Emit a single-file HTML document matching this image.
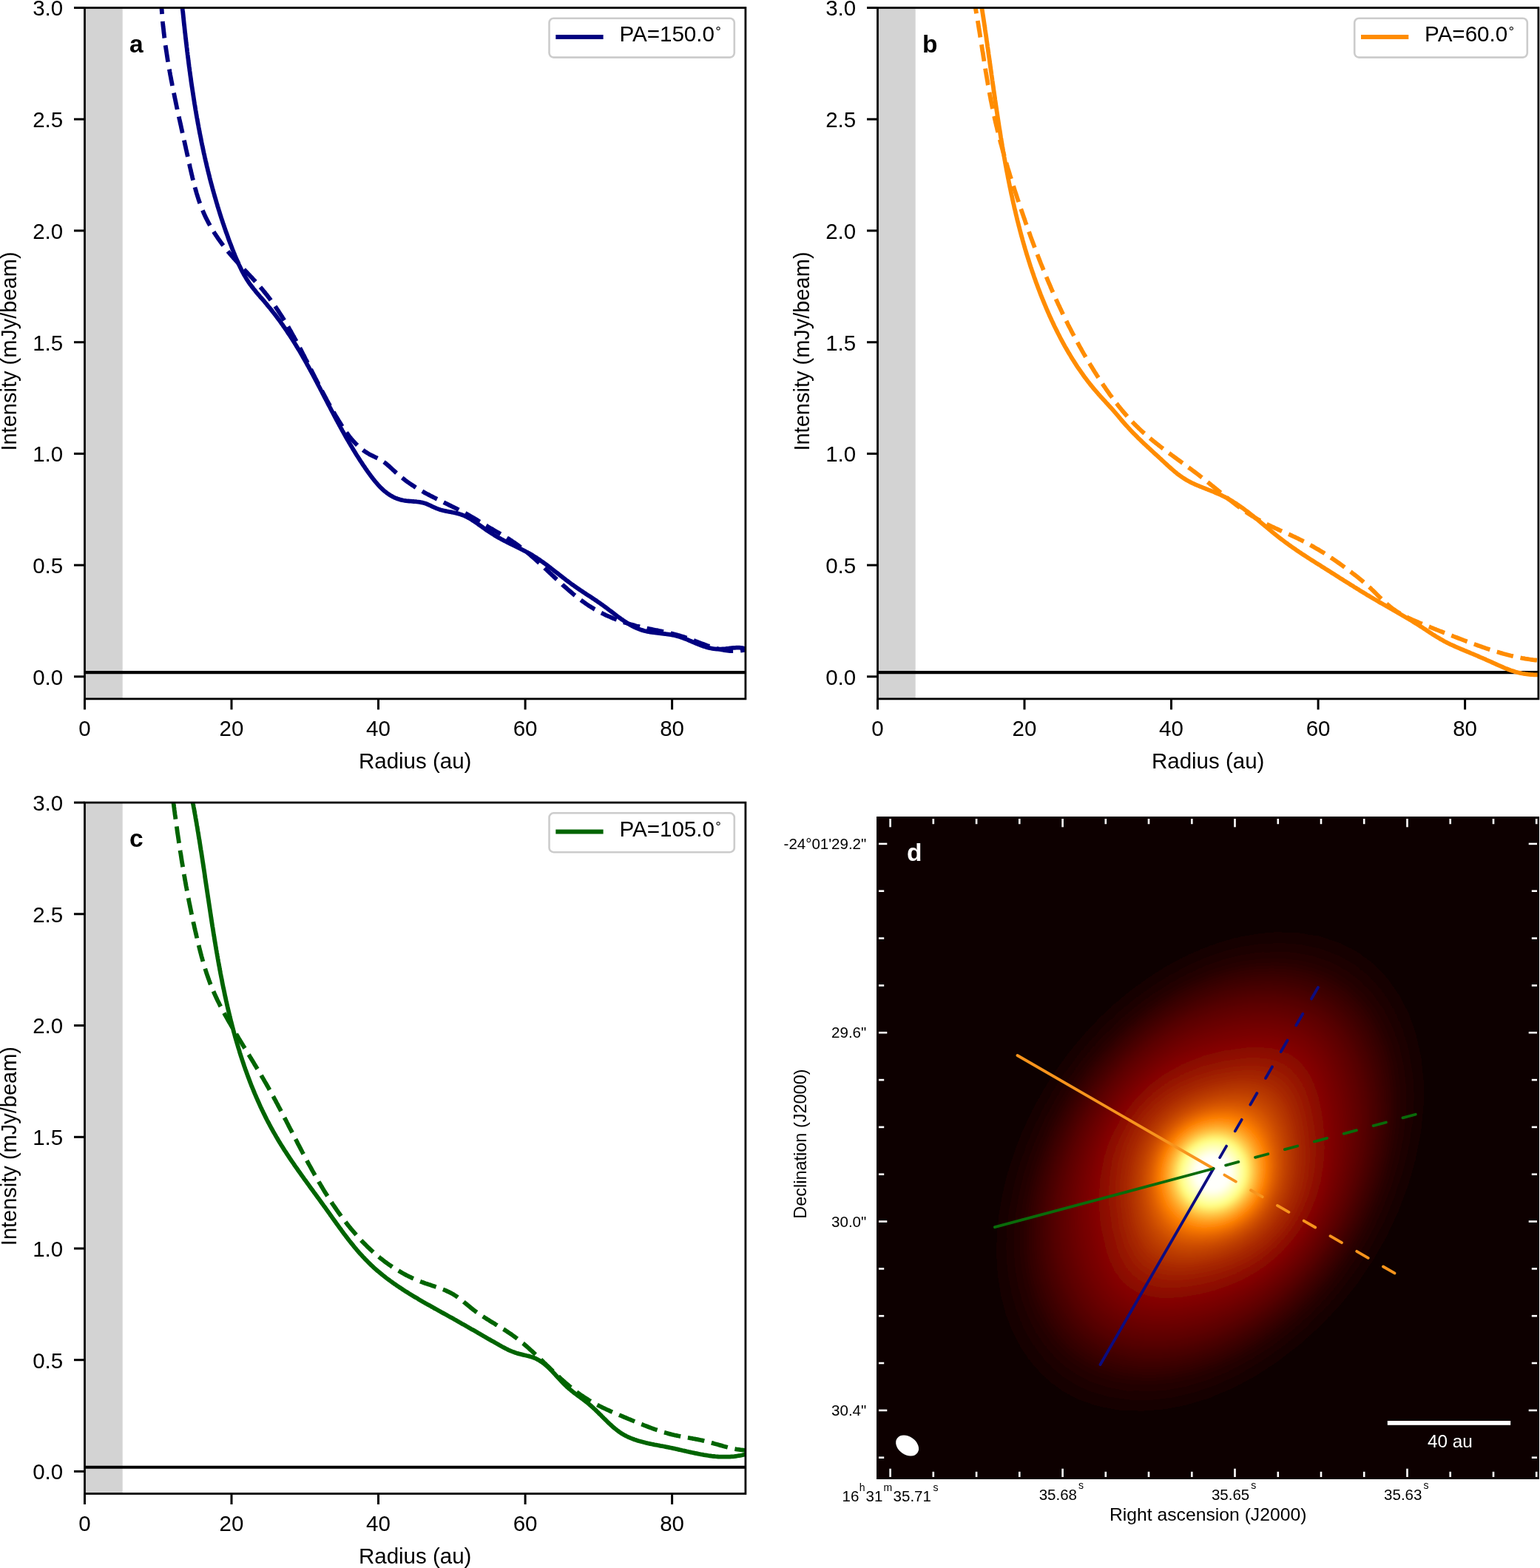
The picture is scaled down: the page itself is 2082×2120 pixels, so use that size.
<!DOCTYPE html>
<html><head><meta charset="utf-8"><title>Figure</title>
<style>html,body{margin:0;padding:0;background:#fff;}svg{display:block;}</style>
</head><body>
<svg xmlns="http://www.w3.org/2000/svg" width="2082" height="2120" viewBox="0 0 2082 2120" font-family="'Liberation Sans', Arial, Helvetica, sans-serif">
<rect width="2082" height="2120" fill="#fff"/>
<defs><clipPath id="ca"><rect x="114.5" y="10.5" width="893.4" height="934.4"/></clipPath></defs>
<rect x="114.5" y="10.5" width="51.2" height="934.4" fill="#d3d3d3"/>
<line x1="114.5" y1="909.1" x2="1007.9" y2="909.1" stroke="#000" stroke-width="4.1"/>
<g clip-path="url(#ca)" fill="none" stroke="#000080" stroke-width="5.8" stroke-linejoin="round">
<path d="M217.9,-0.2 L218.0,1.9 L218.1,3.9 L218.2,6.0 L218.3,8.0 L218.4,10.0 L218.6,12.1 L218.7,14.1 L218.9,16.1 L219.0,18.1 L219.2,20.2 L219.3,22.2 L219.5,24.2 L219.7,26.2 L219.9,28.2 L220.0,30.2 L220.2,32.2 L220.4,34.2 L220.6,36.2 L220.9,38.2 L221.1,40.2 L221.3,42.2 L221.5,44.2 L221.8,46.2 L222.0,48.2 L222.2,50.2 L222.5,52.2 L222.8,54.1 L223.0,56.1 L223.3,58.1 L223.5,60.1 L223.8,62.1 L224.1,64.0 L224.4,66.0 L224.7,68.0 L225.0,69.9 L225.3,71.9 L225.6,73.9 L225.9,75.8 L226.2,77.8 L226.5,79.7 L226.8,81.7 L227.2,83.7 L227.5,85.6 L227.8,87.6 L228.2,89.5 L228.5,91.5 L228.8,93.4 L229.2,95.4 L229.5,97.3 L229.9,99.3 L230.2,101.2 L230.6,103.2 L231.0,105.1 L231.3,107.1 L231.7,109.0 L232.1,111.0 L232.5,112.9 L232.8,114.8 L233.2,116.8 L233.6,118.7 L234.0,120.7 L234.4,122.6 L234.8,124.6 L235.2,126.5 L235.6,128.4 L236.0,130.4 L236.4,132.3 L236.8,134.3 L237.2,136.2 L237.6,138.1 L238.0,140.1 L238.4,142.0 L238.8,144.0 L239.2,145.9 L239.7,147.8 L240.1,149.8 L240.5,151.7 L240.9,153.7 L241.4,155.6 L241.8,157.5 L242.2,159.5 L242.6,161.4 L243.1,163.4 L243.5,165.3 L243.9,167.3 L244.4,169.2 L244.8,171.1 L245.2,173.1 L245.6,175.0 L246.1,177.0 L246.5,178.9 L247.0,180.9 L247.4,182.8 L247.8,184.8 L248.3,186.7 L248.7,188.7 L249.1,190.7 L249.6,192.6 L250.0,194.6 L250.4,196.5 L250.9,198.5 L251.3,200.5 L251.7,202.4 L252.2,204.4 L252.6,206.3 L253.0,208.3 L253.5,210.3 L253.9,212.3 L254.3,214.2 L254.8,216.2 L255.2,218.2 L255.6,220.2 L256.1,222.1 L256.5,224.1 L256.9,226.1 L257.4,228.1 L257.8,230.0 L258.3,232.0 L258.7,234.0 L259.2,235.9 L259.7,237.9 L260.1,239.9 L260.6,241.8 L261.1,243.8 L261.6,245.8 L262.1,247.7 L262.6,249.7 L263.1,251.6 L263.6,253.6 L264.2,255.5 L264.7,257.4 L265.3,259.4 L265.8,261.3 L266.4,263.2 L267.0,265.1 L267.6,267.0 L268.2,268.9 L268.8,270.8 L269.5,272.7 L270.1,274.6 L270.8,276.4 L271.5,278.3 L272.2,280.2 L272.9,282.0 L273.7,283.8 L274.5,285.7 L275.2,287.5 L276.0,289.3 L276.8,291.1 L277.7,292.9 L278.5,294.7 L279.4,296.4 L280.3,298.2 L281.2,299.9 L282.1,301.7 L283.1,303.4 L284.0,305.1 L285.0,306.8 L286.0,308.6 L287.0,310.2 L288.0,311.9 L289.1,313.6 L290.1,315.3 L291.2,316.9 L292.3,318.6 L293.4,320.2 L294.5,321.9 L295.6,323.5 L296.8,325.1 L297.9,326.7 L299.1,328.3 L300.3,329.9 L301.5,331.5 L302.7,333.0 L303.9,334.6 L305.1,336.2 L306.3,337.7 L307.6,339.2 L308.9,340.8 L310.1,342.3 L311.4,343.8 L312.7,345.3 L314.0,346.8 L315.3,348.3 L316.6,349.8 L318.0,351.3 L319.3,352.8 L320.6,354.2 L322.0,355.7 L323.3,357.2 L324.7,358.6 L326.1,360.1 L327.4,361.6 L328.8,363.0 L330.2,364.5 L331.5,365.9 L332.9,367.4 L334.3,368.8 L335.6,370.3 L337.0,371.7 L338.3,373.2 L339.7,374.6 L341.1,376.1 L342.4,377.6 L343.8,379.0 L345.1,380.5 L346.4,382.0 L347.8,383.4 L349.1,384.9 L350.4,386.4 L351.7,387.9 L353.0,389.4 L354.3,390.9 L355.6,392.5 L356.8,394.0 L358.1,395.5 L359.3,397.1 L360.6,398.6 L361.8,400.2 L363.0,401.8 L364.2,403.3 L365.4,404.9 L366.5,406.5 L367.7,408.1 L368.9,409.7 L370.0,411.3 L371.2,413.0 L372.3,414.6 L373.4,416.2 L374.5,417.9 L375.7,419.5 L376.7,421.2 L377.8,422.8 L378.9,424.5 L380.0,426.2 L381.1,427.8 L382.1,429.5 L383.2,431.2 L384.2,432.9 L385.3,434.6 L386.3,436.3 L387.3,438.0 L388.3,439.7 L389.4,441.4 L390.4,443.1 L391.4,444.9 L392.4,446.6 L393.4,448.3 L394.3,450.1 L395.3,451.8 L396.3,453.6 L397.3,455.3 L398.2,457.1 L399.2,458.8 L400.2,460.6 L401.1,462.3 L402.1,464.1 L403.0,465.9 L403.9,467.6 L404.9,469.4 L405.8,471.2 L406.8,473.0 L407.7,474.7 L408.6,476.5 L409.5,478.3 L410.5,480.1 L411.4,481.9 L412.3,483.7 L413.2,485.5 L414.1,487.2 L415.1,489.0 L416.0,490.8 L416.9,492.6 L417.8,494.4 L418.7,496.2 L419.6,498.0 L420.5,499.8 L421.4,501.6 L422.3,503.4 L423.3,505.2 L424.2,507.0 L425.1,508.8 L426.0,510.6 L426.9,512.3 L427.8,514.1 L428.7,515.9 L429.7,517.7 L430.6,519.5 L431.5,521.3 L432.4,523.1 L433.3,524.9 L434.3,526.6 L435.2,528.4 L436.1,530.2 L437.1,532.0 L438.0,533.7 L439.0,535.5 L439.9,537.3 L440.9,539.0 L441.8,540.8 L442.8,542.6 L443.7,544.3 L444.7,546.1 L445.7,547.8 L446.6,549.6 L447.6,551.3 L448.6,553.0 L449.6,554.8 L450.6,556.5 L451.6,558.2 L452.6,560.0 L453.6,561.7 L454.6,563.4 L455.7,565.1 L456.7,566.8 L457.7,568.5 L458.8,570.2 L459.8,571.9 L460.9,573.6 L461.9,575.2 L463.0,576.9 L464.1,578.5 L465.2,580.2 L466.3,581.8 L467.5,583.4 L468.6,585.0 L469.8,586.6 L471.0,588.2 L472.1,589.8 L473.4,591.3 L474.6,592.8 L475.9,594.3 L477.1,595.8 L478.5,597.2 L479.8,598.6 L481.1,600.0 L482.5,601.4 L483.9,602.8 L485.4,604.1 L486.8,605.3 L488.3,606.6 L489.9,607.8 L491.4,609.0 L493.0,610.1 L494.7,611.3 L496.3,612.3 L498.1,613.4 L499.8,614.4 L501.6,615.3 L503.4,616.2 L505.3,617.1 L507.1,618.0 L509.0,618.9 L510.8,619.8 L512.6,620.7 L514.4,621.7 L516.2,622.7 L517.8,623.8 L519.5,625.0 L521.0,626.1 L522.6,627.4 L524.1,628.7 L525.6,630.0 L527.1,631.3 L528.5,632.6 L530.0,634.0 L531.4,635.3 L532.9,636.7 L534.3,638.0 L535.8,639.4 L537.3,640.7 L538.8,642.0 L540.4,643.3 L541.9,644.5 L543.4,645.8 L545.0,647.0 L546.6,648.3 L548.1,649.5 L549.7,650.7 L551.3,651.8 L553.0,653.0 L554.6,654.1 L556.2,655.2 L557.9,656.3 L559.6,657.4 L561.2,658.5 L562.9,659.6 L564.6,660.6 L566.3,661.6 L568.0,662.6 L569.8,663.6 L571.5,664.6 L573.2,665.6 L575.0,666.6 L576.7,667.5 L578.5,668.4 L580.3,669.4 L582.0,670.3 L583.8,671.2 L585.6,672.1 L587.4,673.0 L589.2,673.9 L591.0,674.8 L592.8,675.7 L594.6,676.6 L596.4,677.5 L598.2,678.4 L600.0,679.3 L601.8,680.2 L603.6,681.0 L605.4,681.9 L607.2,682.8 L609.0,683.7 L610.8,684.6 L612.6,685.5 L614.4,686.3 L616.1,687.2 L617.9,688.1 L619.7,689.0 L621.5,690.0 L623.3,690.9 L625.0,691.8 L626.8,692.7 L628.6,693.7 L630.3,694.6 L632.1,695.6 L633.8,696.6 L635.5,697.6 L637.2,698.6 L639.0,699.6 L640.7,700.6 L642.4,701.6 L644.1,702.6 L645.8,703.6 L647.5,704.7 L649.2,705.7 L650.9,706.7 L652.6,707.7 L654.3,708.8 L656.0,709.8 L657.7,710.8 L659.4,711.9 L661.1,712.9 L662.8,713.9 L664.5,714.9 L666.3,715.9 L668.0,716.9 L669.7,717.9 L671.4,718.9 L673.1,719.9 L674.9,720.9 L676.6,721.9 L678.3,722.9 L680.0,723.9 L681.7,725.0 L683.4,726.0 L685.1,727.0 L686.8,728.1 L688.5,729.1 L690.1,730.2 L691.8,731.3 L693.4,732.4 L695.1,733.5 L696.7,734.6 L698.3,735.7 L699.9,736.9 L701.5,738.1 L703.1,739.3 L704.7,740.4 L706.2,741.7 L707.8,742.9 L709.3,744.1 L710.9,745.4 L712.4,746.6 L713.9,747.9 L715.4,749.1 L716.9,750.4 L718.4,751.7 L719.9,753.0 L721.4,754.3 L722.9,755.6 L724.4,757.0 L725.9,758.3 L727.3,759.6 L728.8,761.0 L730.3,762.3 L731.7,763.7 L733.2,765.0 L734.6,766.4 L736.1,767.7 L737.5,769.1 L739.0,770.5 L740.4,771.8 L741.9,773.2 L743.3,774.6 L744.8,775.9 L746.2,777.3 L747.7,778.7 L749.1,780.0 L750.6,781.4 L752.0,782.8 L753.5,784.1 L755.0,785.5 L756.4,786.8 L757.9,788.2 L759.4,789.5 L760.8,790.9 L762.3,792.2 L763.8,793.5 L765.3,794.8 L766.8,796.1 L768.3,797.5 L769.8,798.7 L771.3,800.0 L772.8,801.3 L774.3,802.6 L775.8,803.9 L777.4,805.1 L778.9,806.3 L780.5,807.6 L782.0,808.8 L783.6,810.0 L785.2,811.2 L786.8,812.4 L788.4,813.5 L790.0,814.7 L791.6,815.8 L793.3,817.0 L794.9,818.1 L796.6,819.2 L798.3,820.2 L799.9,821.3 L801.6,822.3 L803.3,823.4 L805.1,824.4 L806.8,825.3 L808.6,826.3 L810.3,827.3 L812.1,828.2 L813.9,829.1 L815.7,830.0 L817.5,830.9 L819.3,831.8 L821.1,832.6 L823.0,833.4 L824.8,834.2 L826.7,835.0 L828.5,835.8 L830.4,836.6 L832.3,837.3 L834.2,838.0 L836.1,838.7 L838.0,839.4 L839.9,840.1 L841.8,840.8 L843.7,841.4 L845.6,842.0 L847.5,842.6 L849.4,843.2 L851.4,843.8 L853.3,844.4 L855.2,844.9 L857.1,845.4 L859.1,846.0 L861.0,846.5 L862.9,846.9 L864.9,847.4 L866.8,847.9 L868.7,848.3 L870.7,848.7 L872.6,849.1 L874.5,849.5 L876.4,849.9 L878.4,850.3 L880.3,850.7 L882.2,851.1 L884.1,851.5 L886.1,851.9 L888.0,852.2 L889.9,852.6 L891.8,853.0 L893.7,853.4 L895.7,853.8 L897.6,854.2 L899.5,854.6 L901.4,855.0 L903.3,855.4 L905.2,855.8 L907.1,856.3 L909.0,856.7 L910.9,857.2 L912.8,857.7 L914.8,858.2 L916.6,858.8 L918.5,859.3 L920.4,859.9 L922.3,860.5 L924.2,861.1 L926.1,861.7 L928.0,862.4 L929.9,863.0 L931.8,863.7 L933.7,864.4 L935.5,865.1 L937.4,865.8 L939.3,866.5 L941.2,867.3 L943.1,868.0 L945.0,868.7 L946.9,869.4 L948.7,870.1 L950.6,870.8 L952.5,871.5 L954.4,872.2 L956.3,872.9 L958.2,873.5 L960.1,874.1 L962.0,874.8 L963.9,875.4 L965.8,875.9 L967.7,876.5 L969.6,877.0 L971.6,877.5 L973.5,877.9 L975.4,878.3 L977.3,878.7 L979.3,879.1 L981.2,879.4 L983.2,879.6 L985.1,879.8 L987.1,880.0 L989.0,880.1 L991.0,880.2 L993.0,880.2 L994.9,880.2 L996.9,880.1 L998.9,879.9 L1000.9,879.7 L1002.9,879.4 L1005.0,879.1 L1007.0,878.7 L1009.0,878.2 L1011.1,877.6 L1013.1,877.0 L1015.2,876.3" stroke-dasharray="22.8 9.9" stroke-dashoffset="3.6"/>
<path d="M245.5,-0.1 L245.7,1.9 L245.9,3.9 L246.1,5.9 L246.3,7.9 L246.5,9.9 L246.7,11.9 L246.9,13.9 L247.2,15.9 L247.4,17.9 L247.6,19.9 L247.8,21.9 L248.0,23.8 L248.2,25.8 L248.4,27.8 L248.6,29.8 L248.8,31.8 L249.0,33.8 L249.3,35.8 L249.5,37.8 L249.7,39.8 L249.9,41.8 L250.1,43.8 L250.4,45.7 L250.6,47.7 L250.8,49.7 L251.0,51.7 L251.3,53.7 L251.5,55.7 L251.7,57.7 L252.0,59.7 L252.2,61.7 L252.4,63.6 L252.7,65.6 L252.9,67.6 L253.1,69.6 L253.4,71.6 L253.6,73.6 L253.9,75.6 L254.1,77.5 L254.4,79.5 L254.6,81.5 L254.9,83.5 L255.1,85.5 L255.4,87.5 L255.6,89.4 L255.9,91.4 L256.2,93.4 L256.4,95.4 L256.7,97.4 L257.0,99.4 L257.2,101.3 L257.5,103.3 L257.8,105.3 L258.1,107.3 L258.3,109.2 L258.6,111.2 L258.9,113.2 L259.2,115.2 L259.5,117.2 L259.8,119.1 L260.1,121.1 L260.4,123.1 L260.7,125.1 L261.0,127.0 L261.3,129.0 L261.6,131.0 L261.9,132.9 L262.2,134.9 L262.5,136.9 L262.8,138.9 L263.1,140.8 L263.5,142.8 L263.8,144.8 L264.1,146.7 L264.4,148.7 L264.8,150.7 L265.1,152.6 L265.4,154.6 L265.8,156.6 L266.1,158.5 L266.5,160.5 L266.8,162.4 L267.2,164.4 L267.5,166.4 L267.9,168.3 L268.3,170.3 L268.6,172.3 L269.0,174.2 L269.4,176.2 L269.7,178.1 L270.1,180.1 L270.5,182.0 L270.9,184.0 L271.3,185.9 L271.7,187.9 L272.0,189.9 L272.4,191.8 L272.8,193.8 L273.2,195.7 L273.7,197.7 L274.1,199.6 L274.5,201.6 L274.9,203.5 L275.3,205.5 L275.7,207.4 L276.2,209.3 L276.6,211.3 L277.0,213.2 L277.5,215.2 L277.9,217.1 L278.4,219.1 L278.8,221.0 L279.3,222.9 L279.7,224.9 L280.2,226.8 L280.7,228.8 L281.1,230.7 L281.6,232.6 L282.1,234.6 L282.6,236.5 L283.1,238.4 L283.5,240.4 L284.0,242.3 L284.5,244.2 L285.0,246.1 L285.5,248.1 L286.1,250.0 L286.6,251.9 L287.1,253.9 L287.6,255.8 L288.1,257.7 L288.7,259.6 L289.2,261.5 L289.8,263.5 L290.3,265.4 L290.9,267.3 L291.4,269.2 L292.0,271.1 L292.5,273.1 L293.1,275.0 L293.7,276.9 L294.2,278.8 L294.8,280.7 L295.4,282.6 L296.0,284.5 L296.6,286.4 L297.2,288.3 L297.8,290.3 L298.4,292.2 L299.0,294.1 L299.6,296.0 L300.3,297.9 L300.9,299.8 L301.5,301.7 L302.2,303.6 L302.8,305.5 L303.5,307.4 L304.1,309.3 L304.8,311.2 L305.4,313.1 L306.1,314.9 L306.8,316.8 L307.5,318.7 L308.1,320.6 L308.8,322.5 L309.5,324.4 L310.2,326.3 L310.9,328.2 L311.6,330.0 L312.4,331.9 L313.1,333.8 L313.8,335.7 L314.5,337.6 L315.3,339.4 L316.0,341.3 L316.8,343.2 L317.5,345.1 L318.3,346.9 L319.1,348.8 L319.9,350.6 L320.7,352.5 L321.5,354.3 L322.3,356.2 L323.1,358.0 L324.0,359.8 L324.9,361.6 L325.7,363.4 L326.6,365.2 L327.5,367.0 L328.5,368.7 L329.4,370.5 L330.4,372.2 L331.4,373.9 L332.4,375.6 L333.4,377.3 L334.5,379.0 L335.6,380.6 L336.7,382.3 L337.8,383.9 L339.0,385.5 L340.2,387.1 L341.4,388.6 L342.6,390.2 L343.8,391.7 L345.1,393.2 L346.3,394.8 L347.6,396.3 L348.9,397.8 L350.2,399.3 L351.4,400.8 L352.7,402.3 L354.0,403.7 L355.3,405.2 L356.6,406.7 L357.9,408.2 L359.1,409.7 L360.4,411.2 L361.7,412.8 L362.9,414.3 L364.2,415.8 L365.4,417.3 L366.7,418.9 L367.9,420.4 L369.1,422.0 L370.3,423.5 L371.6,425.1 L372.8,426.7 L374.0,428.3 L375.2,429.9 L376.4,431.5 L377.6,433.1 L378.8,434.7 L379.9,436.3 L381.1,438.0 L382.3,439.6 L383.4,441.3 L384.6,442.9 L385.7,444.6 L386.9,446.2 L388.0,447.9 L389.1,449.6 L390.2,451.3 L391.4,452.9 L392.5,454.6 L393.6,456.3 L394.6,458.0 L395.7,459.7 L396.8,461.4 L397.9,463.1 L398.9,464.8 L400.0,466.5 L401.0,468.3 L402.1,470.0 L403.1,471.7 L404.2,473.4 L405.2,475.1 L406.2,476.8 L407.2,478.6 L408.2,480.3 L409.2,482.0 L410.2,483.8 L411.2,485.5 L412.2,487.2 L413.2,489.0 L414.2,490.7 L415.1,492.5 L416.1,494.2 L417.1,495.9 L418.0,497.7 L419.0,499.4 L419.9,501.2 L420.9,502.9 L421.8,504.7 L422.8,506.4 L423.7,508.2 L424.7,510.0 L425.6,511.7 L426.5,513.5 L427.5,515.2 L428.4,517.0 L429.3,518.8 L430.2,520.5 L431.2,522.3 L432.1,524.0 L433.0,525.8 L433.9,527.6 L434.9,529.3 L435.8,531.1 L436.7,532.9 L437.6,534.6 L438.5,536.4 L439.4,538.1 L440.4,539.9 L441.3,541.7 L442.2,543.4 L443.1,545.2 L444.0,547.0 L445.0,548.7 L445.9,550.5 L446.8,552.2 L447.7,554.0 L448.6,555.8 L449.6,557.5 L450.5,559.3 L451.4,561.0 L452.3,562.8 L453.3,564.6 L454.2,566.3 L455.1,568.1 L456.1,569.8 L457.0,571.6 L458.0,573.3 L458.9,575.1 L459.9,576.8 L460.8,578.6 L461.8,580.3 L462.7,582.1 L463.7,583.8 L464.7,585.5 L465.7,587.3 L466.6,589.0 L467.6,590.8 L468.6,592.5 L469.6,594.2 L470.6,595.9 L471.6,597.7 L472.6,599.4 L473.6,601.1 L474.6,602.8 L475.7,604.6 L476.7,606.3 L477.7,608.0 L478.8,609.7 L479.8,611.4 L480.9,613.1 L481.9,614.8 L483.0,616.5 L484.1,618.2 L485.2,619.9 L486.3,621.6 L487.4,623.3 L488.5,624.9 L489.6,626.6 L490.7,628.3 L491.8,630.0 L493.0,631.6 L494.1,633.3 L495.3,635.0 L496.4,636.6 L497.6,638.3 L498.8,639.9 L500.0,641.6 L501.2,643.2 L502.4,644.8 L503.6,646.4 L504.9,648.0 L506.1,649.6 L507.4,651.2 L508.7,652.7 L510.0,654.2 L511.3,655.7 L512.7,657.1 L514.0,658.6 L515.4,659.9 L516.8,661.3 L518.3,662.6 L519.7,663.9 L521.2,665.1 L522.7,666.3 L524.3,667.4 L525.8,668.5 L527.4,669.5 L529.1,670.5 L530.7,671.4 L532.4,672.3 L534.1,673.1 L535.9,673.8 L537.7,674.5 L539.5,675.1 L541.4,675.7 L543.3,676.1 L545.3,676.5 L547.2,676.8 L549.2,677.1 L551.3,677.3 L553.3,677.5 L555.4,677.6 L557.5,677.8 L559.6,678.0 L561.6,678.1 L563.7,678.4 L565.7,678.6 L567.7,678.9 L569.7,679.3 L571.7,679.7 L573.6,680.2 L575.4,680.8 L577.3,681.5 L579.1,682.3 L580.9,683.1 L582.6,683.9 L584.4,684.8 L586.2,685.6 L587.9,686.4 L589.7,687.2 L591.6,687.9 L593.4,688.6 L595.3,689.2 L597.2,689.7 L599.2,690.2 L601.2,690.7 L603.1,691.1 L605.1,691.5 L607.1,691.9 L609.1,692.2 L611.1,692.6 L613.1,693.0 L615.1,693.5 L617.1,693.9 L619.1,694.4 L621.0,694.9 L622.9,695.5 L624.8,696.2 L626.6,696.9 L628.4,697.7 L630.2,698.5 L631.9,699.4 L633.7,700.3 L635.4,701.3 L637.1,702.3 L638.7,703.4 L640.4,704.4 L642.0,705.5 L643.7,706.7 L645.3,707.8 L646.9,709.0 L648.5,710.1 L650.1,711.3 L651.8,712.4 L653.4,713.6 L655.0,714.7 L656.6,715.9 L658.2,717.0 L659.9,718.1 L661.5,719.2 L663.2,720.2 L664.8,721.3 L666.5,722.4 L668.1,723.4 L669.8,724.4 L671.5,725.4 L673.2,726.4 L674.9,727.4 L676.6,728.3 L678.3,729.3 L680.1,730.2 L681.8,731.1 L683.6,732.0 L685.3,732.9 L687.1,733.8 L688.8,734.7 L690.6,735.6 L692.4,736.4 L694.2,737.3 L695.9,738.2 L697.7,739.0 L699.5,739.9 L701.3,740.8 L703.0,741.7 L704.8,742.6 L706.6,743.5 L708.3,744.4 L710.1,745.3 L711.8,746.2 L713.6,747.2 L715.3,748.1 L717.0,749.1 L718.7,750.1 L720.4,751.1 L722.1,752.2 L723.8,753.2 L725.5,754.3 L727.1,755.4 L728.8,756.5 L730.4,757.6 L732.1,758.8 L733.7,759.9 L735.3,761.1 L736.9,762.2 L738.5,763.4 L740.1,764.6 L741.7,765.8 L743.3,767.0 L744.9,768.3 L746.5,769.5 L748.1,770.7 L749.6,771.9 L751.2,773.2 L752.8,774.4 L754.4,775.6 L756.0,776.9 L757.5,778.1 L759.1,779.3 L760.7,780.6 L762.3,781.8 L763.9,783.0 L765.4,784.2 L767.0,785.4 L768.6,786.6 L770.2,787.8 L771.8,789.0 L773.4,790.2 L775.1,791.3 L776.7,792.5 L778.3,793.6 L779.9,794.8 L781.6,795.9 L783.2,797.0 L784.9,798.1 L786.5,799.2 L788.2,800.3 L789.8,801.4 L791.5,802.5 L793.1,803.6 L794.8,804.7 L796.5,805.7 L798.1,806.8 L799.8,807.9 L801.4,809.0 L803.1,810.1 L804.7,811.2 L806.4,812.3 L808.0,813.5 L809.7,814.6 L811.3,815.7 L812.9,816.9 L814.6,818.0 L816.2,819.2 L817.8,820.4 L819.4,821.5 L821.0,822.7 L822.6,824.0 L824.2,825.2 L825.8,826.4 L827.4,827.6 L829.0,828.8 L830.6,830.1 L832.2,831.3 L833.8,832.5 L835.4,833.7 L837.0,834.9 L838.6,836.0 L840.2,837.2 L841.9,838.3 L843.5,839.5 L845.1,840.6 L846.8,841.6 L848.4,842.7 L850.1,843.7 L851.8,844.7 L853.5,845.7 L855.2,846.6 L856.9,847.5 L858.7,848.3 L860.4,849.1 L862.2,849.9 L864.0,850.6 L865.9,851.3 L867.7,851.9 L869.6,852.4 L871.4,853.0 L873.4,853.4 L875.3,853.8 L877.2,854.2 L879.2,854.6 L881.2,854.9 L883.2,855.2 L885.2,855.4 L887.2,855.7 L889.2,855.9 L891.2,856.1 L893.2,856.3 L895.2,856.6 L897.2,856.8 L899.3,857.0 L901.3,857.3 L903.3,857.6 L905.3,857.9 L907.3,858.2 L909.2,858.6 L911.2,859.0 L913.2,859.4 L915.1,859.9 L917.0,860.5 L918.9,861.1 L920.8,861.7 L922.7,862.3 L924.5,863.0 L926.4,863.7 L928.2,864.4 L930.0,865.2 L931.9,866.0 L933.7,866.7 L935.5,867.5 L937.3,868.3 L939.1,869.0 L940.9,869.8 L942.7,870.6 L944.5,871.3 L946.4,872.0 L948.2,872.7 L950.0,873.4 L951.8,874.0 L953.7,874.6 L955.5,875.2 L957.4,875.7 L959.3,876.1 L961.2,876.5 L963.1,876.9 L965.0,877.2 L966.9,877.4 L968.9,877.6 L970.9,877.6 L972.9,877.7 L974.9,877.6 L976.9,877.4 L979.0,877.3 L981.0,877.1 L983.1,876.8 L985.2,876.6 L987.3,876.3 L989.3,876.1 L991.4,875.9 L993.5,875.8 L995.5,875.7 L997.6,875.7 L999.6,875.7 L1001.6,875.9 L1003.6,876.2 L1005.5,876.6 L1007.5,877.1 L1009.4,877.8 L1011.2,878.6 L1013.0,879.7 L1014.8,880.9"/>
</g>
<rect x="114.5" y="10.5" width="893.4" height="934.4" fill="none" stroke="#000" stroke-width="2.8"/>
<line x1="100.0" y1="914.8" x2="114.5" y2="914.8" stroke="#000" stroke-width="3"/>
<text x="85.2" y="925.7" font-size="29.5" text-anchor="end">0.0</text>
<line x1="100.0" y1="764.1" x2="114.5" y2="764.1" stroke="#000" stroke-width="3"/>
<text x="85.2" y="775.0" font-size="29.5" text-anchor="end">0.5</text>
<line x1="100.0" y1="613.4" x2="114.5" y2="613.4" stroke="#000" stroke-width="3"/>
<text x="85.2" y="624.3" font-size="29.5" text-anchor="end">1.0</text>
<line x1="100.0" y1="462.7" x2="114.5" y2="462.7" stroke="#000" stroke-width="3"/>
<text x="85.2" y="473.6" font-size="29.5" text-anchor="end">1.5</text>
<line x1="100.0" y1="311.9" x2="114.5" y2="311.9" stroke="#000" stroke-width="3"/>
<text x="85.2" y="322.8" font-size="29.5" text-anchor="end">2.0</text>
<line x1="100.0" y1="161.2" x2="114.5" y2="161.2" stroke="#000" stroke-width="3"/>
<text x="85.2" y="172.1" font-size="29.5" text-anchor="end">2.5</text>
<line x1="100.0" y1="10.5" x2="114.5" y2="10.5" stroke="#000" stroke-width="3"/>
<text x="85.2" y="21.4" font-size="29.5" text-anchor="end">3.0</text>
<line x1="114.5" y1="944.9" x2="114.5" y2="959.4" stroke="#000" stroke-width="3"/>
<text x="114.5" y="995.2" font-size="29.5" text-anchor="middle">0</text>
<line x1="313.0" y1="944.9" x2="313.0" y2="959.4" stroke="#000" stroke-width="3"/>
<text x="313.0" y="995.2" font-size="29.5" text-anchor="middle">20</text>
<line x1="511.5" y1="944.9" x2="511.5" y2="959.4" stroke="#000" stroke-width="3"/>
<text x="511.5" y="995.2" font-size="29.5" text-anchor="middle">40</text>
<line x1="710.1" y1="944.9" x2="710.1" y2="959.4" stroke="#000" stroke-width="3"/>
<text x="710.1" y="995.2" font-size="29.5" text-anchor="middle">60</text>
<line x1="908.6" y1="944.9" x2="908.6" y2="959.4" stroke="#000" stroke-width="3"/>
<text x="908.6" y="995.2" font-size="29.5" text-anchor="middle">80</text>
<text x="561.2" y="1039.1" font-size="29.5" text-anchor="middle">Radius (au)</text>
<text transform="translate(22.4,475.0) rotate(-90)" x="0" y="0" font-size="29" text-anchor="middle">Intensity (mJy/beam)</text>
<rect x="742.5" y="24.7" width="250.3" height="52.9" rx="6" ry="6" fill="#fff" fill-opacity="0.8" stroke="#cccccc" stroke-width="2.6"/>
<line x1="751.3" y1="50.0" x2="815.6" y2="50.0" stroke="#000080" stroke-width="6"/>
<text x="837.4" y="55.9" font-size="29.6">PA=150.0<tspan font-size="19" dx="1.2" dy="-6.8">°</tspan></text>
<text x="175.0" y="70.5" font-size="33.5" font-weight="bold">a</text>
<defs><clipPath id="cb"><rect x="1186.5" y="10.5" width="893.4000000000001" height="934.4"/></clipPath></defs>
<rect x="1186.5" y="10.5" width="51.2" height="934.4" fill="#d3d3d3"/>
<line x1="1186.5" y1="909.1" x2="2079.9" y2="909.1" stroke="#000" stroke-width="4.1"/>
<g clip-path="url(#cb)" fill="none" stroke="#ff8c00" stroke-width="5.8" stroke-linejoin="round">
<path d="M1316.8,0.2 L1317.2,2.1 L1317.5,4.1 L1317.9,6.0 L1318.2,8.0 L1318.6,9.9 L1319.0,11.9 L1319.3,13.9 L1319.7,15.8 L1320.0,17.8 L1320.3,19.7 L1320.7,21.7 L1321.0,23.7 L1321.4,25.6 L1321.7,27.6 L1322.0,29.6 L1322.4,31.5 L1322.7,33.5 L1323.0,35.5 L1323.3,37.4 L1323.6,39.4 L1324.0,41.4 L1324.3,43.4 L1324.6,45.3 L1324.9,47.3 L1325.2,49.3 L1325.5,51.2 L1325.9,53.2 L1326.2,55.2 L1326.5,57.2 L1326.8,59.2 L1327.1,61.1 L1327.4,63.1 L1327.7,65.1 L1328.0,67.1 L1328.3,69.0 L1328.7,71.0 L1329.0,73.0 L1329.3,75.0 L1329.6,77.0 L1329.9,78.9 L1330.2,80.9 L1330.5,82.9 L1330.8,84.9 L1331.1,86.8 L1331.5,88.8 L1331.8,90.8 L1332.1,92.8 L1332.4,94.8 L1332.7,96.7 L1333.1,98.7 L1333.4,100.7 L1333.7,102.7 L1334.1,104.6 L1334.4,106.6 L1334.7,108.6 L1335.1,110.5 L1335.4,112.5 L1335.7,114.5 L1336.1,116.5 L1336.4,118.4 L1336.8,120.4 L1337.1,122.4 L1337.5,124.3 L1337.9,126.3 L1338.2,128.2 L1338.6,130.2 L1339.0,132.2 L1339.3,134.1 L1339.7,136.1 L1340.1,138.0 L1340.5,140.0 L1340.9,142.0 L1341.3,143.9 L1341.7,145.9 L1342.1,147.8 L1342.5,149.8 L1342.9,151.7 L1343.3,153.7 L1343.7,155.6 L1344.2,157.5 L1344.6,159.5 L1345.0,161.4 L1345.5,163.4 L1345.9,165.3 L1346.4,167.2 L1346.8,169.2 L1347.3,171.1 L1347.8,173.0 L1348.2,175.0 L1348.7,176.9 L1349.2,178.8 L1349.7,180.7 L1350.2,182.7 L1350.6,184.6 L1351.1,186.5 L1351.6,188.4 L1352.1,190.3 L1352.6,192.3 L1353.1,194.2 L1353.7,196.1 L1354.2,198.0 L1354.7,199.9 L1355.2,201.8 L1355.7,203.8 L1356.3,205.7 L1356.8,207.6 L1357.4,209.5 L1357.9,211.4 L1358.4,213.3 L1359.0,215.2 L1359.5,217.1 L1360.1,219.0 L1360.7,220.9 L1361.2,222.8 L1361.8,224.7 L1362.3,226.6 L1362.9,228.5 L1363.5,230.4 L1364.1,232.3 L1364.6,234.2 L1365.2,236.1 L1365.8,238.0 L1366.4,239.9 L1367.0,241.8 L1367.6,243.7 L1368.2,245.6 L1368.8,247.5 L1369.4,249.4 L1370.0,251.3 L1370.6,253.2 L1371.2,255.1 L1371.8,257.0 L1372.4,258.9 L1373.0,260.7 L1373.6,262.6 L1374.3,264.5 L1374.9,266.4 L1375.5,268.3 L1376.1,270.2 L1376.8,272.1 L1377.4,274.0 L1378.0,275.9 L1378.7,277.8 L1379.3,279.6 L1379.9,281.5 L1380.6,283.4 L1381.2,285.3 L1381.9,287.2 L1382.5,289.1 L1383.2,291.0 L1383.8,292.9 L1384.5,294.7 L1385.1,296.6 L1385.8,298.5 L1386.4,300.4 L1387.1,302.3 L1387.8,304.2 L1388.4,306.0 L1389.1,307.9 L1389.8,309.8 L1390.4,311.7 L1391.1,313.6 L1391.8,315.4 L1392.5,317.3 L1393.1,319.2 L1393.8,321.1 L1394.5,323.0 L1395.2,324.8 L1395.9,326.7 L1396.6,328.6 L1397.3,330.5 L1398.0,332.3 L1398.7,334.2 L1399.4,336.1 L1400.1,337.9 L1400.8,339.8 L1401.5,341.7 L1402.3,343.5 L1403.0,345.4 L1403.7,347.3 L1404.4,349.1 L1405.1,351.0 L1405.9,352.9 L1406.6,354.7 L1407.3,356.6 L1408.1,358.4 L1408.8,360.3 L1409.6,362.1 L1410.3,364.0 L1411.1,365.9 L1411.8,367.7 L1412.6,369.6 L1413.4,371.4 L1414.1,373.3 L1414.9,375.1 L1415.7,376.9 L1416.4,378.8 L1417.2,380.6 L1418.0,382.5 L1418.8,384.3 L1419.6,386.1 L1420.3,388.0 L1421.1,389.8 L1421.9,391.7 L1422.7,393.5 L1423.5,395.3 L1424.4,397.1 L1425.2,399.0 L1426.0,400.8 L1426.8,402.6 L1427.6,404.4 L1428.4,406.3 L1429.3,408.1 L1430.1,409.9 L1430.9,411.7 L1431.8,413.5 L1432.6,415.3 L1433.5,417.1 L1434.3,418.9 L1435.2,420.7 L1436.0,422.6 L1436.9,424.4 L1437.8,426.2 L1438.6,427.9 L1439.5,429.7 L1440.4,431.5 L1441.3,433.3 L1442.2,435.1 L1443.1,436.9 L1443.9,438.7 L1444.8,440.5 L1445.8,442.3 L1446.7,444.0 L1447.6,445.8 L1448.5,447.6 L1449.4,449.3 L1450.3,451.1 L1451.3,452.9 L1452.2,454.6 L1453.1,456.4 L1454.1,458.2 L1455.0,459.9 L1456.0,461.7 L1456.9,463.4 L1457.9,465.2 L1458.8,466.9 L1459.8,468.7 L1460.8,470.4 L1461.8,472.2 L1462.7,473.9 L1463.7,475.6 L1464.7,477.4 L1465.7,479.1 L1466.7,480.8 L1467.7,482.5 L1468.7,484.3 L1469.7,486.0 L1470.7,487.7 L1471.8,489.4 L1472.8,491.1 L1473.8,492.8 L1474.9,494.5 L1475.9,496.2 L1477.0,497.9 L1478.0,499.6 L1479.1,501.3 L1480.1,503.0 L1481.2,504.7 L1482.3,506.4 L1483.3,508.1 L1484.4,509.7 L1485.5,511.4 L1486.6,513.1 L1487.7,514.8 L1488.8,516.4 L1489.9,518.1 L1491.0,519.7 L1492.1,521.4 L1493.3,523.0 L1494.4,524.7 L1495.5,526.3 L1496.7,528.0 L1497.8,529.6 L1499.0,531.2 L1500.1,532.9 L1501.3,534.5 L1502.5,536.1 L1503.7,537.7 L1504.8,539.3 L1506.0,540.9 L1507.2,542.5 L1508.4,544.1 L1509.7,545.7 L1510.9,547.2 L1512.1,548.8 L1513.4,550.3 L1514.6,551.9 L1515.9,553.4 L1517.1,555.0 L1518.4,556.5 L1519.7,558.0 L1521.0,559.5 L1522.3,561.0 L1523.6,562.5 L1524.9,564.0 L1526.3,565.5 L1527.6,566.9 L1529.0,568.4 L1530.3,569.8 L1531.7,571.2 L1533.1,572.7 L1534.5,574.1 L1535.9,575.5 L1537.3,576.9 L1538.7,578.2 L1540.1,579.6 L1541.6,581.0 L1543.0,582.3 L1544.5,583.7 L1546.0,585.0 L1547.5,586.3 L1548.9,587.6 L1550.4,588.9 L1552.0,590.2 L1553.5,591.5 L1555.0,592.8 L1556.5,594.0 L1558.1,595.3 L1559.6,596.6 L1561.2,597.8 L1562.7,599.1 L1564.3,600.3 L1565.9,601.5 L1567.4,602.8 L1569.0,604.0 L1570.6,605.2 L1572.2,606.4 L1573.8,607.6 L1575.4,608.8 L1577.0,610.0 L1578.6,611.2 L1580.2,612.4 L1581.8,613.6 L1583.4,614.8 L1585.0,616.0 L1586.7,617.2 L1588.3,618.4 L1589.9,619.5 L1591.5,620.7 L1593.1,621.9 L1594.8,623.1 L1596.4,624.3 L1598.0,625.5 L1599.6,626.6 L1601.3,627.8 L1602.9,629.0 L1604.5,630.2 L1606.1,631.4 L1607.7,632.6 L1609.4,633.8 L1611.0,635.0 L1612.6,636.2 L1614.2,637.4 L1615.8,638.6 L1617.4,639.8 L1619.0,641.0 L1620.6,642.2 L1622.2,643.5 L1623.8,644.7 L1625.4,645.9 L1627.0,647.2 L1628.5,648.4 L1630.1,649.7 L1631.7,650.9 L1633.2,652.2 L1634.8,653.4 L1636.4,654.7 L1637.9,656.0 L1639.5,657.2 L1641.0,658.5 L1642.6,659.8 L1644.1,661.0 L1645.7,662.3 L1647.2,663.6 L1648.8,664.8 L1650.3,666.1 L1651.9,667.4 L1653.4,668.6 L1655.0,669.9 L1656.5,671.1 L1658.1,672.4 L1659.6,673.6 L1661.2,674.9 L1662.7,676.1 L1664.3,677.3 L1665.9,678.6 L1667.4,679.8 L1669.0,681.0 L1670.6,682.2 L1672.2,683.4 L1673.7,684.6 L1675.3,685.7 L1676.9,686.9 L1678.5,688.1 L1680.1,689.2 L1681.8,690.3 L1683.4,691.5 L1685.0,692.6 L1686.6,693.7 L1688.3,694.7 L1689.9,695.8 L1691.6,696.9 L1693.3,697.9 L1694.9,698.9 L1696.6,700.0 L1698.3,701.0 L1700.0,701.9 L1701.7,702.9 L1703.5,703.9 L1705.2,704.8 L1706.9,705.7 L1708.7,706.6 L1710.4,707.5 L1712.2,708.4 L1713.9,709.3 L1715.7,710.2 L1717.5,711.0 L1719.2,711.9 L1721.0,712.7 L1722.8,713.5 L1724.6,714.4 L1726.4,715.2 L1728.2,716.0 L1730.0,716.8 L1731.7,717.6 L1733.5,718.4 L1735.3,719.2 L1737.1,720.0 L1738.9,720.8 L1740.7,721.6 L1742.5,722.4 L1744.3,723.2 L1746.1,724.0 L1747.8,724.9 L1749.6,725.7 L1751.4,726.5 L1753.2,727.4 L1755.0,728.2 L1756.7,729.1 L1758.5,730.0 L1760.3,730.9 L1762.0,731.8 L1763.8,732.7 L1765.5,733.6 L1767.3,734.5 L1769.0,735.5 L1770.8,736.4 L1772.5,737.4 L1774.2,738.4 L1776.0,739.4 L1777.7,740.4 L1779.4,741.4 L1781.1,742.4 L1782.9,743.4 L1784.6,744.5 L1786.3,745.5 L1788.0,746.6 L1789.7,747.6 L1791.3,748.7 L1793.0,749.8 L1794.7,750.9 L1796.4,752.0 L1798.1,753.1 L1799.7,754.2 L1801.4,755.3 L1803.0,756.4 L1804.7,757.6 L1806.3,758.7 L1808.0,759.9 L1809.6,761.0 L1811.3,762.2 L1812.9,763.3 L1814.5,764.5 L1816.1,765.7 L1817.7,766.8 L1819.3,768.0 L1820.9,769.2 L1822.5,770.4 L1824.1,771.6 L1825.7,772.8 L1827.3,774.0 L1828.8,775.2 L1830.4,776.4 L1832.0,777.6 L1833.5,778.8 L1835.1,780.1 L1836.6,781.3 L1838.1,782.5 L1839.7,783.8 L1841.2,785.0 L1842.7,786.3 L1844.2,787.6 L1845.7,788.8 L1847.2,790.1 L1848.6,791.4 L1850.1,792.8 L1851.6,794.1 L1853.0,795.4 L1854.4,796.8 L1855.9,798.2 L1857.3,799.5 L1858.7,800.9 L1860.1,802.3 L1861.5,803.7 L1862.9,805.1 L1864.3,806.5 L1865.7,807.9 L1867.1,809.2 L1868.6,810.6 L1870.0,812.0 L1871.4,813.3 L1872.9,814.7 L1874.3,816.0 L1875.8,817.3 L1877.3,818.5 L1878.8,819.8 L1880.4,821.0 L1881.9,822.2 L1883.5,823.4 L1885.1,824.5 L1886.7,825.6 L1888.3,826.7 L1890.0,827.7 L1891.7,828.7 L1893.4,829.7 L1895.1,830.7 L1896.8,831.7 L1898.5,832.6 L1900.3,833.5 L1902.0,834.4 L1903.8,835.3 L1905.6,836.1 L1907.4,837.0 L1909.2,837.8 L1911.1,838.6 L1912.9,839.4 L1914.7,840.2 L1916.6,841.0 L1918.4,841.8 L1920.3,842.6 L1922.1,843.3 L1924.0,844.1 L1925.8,844.8 L1927.7,845.6 L1929.6,846.3 L1931.4,847.1 L1933.3,847.8 L1935.2,848.6 L1937.0,849.3 L1938.9,850.1 L1940.8,850.8 L1942.6,851.6 L1944.5,852.3 L1946.4,853.1 L1948.2,853.8 L1950.1,854.5 L1952.0,855.3 L1953.9,856.0 L1955.7,856.7 L1957.6,857.5 L1959.5,858.2 L1961.3,858.9 L1963.2,859.6 L1965.1,860.4 L1967.0,861.1 L1968.8,861.8 L1970.7,862.5 L1972.6,863.2 L1974.4,863.9 L1976.3,864.6 L1978.2,865.4 L1980.1,866.1 L1981.9,866.8 L1983.8,867.5 L1985.7,868.2 L1987.6,868.9 L1989.4,869.6 L1991.3,870.2 L1993.2,870.9 L1995.1,871.6 L1996.9,872.3 L1998.8,873.0 L2000.7,873.6 L2002.6,874.3 L2004.5,875.0 L2006.3,875.6 L2008.2,876.3 L2010.1,876.9 L2012.0,877.5 L2013.9,878.2 L2015.8,878.8 L2017.7,879.4 L2019.6,880.0 L2021.5,880.6 L2023.4,881.2 L2025.3,881.7 L2027.2,882.3 L2029.1,882.9 L2031.0,883.4 L2032.9,884.0 L2034.8,884.5 L2036.7,885.0 L2038.7,885.5 L2040.6,886.0 L2042.5,886.5 L2044.4,886.9 L2046.4,887.4 L2048.3,887.8 L2050.3,888.3 L2052.2,888.7 L2054.2,889.1 L2056.1,889.5 L2058.1,889.9 L2060.1,890.2 L2062.0,890.6 L2064.0,890.9 L2066.0,891.2 L2068.0,891.5 L2070.0,891.8 L2071.9,892.0 L2073.9,892.3 L2076.0,892.5 L2078.0,892.7 L2080.0,892.9 L2082.0,893.1 L2084.0,893.3 L2086.1,893.4 L2088.1,893.5 L2090.1,893.6" stroke-dasharray="22.8 9.9" stroke-dashoffset="4.4"/>
<path d="M1325.8,0.4 L1326.1,2.3 L1326.4,4.2 L1326.7,6.2 L1327.0,8.1 L1327.3,10.1 L1327.6,12.0 L1327.9,14.0 L1328.2,15.9 L1328.5,17.9 L1328.8,19.9 L1329.1,21.8 L1329.4,23.8 L1329.7,25.7 L1330.0,27.7 L1330.3,29.6 L1330.6,31.6 L1330.9,33.6 L1331.2,35.5 L1331.5,37.5 L1331.7,39.4 L1332.0,41.4 L1332.3,43.4 L1332.6,45.3 L1332.9,47.3 L1333.2,49.3 L1333.5,51.2 L1333.7,53.2 L1334.0,55.2 L1334.3,57.1 L1334.6,59.1 L1334.9,61.1 L1335.1,63.1 L1335.4,65.0 L1335.7,67.0 L1336.0,69.0 L1336.3,71.0 L1336.5,72.9 L1336.8,74.9 L1337.1,76.9 L1337.4,78.9 L1337.7,80.8 L1337.9,82.8 L1338.2,84.8 L1338.5,86.8 L1338.8,88.8 L1339.0,90.7 L1339.3,92.7 L1339.6,94.7 L1339.9,96.7 L1340.2,98.7 L1340.4,100.6 L1340.7,102.6 L1341.0,104.6 L1341.3,106.6 L1341.5,108.6 L1341.8,110.5 L1342.1,112.5 L1342.4,114.5 L1342.7,116.5 L1343.0,118.5 L1343.2,120.5 L1343.5,122.5 L1343.8,124.4 L1344.1,126.4 L1344.4,128.4 L1344.7,130.4 L1345.0,132.4 L1345.2,134.4 L1345.5,136.3 L1345.8,138.3 L1346.1,140.3 L1346.4,142.3 L1346.7,144.3 L1347.0,146.3 L1347.3,148.3 L1347.6,150.2 L1347.9,152.2 L1348.2,154.2 L1348.5,156.2 L1348.8,158.2 L1349.1,160.2 L1349.4,162.2 L1349.7,164.1 L1350.0,166.1 L1350.3,168.1 L1350.6,170.1 L1350.9,172.1 L1351.2,174.1 L1351.6,176.0 L1351.9,178.0 L1352.2,180.0 L1352.5,182.0 L1352.8,184.0 L1353.1,186.0 L1353.5,187.9 L1353.8,189.9 L1354.1,191.9 L1354.5,193.9 L1354.8,195.9 L1355.1,197.8 L1355.5,199.8 L1355.8,201.8 L1356.1,203.8 L1356.5,205.8 L1356.8,207.7 L1357.2,209.7 L1357.5,211.7 L1357.9,213.7 L1358.2,215.6 L1358.6,217.6 L1358.9,219.6 L1359.3,221.6 L1359.6,223.5 L1360.0,225.5 L1360.4,227.5 L1360.7,229.5 L1361.1,231.4 L1361.5,233.4 L1361.9,235.4 L1362.3,237.3 L1362.6,239.3 L1363.0,241.3 L1363.4,243.2 L1363.8,245.2 L1364.2,247.2 L1364.6,249.1 L1365.0,251.1 L1365.4,253.1 L1365.8,255.0 L1366.2,257.0 L1366.6,259.0 L1367.0,260.9 L1367.4,262.9 L1367.9,264.8 L1368.3,266.8 L1368.7,268.7 L1369.1,270.7 L1369.6,272.6 L1370.0,274.6 L1370.5,276.6 L1370.9,278.5 L1371.3,280.5 L1371.8,282.4 L1372.3,284.3 L1372.7,286.3 L1373.2,288.2 L1373.6,290.2 L1374.1,292.1 L1374.6,294.1 L1375.0,296.0 L1375.5,297.9 L1376.0,299.9 L1376.5,301.8 L1377.0,303.8 L1377.5,305.7 L1378.0,307.6 L1378.5,309.6 L1379.0,311.5 L1379.5,313.4 L1380.0,315.3 L1380.5,317.3 L1381.0,319.2 L1381.6,321.1 L1382.1,323.0 L1382.6,325.0 L1383.2,326.9 L1383.7,328.8 L1384.3,330.7 L1384.8,332.6 L1385.4,334.6 L1385.9,336.5 L1386.5,338.4 L1387.1,340.3 L1387.6,342.2 L1388.2,344.1 L1388.8,346.0 L1389.4,347.9 L1390.0,349.8 L1390.6,351.7 L1391.2,353.6 L1391.8,355.5 L1392.4,357.4 L1393.0,359.3 L1393.6,361.2 L1394.3,363.1 L1394.9,365.0 L1395.5,366.9 L1396.2,368.7 L1396.8,370.6 L1397.5,372.5 L1398.1,374.4 L1398.8,376.3 L1399.5,378.1 L1400.1,380.0 L1400.8,381.9 L1401.5,383.8 L1402.2,385.6 L1402.9,387.5 L1403.6,389.4 L1404.3,391.2 L1405.0,393.1 L1405.7,394.9 L1406.4,396.8 L1407.1,398.6 L1407.9,400.5 L1408.6,402.4 L1409.4,404.2 L1410.1,406.0 L1410.9,407.9 L1411.6,409.7 L1412.4,411.6 L1413.2,413.4 L1413.9,415.2 L1414.7,417.1 L1415.5,418.9 L1416.3,420.7 L1417.1,422.6 L1417.9,424.4 L1418.7,426.2 L1419.5,428.0 L1420.4,429.9 L1421.2,431.7 L1422.0,433.5 L1422.9,435.3 L1423.7,437.1 L1424.6,438.9 L1425.4,440.7 L1426.3,442.5 L1427.2,444.3 L1428.1,446.1 L1429.0,447.9 L1429.9,449.7 L1430.8,451.5 L1431.7,453.2 L1432.6,455.0 L1433.5,456.8 L1434.5,458.6 L1435.4,460.3 L1436.4,462.1 L1437.3,463.8 L1438.3,465.6 L1439.2,467.3 L1440.2,469.1 L1441.2,470.8 L1442.2,472.5 L1443.2,474.3 L1444.2,476.0 L1445.2,477.7 L1446.3,479.4 L1447.3,481.1 L1448.3,482.9 L1449.4,484.6 L1450.4,486.2 L1451.5,487.9 L1452.6,489.6 L1453.7,491.3 L1454.7,493.0 L1455.8,494.6 L1456.9,496.3 L1458.1,498.0 L1459.2,499.6 L1460.3,501.2 L1461.5,502.9 L1462.6,504.5 L1463.8,506.1 L1464.9,507.8 L1466.1,509.4 L1467.3,511.0 L1468.5,512.6 L1469.7,514.2 L1470.9,515.8 L1472.2,517.3 L1473.4,518.9 L1474.6,520.5 L1475.9,522.0 L1477.2,523.6 L1478.4,525.1 L1479.7,526.7 L1481.0,528.2 L1482.3,529.7 L1483.6,531.2 L1484.9,532.7 L1486.3,534.2 L1487.6,535.7 L1489.0,537.2 L1490.3,538.7 L1491.7,540.1 L1493.0,541.6 L1494.4,543.1 L1495.7,544.6 L1497.1,546.0 L1498.4,547.5 L1499.8,549.0 L1501.1,550.5 L1502.5,551.9 L1503.8,553.4 L1505.1,554.9 L1506.4,556.4 L1507.7,557.9 L1509.0,559.4 L1510.3,560.9 L1511.6,562.4 L1512.9,564.0 L1514.2,565.5 L1515.4,567.0 L1516.7,568.5 L1518.0,570.0 L1519.3,571.5 L1520.6,573.0 L1521.9,574.5 L1523.3,576.0 L1524.6,577.4 L1525.9,578.9 L1527.3,580.3 L1528.6,581.8 L1530.0,583.2 L1531.4,584.7 L1532.8,586.1 L1534.2,587.5 L1535.6,588.9 L1537.0,590.3 L1538.4,591.8 L1539.8,593.1 L1541.3,594.5 L1542.7,595.9 L1544.1,597.3 L1545.6,598.7 L1547.0,600.1 L1548.5,601.4 L1550.0,602.8 L1551.4,604.2 L1552.9,605.5 L1554.4,606.9 L1555.8,608.3 L1557.3,609.6 L1558.8,611.0 L1560.2,612.3 L1561.7,613.7 L1563.2,615.0 L1564.7,616.4 L1566.1,617.7 L1567.6,619.1 L1569.1,620.4 L1570.5,621.8 L1572.0,623.1 L1573.5,624.5 L1574.9,625.8 L1576.4,627.2 L1577.8,628.5 L1579.3,629.9 L1580.8,631.2 L1582.3,632.5 L1583.7,633.8 L1585.2,635.1 L1586.7,636.4 L1588.2,637.7 L1589.8,638.9 L1591.3,640.2 L1592.8,641.4 L1594.4,642.5 L1596.0,643.7 L1597.6,644.8 L1599.2,645.9 L1600.9,647.0 L1602.5,648.0 L1604.2,649.1 L1605.9,650.0 L1607.7,651.0 L1609.4,651.9 L1611.2,652.8 L1613.0,653.6 L1614.8,654.5 L1616.7,655.3 L1618.5,656.1 L1620.4,656.9 L1622.2,657.7 L1624.1,658.4 L1626.0,659.2 L1627.9,659.9 L1629.8,660.7 L1631.6,661.4 L1633.5,662.2 L1635.4,662.9 L1637.3,663.7 L1639.2,664.4 L1641.1,665.2 L1643.0,666.0 L1644.8,666.8 L1646.7,667.6 L1648.5,668.4 L1650.4,669.2 L1652.2,670.1 L1654.0,671.0 L1655.8,671.9 L1657.5,672.8 L1659.3,673.8 L1661.0,674.8 L1662.8,675.8 L1664.5,676.8 L1666.2,677.8 L1667.9,678.9 L1669.6,679.9 L1671.3,681.0 L1672.9,682.1 L1674.6,683.2 L1676.2,684.4 L1677.8,685.5 L1679.5,686.6 L1681.1,687.8 L1682.7,689.0 L1684.3,690.2 L1685.9,691.4 L1687.5,692.6 L1689.0,693.8 L1690.6,695.1 L1692.2,696.3 L1693.8,697.5 L1695.3,698.8 L1696.9,700.0 L1698.4,701.3 L1700.0,702.6 L1701.5,703.8 L1703.0,705.1 L1704.6,706.4 L1706.1,707.7 L1707.7,709.0 L1709.2,710.2 L1710.7,711.5 L1712.3,712.8 L1713.8,714.1 L1715.3,715.4 L1716.9,716.6 L1718.4,717.9 L1720.0,719.2 L1721.5,720.4 L1723.1,721.7 L1724.6,723.0 L1726.2,724.2 L1727.7,725.4 L1729.3,726.7 L1730.8,727.9 L1732.4,729.1 L1734.0,730.3 L1735.6,731.5 L1737.2,732.7 L1738.8,733.9 L1740.4,735.0 L1742.0,736.2 L1743.6,737.4 L1745.2,738.5 L1746.8,739.7 L1748.4,740.8 L1750.1,741.9 L1751.7,743.0 L1753.3,744.2 L1755.0,745.3 L1756.6,746.4 L1758.3,747.5 L1759.9,748.6 L1761.6,749.7 L1763.2,750.7 L1764.9,751.8 L1766.5,752.9 L1768.2,754.0 L1769.9,755.1 L1771.5,756.1 L1773.2,757.2 L1774.9,758.3 L1776.6,759.3 L1778.2,760.4 L1779.9,761.5 L1781.6,762.5 L1783.3,763.6 L1785.0,764.6 L1786.6,765.7 L1788.3,766.8 L1790.0,767.8 L1791.7,768.9 L1793.4,769.9 L1795.1,771.0 L1796.7,772.1 L1798.4,773.1 L1800.1,774.2 L1801.8,775.3 L1803.5,776.3 L1805.2,777.4 L1806.9,778.5 L1808.6,779.5 L1810.2,780.6 L1811.9,781.7 L1813.6,782.7 L1815.3,783.8 L1817.0,784.9 L1818.7,785.9 L1820.4,787.0 L1822.1,788.1 L1823.8,789.1 L1825.5,790.2 L1827.2,791.3 L1828.9,792.3 L1830.6,793.4 L1832.3,794.4 L1834.0,795.5 L1835.7,796.6 L1837.4,797.6 L1839.1,798.7 L1840.8,799.7 L1842.5,800.7 L1844.2,801.8 L1845.9,802.8 L1847.6,803.9 L1849.3,804.9 L1851.1,805.9 L1852.8,807.0 L1854.5,808.0 L1856.2,809.0 L1857.9,810.0 L1859.7,811.0 L1861.4,812.0 L1863.1,813.0 L1864.8,814.1 L1866.6,815.1 L1868.3,816.0 L1870.0,817.0 L1871.8,818.0 L1873.5,819.0 L1875.2,820.0 L1877.0,821.0 L1878.7,822.0 L1880.4,823.0 L1882.2,824.0 L1883.9,825.0 L1885.6,826.0 L1887.4,827.0 L1889.1,828.0 L1890.8,829.0 L1892.5,830.0 L1894.3,831.0 L1896.0,832.0 L1897.7,833.0 L1899.4,834.0 L1901.1,835.0 L1902.8,836.0 L1904.6,837.0 L1906.3,838.1 L1908.0,839.1 L1909.7,840.1 L1911.4,841.2 L1913.1,842.2 L1914.8,843.3 L1916.5,844.3 L1918.1,845.4 L1919.8,846.5 L1921.5,847.6 L1923.2,848.6 L1924.8,849.7 L1926.5,850.8 L1928.2,851.9 L1929.8,853.0 L1931.5,854.1 L1933.2,855.2 L1934.8,856.3 L1936.5,857.4 L1938.2,858.4 L1939.9,859.5 L1941.6,860.6 L1943.2,861.6 L1944.9,862.6 L1946.6,863.6 L1948.4,864.6 L1950.1,865.6 L1951.8,866.6 L1953.5,867.5 L1955.3,868.4 L1957.1,869.3 L1958.8,870.2 L1960.6,871.1 L1962.4,871.9 L1964.2,872.7 L1966.0,873.5 L1967.8,874.3 L1969.6,875.1 L1971.4,875.9 L1973.2,876.7 L1975.1,877.5 L1976.9,878.2 L1978.7,879.0 L1980.6,879.8 L1982.4,880.5 L1984.2,881.3 L1986.1,882.0 L1987.9,882.8 L1989.7,883.6 L1991.6,884.3 L1993.4,885.1 L1995.2,885.9 L1997.1,886.7 L1998.9,887.5 L2000.7,888.3 L2002.6,889.1 L2004.4,889.8 L2006.2,890.6 L2008.0,891.4 L2009.9,892.3 L2011.7,893.1 L2013.5,893.9 L2015.3,894.7 L2017.1,895.5 L2018.9,896.3 L2020.8,897.2 L2022.6,898.0 L2024.4,898.8 L2026.2,899.6 L2028.0,900.4 L2029.8,901.2 L2031.6,902.0 L2033.5,902.8 L2035.3,903.6 L2037.1,904.3 L2039.0,905.0 L2040.8,905.7 L2042.7,906.4 L2044.6,907.0 L2046.4,907.6 L2048.3,908.2 L2050.2,908.7 L2052.1,909.2 L2054.0,909.7 L2056.0,910.1 L2057.9,910.5 L2059.9,910.8 L2061.8,911.2 L2063.8,911.4 L2065.8,911.7 L2067.7,911.9 L2069.7,912.1 L2071.7,912.2 L2073.8,912.3 L2075.8,912.3 L2077.8,912.4 L2079.8,912.3 L2081.9,912.3 L2083.9,912.2 L2086.0,912.0 L2088.1,911.8 L2090.1,911.6"/>
</g>
<rect x="1186.5" y="10.5" width="893.4" height="934.4" fill="none" stroke="#000" stroke-width="2.8"/>
<line x1="1172.0" y1="914.8" x2="1186.5" y2="914.8" stroke="#000" stroke-width="3"/>
<text x="1157.2" y="925.7" font-size="29.5" text-anchor="end">0.0</text>
<line x1="1172.0" y1="764.1" x2="1186.5" y2="764.1" stroke="#000" stroke-width="3"/>
<text x="1157.2" y="775.0" font-size="29.5" text-anchor="end">0.5</text>
<line x1="1172.0" y1="613.4" x2="1186.5" y2="613.4" stroke="#000" stroke-width="3"/>
<text x="1157.2" y="624.3" font-size="29.5" text-anchor="end">1.0</text>
<line x1="1172.0" y1="462.7" x2="1186.5" y2="462.7" stroke="#000" stroke-width="3"/>
<text x="1157.2" y="473.6" font-size="29.5" text-anchor="end">1.5</text>
<line x1="1172.0" y1="311.9" x2="1186.5" y2="311.9" stroke="#000" stroke-width="3"/>
<text x="1157.2" y="322.8" font-size="29.5" text-anchor="end">2.0</text>
<line x1="1172.0" y1="161.2" x2="1186.5" y2="161.2" stroke="#000" stroke-width="3"/>
<text x="1157.2" y="172.1" font-size="29.5" text-anchor="end">2.5</text>
<line x1="1172.0" y1="10.5" x2="1186.5" y2="10.5" stroke="#000" stroke-width="3"/>
<text x="1157.2" y="21.4" font-size="29.5" text-anchor="end">3.0</text>
<line x1="1186.5" y1="944.9" x2="1186.5" y2="959.4" stroke="#000" stroke-width="3"/>
<text x="1186.5" y="995.2" font-size="29.5" text-anchor="middle">0</text>
<line x1="1385.0" y1="944.9" x2="1385.0" y2="959.4" stroke="#000" stroke-width="3"/>
<text x="1385.0" y="995.2" font-size="29.5" text-anchor="middle">20</text>
<line x1="1583.5" y1="944.9" x2="1583.5" y2="959.4" stroke="#000" stroke-width="3"/>
<text x="1583.5" y="995.2" font-size="29.5" text-anchor="middle">40</text>
<line x1="1782.1" y1="944.9" x2="1782.1" y2="959.4" stroke="#000" stroke-width="3"/>
<text x="1782.1" y="995.2" font-size="29.5" text-anchor="middle">60</text>
<line x1="1980.6" y1="944.9" x2="1980.6" y2="959.4" stroke="#000" stroke-width="3"/>
<text x="1980.6" y="995.2" font-size="29.5" text-anchor="middle">80</text>
<text x="1633.2" y="1039.1" font-size="29.5" text-anchor="middle">Radius (au)</text>
<text transform="translate(1094.4,475.0) rotate(-90)" x="0" y="0" font-size="29" text-anchor="middle">Intensity (mJy/beam)</text>
<rect x="1831.2" y="24.7" width="233.6" height="52.9" rx="6" ry="6" fill="#fff" fill-opacity="0.8" stroke="#cccccc" stroke-width="2.6"/>
<line x1="1840.0" y1="50.0" x2="1904.3" y2="50.0" stroke="#ff8c00" stroke-width="6"/>
<text x="1926.1" y="55.9" font-size="29.6">PA=60.0<tspan font-size="19" dx="1.2" dy="-6.8">°</tspan></text>
<text x="1247.0" y="70.5" font-size="33.5" font-weight="bold">b</text>
<defs><clipPath id="cc"><rect x="114.5" y="1085.1" width="893.4" height="934.4000000000001"/></clipPath></defs>
<rect x="114.5" y="1085.1" width="51.2" height="934.4000000000001" fill="#d3d3d3"/>
<line x1="114.5" y1="1983.7" x2="1007.9" y2="1983.7" stroke="#000" stroke-width="4.1"/>
<g clip-path="url(#cc)" fill="none" stroke="#006400" stroke-width="5.8" stroke-linejoin="round">
<path d="M233.2,1074.9 L233.4,1076.9 L233.7,1078.9 L233.9,1080.9 L234.2,1082.9 L234.5,1084.9 L234.7,1086.9 L235.0,1088.9 L235.2,1090.9 L235.5,1092.9 L235.7,1094.9 L236.0,1096.9 L236.3,1098.9 L236.5,1100.9 L236.8,1102.9 L237.1,1104.8 L237.3,1106.8 L237.6,1108.8 L237.9,1110.8 L238.2,1112.8 L238.4,1114.8 L238.7,1116.8 L239.0,1118.7 L239.3,1120.7 L239.5,1122.7 L239.8,1124.7 L240.1,1126.7 L240.4,1128.6 L240.7,1130.6 L241.0,1132.6 L241.3,1134.6 L241.6,1136.5 L241.8,1138.5 L242.1,1140.5 L242.4,1142.5 L242.7,1144.4 L243.0,1146.4 L243.3,1148.4 L243.6,1150.3 L243.9,1152.3 L244.3,1154.3 L244.6,1156.3 L244.9,1158.2 L245.2,1160.2 L245.5,1162.2 L245.8,1164.1 L246.1,1166.1 L246.5,1168.1 L246.8,1170.0 L247.1,1172.0 L247.4,1174.0 L247.8,1175.9 L248.1,1177.9 L248.4,1179.8 L248.8,1181.8 L249.1,1183.8 L249.5,1185.7 L249.8,1187.7 L250.1,1189.7 L250.5,1191.6 L250.8,1193.6 L251.2,1195.5 L251.5,1197.5 L251.9,1199.5 L252.3,1201.4 L252.6,1203.4 L253.0,1205.3 L253.4,1207.3 L253.7,1209.2 L254.1,1211.2 L254.5,1213.2 L254.9,1215.1 L255.2,1217.1 L255.6,1219.0 L256.0,1221.0 L256.4,1222.9 L256.8,1224.9 L257.2,1226.8 L257.6,1228.8 L258.0,1230.8 L258.4,1232.7 L258.8,1234.7 L259.2,1236.6 L259.6,1238.6 L260.0,1240.5 L260.5,1242.5 L260.9,1244.4 L261.3,1246.4 L261.7,1248.4 L262.2,1250.3 L262.6,1252.3 L263.0,1254.2 L263.5,1256.2 L263.9,1258.1 L264.4,1260.1 L264.8,1262.0 L265.3,1264.0 L265.7,1265.9 L266.2,1267.9 L266.6,1269.9 L267.1,1271.8 L267.6,1273.8 L268.1,1275.7 L268.5,1277.7 L269.0,1279.6 L269.5,1281.6 L270.0,1283.5 L270.5,1285.5 L271.0,1287.4 L271.5,1289.4 L272.0,1291.3 L272.5,1293.3 L273.1,1295.2 L273.6,1297.1 L274.2,1299.1 L274.7,1301.0 L275.3,1302.9 L275.8,1304.9 L276.4,1306.8 L277.0,1308.7 L277.6,1310.6 L278.2,1312.5 L278.8,1314.4 L279.4,1316.3 L280.1,1318.2 L280.7,1320.1 L281.4,1322.0 L282.1,1323.9 L282.7,1325.7 L283.4,1327.6 L284.1,1329.5 L284.8,1331.3 L285.6,1333.2 L286.3,1335.0 L287.1,1336.8 L287.8,1338.7 L288.6,1340.5 L289.4,1342.3 L290.2,1344.1 L291.0,1345.9 L291.9,1347.7 L292.7,1349.5 L293.5,1351.3 L294.4,1353.1 L295.3,1354.8 L296.2,1356.6 L297.0,1358.4 L297.9,1360.1 L298.8,1361.9 L299.8,1363.6 L300.7,1365.4 L301.6,1367.1 L302.5,1368.9 L303.5,1370.6 L304.4,1372.4 L305.4,1374.1 L306.4,1375.8 L307.3,1377.5 L308.3,1379.3 L309.3,1381.0 L310.3,1382.7 L311.3,1384.4 L312.3,1386.2 L313.3,1387.9 L314.3,1389.6 L315.3,1391.3 L316.3,1393.0 L317.3,1394.7 L318.3,1396.4 L319.3,1398.1 L320.4,1399.8 L321.4,1401.5 L322.4,1403.3 L323.5,1405.0 L324.5,1406.7 L325.5,1408.4 L326.6,1410.1 L327.6,1411.8 L328.6,1413.5 L329.7,1415.2 L330.7,1416.9 L331.8,1418.6 L332.8,1420.3 L333.8,1422.0 L334.9,1423.7 L335.9,1425.4 L337.0,1427.1 L338.0,1428.8 L339.1,1430.5 L340.1,1432.2 L341.1,1433.9 L342.2,1435.6 L343.2,1437.3 L344.2,1439.1 L345.3,1440.8 L346.3,1442.5 L347.3,1444.2 L348.4,1445.9 L349.4,1447.6 L350.4,1449.3 L351.4,1451.0 L352.5,1452.8 L353.5,1454.5 L354.5,1456.2 L355.5,1457.9 L356.5,1459.6 L357.5,1461.4 L358.5,1463.1 L359.5,1464.8 L360.5,1466.5 L361.5,1468.3 L362.5,1470.0 L363.4,1471.7 L364.4,1473.5 L365.4,1475.2 L366.3,1476.9 L367.3,1478.7 L368.3,1480.4 L369.2,1482.2 L370.2,1483.9 L371.1,1485.7 L372.1,1487.4 L373.0,1489.1 L373.9,1490.9 L374.9,1492.6 L375.8,1494.4 L376.7,1496.2 L377.7,1497.9 L378.6,1499.7 L379.5,1501.4 L380.4,1503.2 L381.4,1504.9 L382.3,1506.7 L383.2,1508.5 L384.1,1510.2 L385.0,1512.0 L386.0,1513.7 L386.9,1515.5 L387.8,1517.3 L388.7,1519.0 L389.6,1520.8 L390.5,1522.6 L391.4,1524.3 L392.3,1526.1 L393.3,1527.9 L394.2,1529.6 L395.1,1531.4 L396.0,1533.2 L396.9,1534.9 L397.8,1536.7 L398.7,1538.5 L399.7,1540.3 L400.6,1542.0 L401.5,1543.8 L402.4,1545.6 L403.3,1547.3 L404.3,1549.1 L405.2,1550.9 L406.1,1552.6 L407.0,1554.4 L408.0,1556.2 L408.9,1558.0 L409.8,1559.7 L410.8,1561.5 L411.7,1563.3 L412.7,1565.0 L413.6,1566.8 L414.6,1568.6 L415.5,1570.3 L416.5,1572.1 L417.4,1573.9 L418.4,1575.6 L419.4,1577.4 L420.4,1579.2 L421.3,1580.9 L422.3,1582.7 L423.3,1584.4 L424.3,1586.2 L425.3,1588.0 L426.3,1589.7 L427.3,1591.5 L428.3,1593.2 L429.3,1595.0 L430.3,1596.7 L431.3,1598.5 L432.4,1600.2 L433.4,1601.9 L434.4,1603.7 L435.5,1605.4 L436.5,1607.1 L437.6,1608.9 L438.6,1610.6 L439.7,1612.3 L440.8,1614.0 L441.8,1615.7 L442.9,1617.4 L444.0,1619.1 L445.1,1620.8 L446.2,1622.5 L447.3,1624.2 L448.4,1625.9 L449.5,1627.6 L450.7,1629.3 L451.8,1630.9 L452.9,1632.6 L454.1,1634.2 L455.2,1635.9 L456.4,1637.5 L457.5,1639.2 L458.7,1640.8 L459.9,1642.4 L461.1,1644.1 L462.2,1645.7 L463.4,1647.3 L464.6,1648.9 L465.9,1650.5 L467.1,1652.0 L468.3,1653.6 L469.5,1655.2 L470.8,1656.8 L472.0,1658.3 L473.3,1659.9 L474.5,1661.4 L475.8,1662.9 L477.1,1664.4 L478.4,1665.9 L479.7,1667.4 L481.0,1668.9 L482.3,1670.4 L483.6,1671.9 L484.9,1673.4 L486.3,1674.8 L487.6,1676.2 L489.0,1677.7 L490.3,1679.1 L491.7,1680.5 L493.1,1681.9 L494.5,1683.3 L495.9,1684.7 L497.3,1686.1 L498.7,1687.4 L500.1,1688.8 L501.6,1690.1 L503.0,1691.4 L504.5,1692.7 L505.9,1694.0 L507.4,1695.3 L508.9,1696.6 L510.4,1697.9 L511.9,1699.1 L513.4,1700.4 L514.9,1701.6 L516.5,1702.8 L518.0,1704.0 L519.6,1705.2 L521.1,1706.4 L522.7,1707.5 L524.3,1708.7 L525.9,1709.8 L527.5,1710.9 L529.1,1712.0 L530.7,1713.1 L532.4,1714.2 L534.0,1715.2 L535.7,1716.3 L537.4,1717.3 L539.1,1718.3 L540.8,1719.3 L542.5,1720.3 L544.2,1721.3 L545.9,1722.2 L547.6,1723.1 L549.4,1724.1 L551.2,1725.0 L552.9,1725.9 L554.7,1726.7 L556.5,1727.6 L558.3,1728.4 L560.2,1729.2 L562.0,1730.0 L563.9,1730.8 L565.7,1731.6 L567.6,1732.3 L569.5,1733.1 L571.4,1733.8 L573.3,1734.5 L575.2,1735.2 L577.1,1735.8 L579.1,1736.5 L581.0,1737.1 L583.0,1737.8 L584.9,1738.4 L586.9,1739.1 L588.8,1739.7 L590.8,1740.4 L592.7,1741.1 L594.6,1741.8 L596.5,1742.5 L598.4,1743.2 L600.3,1743.9 L602.2,1744.7 L604.0,1745.5 L605.8,1746.3 L607.6,1747.2 L609.4,1748.1 L611.1,1749.0 L612.9,1750.0 L614.6,1751.1 L616.2,1752.1 L617.9,1753.2 L619.5,1754.4 L621.1,1755.6 L622.6,1756.8 L624.2,1758.0 L625.8,1759.2 L627.3,1760.5 L628.8,1761.7 L630.4,1763.0 L631.9,1764.3 L633.4,1765.5 L635.0,1766.8 L636.5,1768.1 L638.1,1769.3 L639.6,1770.6 L641.2,1771.8 L642.8,1773.0 L644.4,1774.1 L646.1,1775.3 L647.7,1776.4 L649.3,1777.6 L651.0,1778.7 L652.7,1779.8 L654.4,1780.9 L656.0,1781.9 L657.7,1783.0 L659.4,1784.1 L661.1,1785.1 L662.8,1786.2 L664.5,1787.2 L666.2,1788.3 L668.0,1789.3 L669.7,1790.4 L671.4,1791.4 L673.1,1792.5 L674.8,1793.5 L676.5,1794.6 L678.2,1795.6 L679.9,1796.7 L681.6,1797.7 L683.3,1798.8 L685.0,1799.9 L686.6,1801.0 L688.3,1802.1 L689.9,1803.2 L691.6,1804.3 L693.2,1805.5 L694.8,1806.7 L696.4,1807.8 L698.0,1809.0 L699.6,1810.2 L701.2,1811.4 L702.7,1812.7 L704.3,1813.9 L705.8,1815.2 L707.4,1816.4 L708.9,1817.7 L710.4,1819.0 L711.9,1820.3 L713.4,1821.6 L714.9,1822.9 L716.4,1824.3 L717.8,1825.6 L719.3,1826.9 L720.8,1828.3 L722.2,1829.6 L723.7,1831.0 L725.2,1832.3 L726.6,1833.7 L728.0,1835.1 L729.5,1836.5 L730.9,1837.8 L732.4,1839.2 L733.8,1840.6 L735.2,1842.0 L736.7,1843.4 L738.1,1844.8 L739.5,1846.2 L741.0,1847.5 L742.4,1848.9 L743.8,1850.3 L745.2,1851.7 L746.7,1853.1 L748.1,1854.5 L749.6,1855.8 L751.0,1857.2 L752.4,1858.6 L753.9,1859.9 L755.3,1861.3 L756.8,1862.6 L758.3,1864.0 L759.7,1865.3 L761.2,1866.6 L762.7,1867.9 L764.2,1869.3 L765.6,1870.6 L767.1,1871.8 L768.7,1873.1 L770.2,1874.4 L771.7,1875.7 L773.2,1876.9 L774.8,1878.1 L776.3,1879.4 L777.9,1880.6 L779.4,1881.8 L781.0,1883.0 L782.6,1884.1 L784.2,1885.3 L785.8,1886.4 L787.5,1887.5 L789.1,1888.6 L790.8,1889.7 L792.4,1890.8 L794.1,1891.8 L795.8,1892.9 L797.5,1893.9 L799.2,1894.9 L800.9,1895.9 L802.7,1896.8 L804.4,1897.8 L806.2,1898.7 L808.0,1899.7 L809.7,1900.6 L811.5,1901.5 L813.3,1902.4 L815.1,1903.3 L816.9,1904.1 L818.7,1905.0 L820.5,1905.9 L822.4,1906.7 L824.2,1907.5 L826.0,1908.4 L827.9,1909.2 L829.7,1910.0 L831.6,1910.8 L833.4,1911.6 L835.3,1912.4 L837.1,1913.2 L839.0,1913.9 L840.8,1914.7 L842.7,1915.5 L844.6,1916.3 L846.4,1917.0 L848.3,1917.8 L850.1,1918.6 L852.0,1919.3 L853.8,1920.1 L855.7,1920.9 L857.5,1921.6 L859.4,1922.4 L861.2,1923.1 L863.0,1923.9 L864.9,1924.6 L866.7,1925.4 L868.6,1926.1 L870.4,1926.9 L872.2,1927.6 L874.1,1928.3 L875.9,1929.0 L877.8,1929.7 L879.6,1930.4 L881.5,1931.1 L883.3,1931.8 L885.2,1932.4 L887.1,1933.1 L888.9,1933.7 L890.8,1934.4 L892.6,1935.0 L894.5,1935.6 L896.4,1936.2 L898.3,1936.7 L900.2,1937.3 L902.1,1937.8 L904.0,1938.4 L905.9,1938.9 L907.8,1939.4 L909.7,1939.8 L911.6,1940.3 L913.6,1940.7 L915.5,1941.1 L917.4,1941.5 L919.4,1941.9 L921.3,1942.3 L923.3,1942.7 L925.3,1943.0 L927.2,1943.3 L929.2,1943.7 L931.2,1944.0 L933.2,1944.4 L935.1,1944.7 L937.1,1945.1 L939.1,1945.4 L941.0,1945.8 L943.0,1946.2 L945.0,1946.6 L946.9,1947.0 L948.9,1947.4 L950.8,1947.9 L952.7,1948.4 L954.7,1948.8 L956.6,1949.3 L958.5,1949.8 L960.5,1950.4 L962.4,1950.9 L964.3,1951.4 L966.2,1952.0 L968.1,1952.5 L970.1,1953.0 L972.0,1953.6 L973.9,1954.1 L975.8,1954.6 L977.7,1955.2 L979.6,1955.7 L981.6,1956.2 L983.5,1956.7 L985.4,1957.2 L987.3,1957.6 L989.3,1958.1 L991.2,1958.5 L993.1,1958.9 L995.1,1959.3 L997.0,1959.6 L999.0,1959.9 L1001.0,1960.2 L1002.9,1960.4 L1004.9,1960.6 L1006.9,1960.8 L1008.9,1960.9 L1010.9,1961.0 L1013.0,1961.0 L1015.0,1961.0" stroke-dasharray="22.8 9.9" stroke-dashoffset="22.5"/>
<path d="M258.8,1075.5 L259.2,1077.4 L259.5,1079.3 L259.9,1081.2 L260.3,1083.2 L260.7,1085.1 L261.0,1087.0 L261.4,1088.9 L261.7,1090.8 L262.1,1092.8 L262.5,1094.7 L262.8,1096.6 L263.2,1098.6 L263.5,1100.5 L263.9,1102.4 L264.2,1104.4 L264.5,1106.3 L264.9,1108.2 L265.2,1110.2 L265.6,1112.1 L265.9,1114.1 L266.2,1116.0 L266.6,1118.0 L266.9,1119.9 L267.2,1121.9 L267.5,1123.8 L267.9,1125.8 L268.2,1127.7 L268.5,1129.7 L268.8,1131.6 L269.1,1133.6 L269.5,1135.5 L269.8,1137.5 L270.1,1139.5 L270.4,1141.4 L270.7,1143.4 L271.0,1145.4 L271.3,1147.3 L271.6,1149.3 L272.0,1151.3 L272.3,1153.2 L272.6,1155.2 L272.9,1157.2 L273.2,1159.1 L273.5,1161.1 L273.8,1163.1 L274.1,1165.1 L274.4,1167.0 L274.7,1169.0 L275.0,1171.0 L275.3,1173.0 L275.6,1174.9 L275.9,1176.9 L276.2,1178.9 L276.5,1180.9 L276.8,1182.9 L277.0,1184.8 L277.3,1186.8 L277.6,1188.8 L277.9,1190.8 L278.2,1192.8 L278.5,1194.8 L278.8,1196.8 L279.1,1198.7 L279.4,1200.7 L279.7,1202.7 L280.0,1204.7 L280.3,1206.7 L280.6,1208.7 L280.9,1210.7 L281.2,1212.7 L281.5,1214.6 L281.8,1216.6 L282.1,1218.6 L282.4,1220.6 L282.7,1222.6 L283.0,1224.6 L283.3,1226.6 L283.6,1228.6 L283.9,1230.6 L284.2,1232.6 L284.5,1234.6 L284.8,1236.5 L285.1,1238.5 L285.4,1240.5 L285.7,1242.5 L286.0,1244.5 L286.3,1246.5 L286.6,1248.5 L286.9,1250.5 L287.2,1252.5 L287.6,1254.5 L287.9,1256.5 L288.2,1258.5 L288.5,1260.5 L288.8,1262.4 L289.1,1264.4 L289.5,1266.4 L289.8,1268.4 L290.1,1270.4 L290.4,1272.4 L290.8,1274.4 L291.1,1276.4 L291.4,1278.4 L291.8,1280.3 L292.1,1282.3 L292.4,1284.3 L292.8,1286.3 L293.1,1288.3 L293.5,1290.3 L293.8,1292.3 L294.2,1294.3 L294.5,1296.2 L294.9,1298.2 L295.2,1300.2 L295.6,1302.2 L295.9,1304.2 L296.3,1306.1 L296.7,1308.1 L297.0,1310.1 L297.4,1312.1 L297.8,1314.1 L298.1,1316.0 L298.5,1318.0 L298.9,1320.0 L299.3,1322.0 L299.7,1323.9 L300.1,1325.9 L300.4,1327.9 L300.8,1329.8 L301.2,1331.8 L301.6,1333.8 L302.0,1335.8 L302.5,1337.7 L302.9,1339.7 L303.3,1341.6 L303.7,1343.6 L304.1,1345.6 L304.5,1347.5 L305.0,1349.5 L305.4,1351.5 L305.8,1353.4 L306.3,1355.4 L306.7,1357.3 L307.1,1359.3 L307.6,1361.2 L308.0,1363.2 L308.5,1365.1 L309.0,1367.1 L309.4,1369.0 L309.9,1371.0 L310.4,1372.9 L310.8,1374.8 L311.3,1376.8 L311.8,1378.7 L312.3,1380.7 L312.8,1382.6 L313.3,1384.5 L313.8,1386.5 L314.3,1388.4 L314.8,1390.3 L315.3,1392.2 L315.8,1394.2 L316.3,1396.1 L316.9,1398.0 L317.4,1399.9 L317.9,1401.8 L318.5,1403.8 L319.0,1405.7 L319.6,1407.6 L320.1,1409.5 L320.7,1411.4 L321.3,1413.3 L321.8,1415.2 L322.4,1417.1 L323.0,1419.0 L323.6,1420.9 L324.1,1422.8 L324.7,1424.7 L325.3,1426.6 L325.9,1428.5 L326.6,1430.4 L327.2,1432.3 L327.8,1434.1 L328.4,1436.0 L329.1,1437.9 L329.7,1439.8 L330.3,1441.7 L331.0,1443.5 L331.6,1445.4 L332.3,1447.3 L333.0,1449.1 L333.6,1451.0 L334.3,1452.8 L335.0,1454.7 L335.7,1456.6 L336.4,1458.4 L337.1,1460.3 L337.8,1462.1 L338.5,1464.0 L339.2,1465.8 L339.9,1467.6 L340.7,1469.5 L341.4,1471.3 L342.2,1473.1 L342.9,1475.0 L343.7,1476.8 L344.4,1478.6 L345.2,1480.4 L346.0,1482.2 L346.8,1484.1 L347.6,1485.9 L348.4,1487.7 L349.2,1489.5 L350.0,1491.3 L350.8,1493.1 L351.6,1494.9 L352.4,1496.7 L353.3,1498.5 L354.1,1500.3 L355.0,1502.0 L355.8,1503.8 L356.7,1505.6 L357.6,1507.4 L358.5,1509.2 L359.3,1510.9 L360.2,1512.7 L361.1,1514.5 L362.0,1516.2 L363.0,1518.0 L363.9,1519.7 L364.8,1521.5 L365.8,1523.2 L366.7,1525.0 L367.7,1526.7 L368.6,1528.4 L369.6,1530.2 L370.6,1531.9 L371.6,1533.6 L372.6,1535.3 L373.6,1537.1 L374.6,1538.8 L375.6,1540.5 L376.6,1542.2 L377.6,1543.9 L378.7,1545.6 L379.7,1547.3 L380.8,1549.0 L381.9,1550.7 L382.9,1552.4 L384.0,1554.1 L385.1,1555.8 L386.2,1557.4 L387.3,1559.1 L388.4,1560.8 L389.5,1562.5 L390.6,1564.1 L391.7,1565.8 L392.8,1567.5 L393.9,1569.1 L395.1,1570.8 L396.2,1572.4 L397.4,1574.1 L398.5,1575.8 L399.6,1577.4 L400.8,1579.1 L402.0,1580.7 L403.1,1582.4 L404.3,1584.0 L405.5,1585.7 L406.6,1587.3 L407.8,1588.9 L409.0,1590.6 L410.1,1592.2 L411.3,1593.9 L412.5,1595.5 L413.7,1597.1 L414.9,1598.8 L416.1,1600.4 L417.3,1602.1 L418.4,1603.7 L419.6,1605.3 L420.8,1607.0 L422.0,1608.6 L423.2,1610.2 L424.4,1611.9 L425.6,1613.5 L426.8,1615.1 L428.0,1616.8 L429.2,1618.4 L430.4,1620.0 L431.6,1621.7 L432.8,1623.3 L434.0,1625.0 L435.1,1626.6 L436.3,1628.2 L437.5,1629.9 L438.7,1631.5 L439.9,1633.1 L441.1,1634.8 L442.2,1636.4 L443.4,1638.1 L444.6,1639.7 L445.8,1641.4 L446.9,1643.0 L448.1,1644.6 L449.3,1646.3 L450.4,1647.9 L451.6,1649.6 L452.8,1651.2 L454.0,1652.8 L455.1,1654.5 L456.3,1656.1 L457.5,1657.7 L458.7,1659.4 L459.9,1661.0 L461.1,1662.6 L462.2,1664.2 L463.4,1665.8 L464.6,1667.4 L465.8,1669.0 L467.0,1670.6 L468.2,1672.2 L469.5,1673.8 L470.7,1675.4 L471.9,1677.0 L473.1,1678.5 L474.4,1680.1 L475.6,1681.6 L476.9,1683.2 L478.1,1684.7 L479.4,1686.3 L480.7,1687.8 L481.9,1689.3 L483.2,1690.8 L484.5,1692.3 L485.8,1693.8 L487.1,1695.3 L488.5,1696.7 L489.8,1698.2 L491.1,1699.6 L492.5,1701.1 L493.8,1702.5 L495.2,1703.9 L496.6,1705.3 L498.0,1706.7 L499.4,1708.1 L500.8,1709.5 L502.2,1710.8 L503.7,1712.2 L505.1,1713.5 L506.6,1714.9 L508.1,1716.2 L509.5,1717.5 L511.0,1718.8 L512.6,1720.0 L514.1,1721.3 L515.6,1722.5 L517.1,1723.8 L518.7,1725.0 L520.3,1726.3 L521.8,1727.5 L523.4,1728.7 L525.0,1729.9 L526.6,1731.0 L528.2,1732.2 L529.8,1733.4 L531.4,1734.5 L533.0,1735.7 L534.7,1736.8 L536.3,1738.0 L538.0,1739.1 L539.6,1740.2 L541.3,1741.3 L543.0,1742.4 L544.6,1743.5 L546.3,1744.6 L548.0,1745.7 L549.7,1746.7 L551.4,1747.8 L553.1,1748.9 L554.8,1749.9 L556.5,1751.0 L558.2,1752.0 L559.9,1753.1 L561.7,1754.1 L563.4,1755.1 L565.1,1756.1 L566.8,1757.2 L568.6,1758.2 L570.3,1759.2 L572.0,1760.2 L573.8,1761.2 L575.5,1762.2 L577.3,1763.2 L579.0,1764.2 L580.8,1765.1 L582.5,1766.1 L584.3,1767.1 L586.0,1768.1 L587.8,1769.1 L589.5,1770.0 L591.3,1771.0 L593.0,1772.0 L594.8,1773.0 L596.5,1773.9 L598.2,1774.9 L600.0,1775.9 L601.7,1776.8 L603.5,1777.8 L605.2,1778.8 L606.9,1779.7 L608.7,1780.7 L610.4,1781.6 L612.1,1782.6 L613.8,1783.6 L615.6,1784.5 L617.3,1785.5 L619.0,1786.5 L620.7,1787.5 L622.4,1788.4 L624.1,1789.4 L625.8,1790.4 L627.5,1791.3 L629.2,1792.3 L630.9,1793.3 L632.6,1794.2 L634.3,1795.2 L636.0,1796.2 L637.7,1797.2 L639.4,1798.1 L641.1,1799.1 L642.8,1800.1 L644.5,1801.1 L646.2,1802.1 L647.9,1803.0 L649.6,1804.0 L651.3,1805.0 L653.0,1806.0 L654.7,1807.0 L656.4,1807.9 L658.1,1808.9 L659.8,1809.9 L661.5,1810.9 L663.3,1811.9 L665.0,1812.9 L666.7,1813.8 L668.4,1814.8 L670.1,1815.8 L671.9,1816.8 L673.6,1817.8 L675.3,1818.8 L677.1,1819.8 L678.8,1820.7 L680.6,1821.7 L682.4,1822.6 L684.1,1823.5 L685.9,1824.4 L687.7,1825.3 L689.5,1826.1 L691.4,1826.9 L693.2,1827.6 L695.1,1828.3 L696.9,1829.0 L698.8,1829.6 L700.7,1830.1 L702.7,1830.7 L704.6,1831.1 L706.5,1831.6 L708.5,1832.1 L710.4,1832.5 L712.3,1833.0 L714.2,1833.4 L716.1,1833.9 L718.0,1834.5 L719.8,1835.1 L721.6,1835.7 L723.4,1836.4 L725.1,1837.2 L726.8,1838.1 L728.5,1839.0 L730.1,1840.0 L731.7,1841.1 L733.3,1842.2 L734.9,1843.3 L736.4,1844.5 L737.9,1845.8 L739.4,1847.1 L740.8,1848.4 L742.3,1849.8 L743.7,1851.2 L745.1,1852.6 L746.5,1854.1 L747.9,1855.6 L749.3,1857.0 L750.7,1858.5 L752.0,1860.1 L753.4,1861.6 L754.8,1863.1 L756.2,1864.6 L757.6,1866.1 L759.0,1867.6 L760.4,1869.0 L761.8,1870.5 L763.2,1871.9 L764.7,1873.3 L766.1,1874.7 L767.6,1876.0 L769.1,1877.4 L770.6,1878.6 L772.1,1879.9 L773.7,1881.1 L775.2,1882.4 L776.8,1883.6 L778.4,1884.8 L779.9,1885.9 L781.5,1887.1 L783.1,1888.3 L784.7,1889.4 L786.3,1890.6 L787.9,1891.8 L789.4,1893.0 L791.0,1894.2 L792.6,1895.4 L794.1,1896.6 L795.7,1897.9 L797.2,1899.2 L798.7,1900.5 L800.2,1901.8 L801.7,1903.2 L803.2,1904.6 L804.7,1905.9 L806.2,1907.4 L807.6,1908.8 L809.1,1910.2 L810.5,1911.7 L812.0,1913.1 L813.4,1914.6 L814.9,1916.0 L816.3,1917.5 L817.8,1918.9 L819.2,1920.3 L820.7,1921.8 L822.1,1923.2 L823.6,1924.6 L825.1,1926.0 L826.6,1927.3 L828.1,1928.7 L829.6,1930.0 L831.1,1931.3 L832.7,1932.5 L834.2,1933.7 L835.8,1934.9 L837.4,1936.1 L839.0,1937.2 L840.6,1938.2 L842.3,1939.2 L844.0,1940.2 L845.7,1941.1 L847.4,1942.0 L849.1,1942.8 L850.9,1943.6 L852.7,1944.4 L854.5,1945.1 L856.3,1945.8 L858.1,1946.5 L860.0,1947.1 L861.8,1947.7 L863.7,1948.3 L865.6,1948.8 L867.5,1949.3 L869.4,1949.8 L871.3,1950.3 L873.3,1950.8 L875.2,1951.2 L877.1,1951.7 L879.1,1952.1 L881.1,1952.5 L883.0,1952.9 L885.0,1953.3 L887.0,1953.6 L889.0,1954.0 L890.9,1954.4 L892.9,1954.8 L894.9,1955.1 L896.9,1955.5 L898.9,1955.9 L900.8,1956.3 L902.8,1956.7 L904.8,1957.1 L906.8,1957.5 L908.7,1957.9 L910.7,1958.3 L912.7,1958.7 L914.6,1959.2 L916.6,1959.6 L918.5,1960.1 L920.5,1960.5 L922.4,1961.0 L924.4,1961.4 L926.3,1961.8 L928.3,1962.3 L930.2,1962.7 L932.2,1963.2 L934.1,1963.6 L936.0,1964.0 L938.0,1964.4 L939.9,1964.8 L941.9,1965.2 L943.8,1965.6 L945.7,1966.0 L947.7,1966.4 L949.6,1966.7 L951.6,1967.1 L953.5,1967.4 L955.4,1967.7 L957.4,1968.0 L959.3,1968.3 L961.3,1968.5 L963.2,1968.8 L965.2,1969.0 L967.1,1969.2 L969.1,1969.3 L971.1,1969.5 L973.0,1969.6 L975.0,1969.7 L977.0,1969.7 L978.9,1969.7 L980.9,1969.7 L982.9,1969.7 L984.9,1969.6 L986.9,1969.6 L988.8,1969.4 L990.8,1969.3 L992.8,1969.1 L994.8,1968.8 L996.9,1968.5 L998.9,1968.2 L1000.9,1967.9 L1002.9,1967.5 L1005.0,1967.0 L1007.0,1966.6 L1009.0,1966.0 L1011.1,1965.5 L1013.1,1964.9 L1015.2,1964.2"/>
</g>
<rect x="114.5" y="1085.1" width="893.4" height="934.4" fill="none" stroke="#000" stroke-width="2.8"/>
<line x1="100.0" y1="1989.4" x2="114.5" y2="1989.4" stroke="#000" stroke-width="3"/>
<text x="85.2" y="2000.3" font-size="29.5" text-anchor="end">0.0</text>
<line x1="100.0" y1="1838.7" x2="114.5" y2="1838.7" stroke="#000" stroke-width="3"/>
<text x="85.2" y="1849.6" font-size="29.5" text-anchor="end">0.5</text>
<line x1="100.0" y1="1688.0" x2="114.5" y2="1688.0" stroke="#000" stroke-width="3"/>
<text x="85.2" y="1698.9" font-size="29.5" text-anchor="end">1.0</text>
<line x1="100.0" y1="1537.3" x2="114.5" y2="1537.3" stroke="#000" stroke-width="3"/>
<text x="85.2" y="1548.2" font-size="29.5" text-anchor="end">1.5</text>
<line x1="100.0" y1="1386.5" x2="114.5" y2="1386.5" stroke="#000" stroke-width="3"/>
<text x="85.2" y="1397.4" font-size="29.5" text-anchor="end">2.0</text>
<line x1="100.0" y1="1235.8" x2="114.5" y2="1235.8" stroke="#000" stroke-width="3"/>
<text x="85.2" y="1246.7" font-size="29.5" text-anchor="end">2.5</text>
<line x1="100.0" y1="1085.1" x2="114.5" y2="1085.1" stroke="#000" stroke-width="3"/>
<text x="85.2" y="1096.0" font-size="29.5" text-anchor="end">3.0</text>
<line x1="114.5" y1="2019.5" x2="114.5" y2="2034.0" stroke="#000" stroke-width="3"/>
<text x="114.5" y="2069.8" font-size="29.5" text-anchor="middle">0</text>
<line x1="313.0" y1="2019.5" x2="313.0" y2="2034.0" stroke="#000" stroke-width="3"/>
<text x="313.0" y="2069.8" font-size="29.5" text-anchor="middle">20</text>
<line x1="511.5" y1="2019.5" x2="511.5" y2="2034.0" stroke="#000" stroke-width="3"/>
<text x="511.5" y="2069.8" font-size="29.5" text-anchor="middle">40</text>
<line x1="710.1" y1="2019.5" x2="710.1" y2="2034.0" stroke="#000" stroke-width="3"/>
<text x="710.1" y="2069.8" font-size="29.5" text-anchor="middle">60</text>
<line x1="908.6" y1="2019.5" x2="908.6" y2="2034.0" stroke="#000" stroke-width="3"/>
<text x="908.6" y="2069.8" font-size="29.5" text-anchor="middle">80</text>
<text x="561.2" y="2113.7" font-size="29.5" text-anchor="middle">Radius (au)</text>
<text transform="translate(22.4,1549.6) rotate(-90)" x="0" y="0" font-size="29" text-anchor="middle">Intensity (mJy/beam)</text>
<rect x="742.5" y="1099.3" width="250.3" height="52.9" rx="6" ry="6" fill="#fff" fill-opacity="0.8" stroke="#cccccc" stroke-width="2.6"/>
<line x1="751.3" y1="1124.6" x2="815.6" y2="1124.6" stroke="#006400" stroke-width="6"/>
<text x="837.4" y="1130.5" font-size="29.6">PA=105.0<tspan font-size="19" dx="1.2" dy="-6.8">°</tspan></text>
<text x="175.0" y="1145.1" font-size="33.5" font-weight="bold">c</text>
<defs>
<clipPath id="cd"><rect x="1185" y="1104" width="896" height="896"/></clipPath>
<radialGradient id="gcore" cx="0.5" cy="0.5" r="0.5"><stop offset="0.000" stop-color="#ffffff" stop-opacity="1.00"/><stop offset="0.025" stop-color="#ffffff" stop-opacity="1.00"/><stop offset="0.050" stop-color="#ffffff" stop-opacity="1.00"/><stop offset="0.075" stop-color="#fffff7" stop-opacity="1.00"/><stop offset="0.100" stop-color="#ffffec" stop-opacity="1.00"/><stop offset="0.125" stop-color="#ffffde" stop-opacity="1.00"/><stop offset="0.150" stop-color="#ffffce" stop-opacity="1.00"/><stop offset="0.175" stop-color="#ffffbc" stop-opacity="1.00"/><stop offset="0.200" stop-color="#ffffa9" stop-opacity="1.00"/><stop offset="0.225" stop-color="#ffff95" stop-opacity="1.00"/><stop offset="0.250" stop-color="#ffff80" stop-opacity="1.00"/><stop offset="0.275" stop-color="#ffec6c" stop-opacity="1.00"/><stop offset="0.300" stop-color="#ffd858" stop-opacity="1.00"/><stop offset="0.325" stop-color="#ffc545" stop-opacity="1.00"/><stop offset="0.350" stop-color="#ffb333" stop-opacity="1.00"/><stop offset="0.375" stop-color="#ffa223" stop-opacity="1.00"/><stop offset="0.400" stop-color="#ff9313" stop-opacity="1.00"/><stop offset="0.425" stop-color="#ff8505" stop-opacity="1.00"/><stop offset="0.450" stop-color="#f77800" stop-opacity="1.00"/><stop offset="0.475" stop-color="#ec6c00" stop-opacity="1.00"/><stop offset="0.500" stop-color="#e16200" stop-opacity="1.00"/><stop offset="0.525" stop-color="#d85900" stop-opacity="1.00"/><stop offset="0.550" stop-color="#d05100" stop-opacity="1.00"/><stop offset="0.575" stop-color="#c94a00" stop-opacity="1.00"/><stop offset="0.600" stop-color="#c34300" stop-opacity="1.00"/><stop offset="0.625" stop-color="#bd3e00" stop-opacity="1.00"/><stop offset="0.650" stop-color="#b83900" stop-opacity="1.00"/><stop offset="0.675" stop-color="#b43400" stop-opacity="1.00"/><stop offset="0.700" stop-color="#af3000" stop-opacity="1.00"/><stop offset="0.725" stop-color="#ac2c00" stop-opacity="0.98"/><stop offset="0.750" stop-color="#a82900" stop-opacity="0.89"/><stop offset="0.775" stop-color="#a52600" stop-opacity="0.80"/><stop offset="0.800" stop-color="#a22300" stop-opacity="0.71"/><stop offset="0.825" stop-color="#9f2000" stop-opacity="0.63"/><stop offset="0.850" stop-color="#9d1d00" stop-opacity="0.54"/><stop offset="0.875" stop-color="#9a1b00" stop-opacity="0.45"/><stop offset="0.900" stop-color="#981900" stop-opacity="0.36"/><stop offset="0.925" stop-color="#961600" stop-opacity="0.27"/><stop offset="0.950" stop-color="#941400" stop-opacity="0.18"/><stop offset="0.975" stop-color="#921300" stop-opacity="0.09"/><stop offset="1.000" stop-color="#901100" stop-opacity="0.00"/></radialGradient>
<radialGradient id="genv" cx="0.5" cy="0.5" r="0.5"><stop offset="0.000" stop-color="#7d0000" stop-opacity="1.00"/><stop offset="0.303" stop-color="#7b0000" stop-opacity="1.00"/><stop offset="0.485" stop-color="#780000" stop-opacity="1.00"/><stop offset="0.545" stop-color="#690000" stop-opacity="1.00"/><stop offset="0.606" stop-color="#5c0000" stop-opacity="1.00"/><stop offset="0.667" stop-color="#4e0000" stop-opacity="1.00"/><stop offset="0.727" stop-color="#380000" stop-opacity="1.00"/><stop offset="0.788" stop-color="#240000" stop-opacity="0.78"/><stop offset="0.848" stop-color="#170000" stop-opacity="0.56"/><stop offset="0.909" stop-color="#0e0000" stop-opacity="0.33"/><stop offset="1.000" stop-color="#0a0000" stop-opacity="0.00"/></radialGradient>
<radialGradient id="ghaze" cx="0.5" cy="0.5" r="0.5"><stop offset="0.000" stop-color="#240000" stop-opacity="1.00"/><stop offset="0.450" stop-color="#1f0000" stop-opacity="1.00"/><stop offset="0.700" stop-color="#170000" stop-opacity="1.00"/><stop offset="0.850" stop-color="#0f0000" stop-opacity="1.00"/><stop offset="1.000" stop-color="#090000" stop-opacity="0.00"/></radialGradient>
</defs>
<filter id="hb" x="1150" y="1070" width="966" height="966" filterUnits="userSpaceOnUse"><feGaussianBlur stdDeviation="3"/></filter>
<g clip-path="url(#cd)">
<g filter="url(#hb)">
<rect x="1155" y="1074" width="956" height="956" fill="#0a0000"/>
<path fill="#0d0000" d="M1714.8,1234.0 1747.0,1232.8 1779.0,1235.7 1795.0,1238.9 1811.0,1243.3 1839.0,1254.8 1863.0,1269.5 1875.0,1279.0 1885.0,1288.5 1895.4,1300.0 1904.6,1312.0 1920.3,1338.0 1927.8,1354.0 1933.9,1370.0 1942.4,1400.0 1948.0,1436.0 1949.5,1472.0 1947.6,1506.0 1941.6,1546.0 1931.9,1586.0 1917.7,1628.0 1902.2,1664.0 1882.2,1702.0 1861.9,1734.0 1836.4,1768.0 1809.8,1798.0 1779.0,1827.6 1745.0,1855.2 1713.0,1877.2 1679.0,1896.5 1643.0,1912.8 1611.0,1923.6 1577.0,1931.4 1543.0,1935.1 1511.0,1934.6 1479.0,1929.7 1451.0,1921.3 1429.0,1911.2 1411.0,1899.9 1393.0,1885.1 1376.9,1868.0 1362.3,1848.0 1349.8,1826.0 1340.3,1804.0 1332.1,1778.0 1326.3,1750.0 1323.4,1724.0 1322.6,1696.0 1324.1,1666.0 1328.0,1636.0 1334.0,1606.0 1342.2,1576.0 1354.0,1542.0 1367.6,1510.0 1381.7,1482.0 1397.9,1454.0 1413.8,1430.0 1433.3,1404.0 1455.6,1378.0 1479.0,1354.0 1503.0,1332.3 1527.0,1313.1 1553.0,1294.9 1579.0,1279.1 1607.0,1264.7 1635.0,1252.9 1659.0,1245.0 1685.0,1238.5 1714.8,1234.0Z"/>
<path fill="#0f0000" d="M1727.5,1244.0 1759.0,1244.8 1789.0,1249.5 1817.0,1258.2 1843.0,1271.0 1865.0,1286.6 1885.0,1306.4 1902.3,1330.0 1916.3,1356.0 1927.5,1386.0 1934.7,1416.0 1938.9,1450.0 1939.3,1486.0 1935.9,1524.0 1928.8,1562.0 1918.2,1600.0 1904.2,1638.0 1887.5,1674.0 1868.4,1708.0 1845.5,1742.0 1821.6,1772.0 1795.0,1800.5 1767.0,1826.3 1735.0,1851.5 1703.0,1872.6 1669.0,1890.9 1637.0,1904.6 1605.0,1914.8 1573.0,1921.3 1541.0,1924.2 1509.0,1923.0 1479.0,1917.6 1453.0,1909.1 1433.0,1899.4 1413.0,1886.1 1397.0,1872.0 1381.1,1854.0 1367.4,1834.0 1355.9,1812.0 1346.5,1788.0 1339.8,1764.0 1335.1,1738.0 1332.7,1710.0 1332.8,1682.0 1335.2,1652.0 1340.0,1622.0 1346.4,1594.0 1356.1,1562.0 1367.5,1532.0 1380.1,1504.0 1396.0,1474.0 1412.0,1448.0 1430.3,1422.0 1449.5,1398.0 1471.2,1374.0 1495.0,1350.9 1519.0,1330.5 1545.0,1311.1 1569.0,1295.6 1595.0,1281.1 1621.0,1269.0 1647.0,1259.2 1675.0,1251.3 1701.0,1246.4 1727.5,1244.0Z"/>
<path fill="#110000" d="M1708.6,1254.0 1741.0,1252.7 1771.0,1255.4 1801.0,1262.5 1827.0,1273.0 1849.0,1286.3 1869.9,1304.0 1888.5,1326.0 1903.3,1350.0 1915.6,1378.0 1924.5,1408.0 1930.1,1442.0 1931.8,1476.0 1929.8,1512.0 1924.0,1550.0 1914.7,1588.0 1902.5,1624.0 1886.1,1662.0 1868.0,1696.0 1847.5,1728.0 1824.9,1758.0 1799.0,1787.1 1771.0,1814.0 1741.0,1838.5 1709.0,1860.5 1677.0,1878.7 1645.0,1893.2 1613.0,1904.2 1581.0,1911.6 1549.0,1915.2 1519.0,1914.8 1489.0,1910.5 1461.0,1902.2 1441.0,1893.0 1423.0,1881.6 1406.5,1868.0 1391.0,1851.4 1377.0,1832.0 1365.9,1812.0 1356.5,1790.0 1349.1,1766.0 1344.1,1742.0 1341.1,1716.0 1340.3,1688.0 1341.9,1660.0 1345.6,1632.0 1351.7,1602.0 1359.5,1574.0 1369.2,1546.0 1380.0,1520.0 1393.6,1492.0 1408.4,1466.0 1425.3,1440.0 1443.2,1416.0 1463.5,1392.0 1485.0,1369.6 1507.0,1349.3 1531.0,1329.9 1555.0,1312.9 1581.0,1297.0 1607.0,1283.5 1633.0,1272.5 1659.0,1263.8 1685.0,1257.5 1708.6,1254.0Z"/>
<path fill="#130000" d="M1726.2,1260.0 1755.0,1261.0 1783.0,1265.6 1811.0,1274.6 1835.0,1286.8 1857.0,1303.0 1875.4,1322.0 1892.2,1346.0 1904.5,1370.0 1914.5,1398.0 1921.6,1430.0 1924.9,1462.0 1924.7,1496.0 1921.3,1530.0 1913.9,1568.0 1904.1,1602.0 1889.8,1640.0 1873.7,1674.0 1856.5,1704.0 1836.3,1734.0 1812.4,1764.0 1787.0,1791.1 1759.0,1816.6 1727.0,1841.3 1697.0,1860.7 1667.0,1876.7 1633.0,1890.9 1601.0,1900.5 1573.0,1905.8 1543.0,1908.1 1513.0,1906.7 1485.0,1901.6 1459.0,1892.7 1439.0,1882.4 1421.0,1869.8 1405.0,1855.1 1390.6,1838.0 1377.7,1818.0 1367.7,1798.0 1359.4,1776.0 1352.6,1750.0 1348.6,1724.0 1346.9,1698.0 1347.5,1670.0 1350.0,1644.0 1354.3,1618.0 1362.1,1586.0 1371.7,1556.0 1381.9,1530.0 1395.9,1500.0 1410.2,1474.0 1428.1,1446.0 1444.1,1424.0 1464.0,1400.0 1484.7,1378.0 1507.0,1357.0 1529.0,1338.8 1553.0,1321.4 1579.0,1305.1 1605.0,1291.4 1629.0,1280.9 1653.0,1272.5 1679.0,1265.7 1703.0,1261.7 1726.2,1260.0Z"/>
<path fill="#150000" d="M1713.5,1266.0 1743.0,1265.6 1771.0,1268.9 1799.0,1276.4 1823.0,1286.9 1845.0,1301.0 1863.9,1318.0 1881.6,1340.0 1895.5,1364.0 1906.3,1390.0 1914.5,1420.0 1919.2,1452.0 1920.3,1486.0 1917.9,1520.0 1912.0,1556.0 1902.1,1594.0 1890.0,1628.0 1875.9,1660.0 1857.5,1694.0 1838.1,1724.0 1815.2,1754.0 1789.9,1782.0 1763.0,1807.5 1733.0,1831.6 1705.0,1850.6 1673.0,1868.6 1641.0,1882.8 1611.0,1892.7 1581.0,1899.4 1551.0,1902.5 1521.0,1901.9 1493.0,1897.6 1467.0,1889.6 1449.0,1881.2 1431.0,1869.9 1414.4,1856.0 1399.6,1840.0 1386.7,1822.0 1375.7,1802.0 1366.5,1780.0 1359.8,1758.0 1354.7,1732.0 1352.2,1708.0 1351.7,1682.0 1353.5,1654.0 1357.4,1626.0 1363.5,1598.0 1371.5,1570.0 1381.6,1542.0 1393.8,1514.0 1406.0,1490.0 1420.1,1466.0 1437.5,1440.0 1456.0,1416.0 1475.2,1394.0 1497.0,1372.0 1519.0,1352.5 1541.0,1335.2 1567.0,1317.6 1593.0,1302.6 1617.0,1291.0 1643.0,1280.9 1667.0,1273.7 1691.0,1268.7 1713.5,1266.0Z"/>
<path fill="#170000" d="M1699.5,1272.0 1729.0,1270.0 1759.0,1272.0 1787.0,1277.8 1813.0,1287.6 1835.0,1300.1 1855.0,1316.3 1872.5,1336.0 1888.0,1360.0 1899.9,1386.0 1908.5,1414.0 1914.2,1446.0 1916.2,1478.0 1914.7,1512.0 1910.0,1546.0 1901.7,1582.0 1889.9,1618.0 1875.7,1652.0 1860.3,1682.0 1840.7,1714.0 1818.7,1744.0 1794.5,1772.0 1767.0,1799.0 1739.0,1822.4 1709.0,1843.5 1679.0,1861.0 1649.0,1875.2 1617.0,1886.6 1587.0,1893.8 1557.0,1897.6 1527.0,1897.6 1499.0,1893.8 1473.0,1886.4 1455.0,1878.6 1437.0,1867.8 1421.0,1855.2 1406.2,1840.0 1394.0,1824.0 1382.1,1804.0 1372.3,1782.0 1365.1,1760.0 1359.8,1736.0 1356.9,1712.0 1355.9,1688.0 1356.9,1662.0 1360.1,1634.0 1365.5,1606.0 1372.4,1580.0 1381.7,1552.0 1392.3,1526.0 1405.8,1498.0 1419.4,1474.0 1434.8,1450.0 1452.5,1426.0 1470.9,1404.0 1491.0,1382.8 1511.0,1364.1 1535.0,1344.4 1557.0,1328.6 1581.0,1313.7 1605.0,1301.0 1627.0,1291.3 1651.0,1282.7 1675.0,1276.3 1699.5,1272.0Z"/>
<path fill="#1a0000" d="M1701.5,1276.0 1731.0,1274.4 1759.0,1276.5 1787.0,1282.7 1811.0,1291.9 1833.0,1304.5 1853.0,1321.0 1869.7,1340.0 1885.0,1364.0 1896.7,1390.0 1905.6,1420.0 1910.6,1450.0 1912.3,1482.0 1910.6,1516.0 1905.6,1550.0 1897.5,1584.0 1885.6,1620.0 1872.0,1652.0 1854.3,1686.0 1835.4,1716.0 1814.5,1744.0 1791.0,1771.0 1765.0,1796.4 1737.0,1819.6 1707.0,1840.6 1675.0,1859.0 1645.0,1872.7 1615.0,1883.0 1585.0,1890.0 1555.0,1893.4 1527.0,1893.1 1499.0,1889.1 1473.0,1881.4 1455.0,1873.2 1437.0,1862.0 1421.0,1848.7 1407.3,1834.0 1395.0,1817.1 1384.1,1798.0 1375.5,1778.0 1368.5,1756.0 1363.4,1732.0 1360.6,1708.0 1359.8,1684.0 1361.0,1658.0 1364.1,1632.0 1369.6,1604.0 1376.6,1578.0 1386.1,1550.0 1397.8,1522.0 1409.6,1498.0 1423.2,1474.0 1438.8,1450.0 1455.1,1428.0 1473.5,1406.0 1493.0,1385.5 1515.0,1365.1 1537.0,1347.2 1559.0,1331.5 1583.0,1316.7 1607.0,1304.2 1631.0,1293.8 1655.0,1285.6 1679.0,1279.6 1701.5,1276.0Z"/>
<path fill="#1c0000" d="M1702.1,1280.0 1731.0,1278.6 1759.0,1280.9 1787.0,1287.3 1811.0,1296.9 1833.0,1310.1 1851.7,1326.0 1868.6,1346.0 1882.2,1368.0 1893.7,1394.0 1901.9,1422.0 1906.9,1452.0 1908.6,1484.0 1906.8,1518.0 1902.1,1550.0 1894.0,1584.0 1882.2,1620.0 1868.6,1652.0 1851.9,1684.0 1833.1,1714.0 1812.2,1742.0 1789.0,1768.6 1763.0,1793.9 1735.0,1817.1 1707.0,1836.6 1679.0,1853.0 1649.0,1867.1 1617.0,1878.5 1587.0,1885.6 1557.0,1889.1 1529.0,1889.0 1501.0,1885.1 1475.0,1877.4 1457.0,1869.2 1441.0,1859.3 1425.0,1846.3 1411.0,1831.4 1398.2,1814.0 1388.0,1796.0 1379.2,1776.0 1372.2,1754.0 1367.4,1732.0 1364.4,1708.0 1363.5,1684.0 1364.6,1658.0 1368.0,1630.0 1373.6,1602.0 1380.0,1578.0 1389.6,1550.0 1399.4,1526.0 1412.1,1500.0 1425.6,1476.0 1442.6,1450.0 1459.0,1428.0 1477.7,1406.0 1497.0,1386.0 1517.0,1367.6 1541.0,1348.3 1563.0,1332.9 1585.0,1319.6 1609.0,1307.2 1633.0,1297.0 1657.0,1289.0 1681.0,1283.2 1702.1,1280.0Z"/>
<path fill="#1e0000" d="M1699.7,1284.0 1729.0,1282.4 1757.0,1284.6 1783.0,1290.4 1807.0,1299.6 1828.4,1312.0 1847.0,1327.3 1863.5,1346.0 1877.7,1368.0 1889.6,1394.0 1898.1,1422.0 1903.3,1452.0 1905.1,1482.0 1903.9,1514.0 1899.2,1548.0 1891.4,1582.0 1879.7,1618.0 1866.3,1650.0 1849.7,1682.0 1832.3,1710.0 1810.1,1740.0 1787.0,1766.4 1761.0,1791.7 1735.0,1813.2 1707.0,1832.9 1679.0,1849.3 1649.0,1863.5 1619.0,1874.3 1589.0,1881.6 1559.0,1885.3 1531.0,1885.2 1503.0,1881.4 1479.0,1874.5 1461.0,1866.5 1445.0,1856.9 1429.0,1844.2 1415.0,1829.7 1401.8,1812.0 1391.4,1794.0 1382.6,1774.0 1375.5,1752.0 1370.4,1728.0 1367.8,1706.0 1366.9,1682.0 1368.1,1656.0 1371.3,1630.0 1376.3,1604.0 1383.9,1576.0 1392.0,1552.0 1401.8,1528.0 1414.3,1502.0 1427.8,1478.0 1443.3,1454.0 1459.6,1432.0 1478.1,1410.0 1497.0,1390.2 1517.0,1371.6 1537.0,1355.2 1559.0,1339.3 1583.0,1324.4 1607.0,1311.8 1631.0,1301.4 1655.0,1293.2 1679.0,1287.3 1699.7,1284.0Z"/>
<path fill="#200000" d="M1721.9,1286.0 1749.0,1287.3 1775.0,1292.1 1799.0,1300.2 1821.0,1311.7 1839.9,1326.0 1857.1,1344.0 1871.1,1364.0 1883.3,1388.0 1892.4,1414.0 1898.6,1442.0 1901.7,1472.0 1901.5,1504.0 1898.2,1536.0 1891.6,1570.0 1881.7,1604.0 1869.5,1636.0 1854.3,1668.0 1838.2,1696.0 1817.6,1726.0 1796.5,1752.0 1773.0,1776.8 1747.0,1800.1 1719.0,1821.4 1691.0,1839.3 1661.0,1854.9 1633.0,1866.3 1605.0,1874.8 1577.0,1880.1 1549.0,1882.1 1523.0,1880.9 1497.0,1876.1 1473.0,1868.0 1455.0,1858.8 1439.0,1847.7 1424.0,1834.0 1411.0,1818.6 1400.0,1802.0 1389.8,1782.0 1381.5,1760.0 1375.7,1738.0 1371.9,1714.0 1370.2,1690.0 1370.5,1666.0 1372.8,1640.0 1377.5,1612.0 1383.9,1586.0 1392.1,1560.0 1402.2,1534.0 1414.3,1508.0 1427.4,1484.0 1442.5,1460.0 1458.3,1438.0 1476.3,1416.0 1495.0,1396.0 1515.0,1377.0 1537.0,1358.7 1559.0,1342.8 1581.0,1328.9 1603.0,1317.0 1629.0,1305.5 1653.0,1297.1 1677.0,1291.0 1699.0,1287.5 1721.9,1286.0Z"/>
<path fill="#220000" d="M1706.6,1290.0 1735.0,1289.5 1761.0,1292.5 1787.0,1299.4 1809.0,1308.9 1829.0,1321.7 1847.1,1338.0 1863.0,1357.8 1875.9,1380.0 1885.9,1404.0 1893.5,1432.0 1898.0,1462.0 1899.0,1492.0 1897.2,1522.0 1891.9,1556.0 1883.4,1590.0 1871.7,1624.0 1857.6,1656.0 1841.4,1686.0 1821.9,1716.0 1801.8,1742.0 1778.2,1768.0 1753.0,1791.7 1727.0,1812.5 1699.0,1831.4 1671.0,1847.0 1643.0,1859.5 1615.0,1869.0 1585.0,1875.7 1557.0,1878.6 1529.0,1878.1 1503.0,1874.0 1479.0,1866.6 1461.0,1858.1 1445.0,1847.7 1431.0,1835.9 1417.0,1820.6 1405.3,1804.0 1395.3,1786.0 1387.0,1766.0 1380.4,1744.0 1376.0,1722.0 1373.5,1698.0 1373.1,1674.0 1374.5,1650.0 1378.0,1624.0 1383.5,1598.0 1390.2,1574.0 1400.1,1546.0 1410.3,1522.0 1423.4,1496.0 1437.6,1472.0 1452.5,1450.0 1469.4,1428.0 1487.0,1407.9 1506.8,1388.0 1527.0,1370.1 1547.0,1354.5 1569.0,1339.4 1593.0,1325.3 1615.0,1314.5 1639.0,1304.8 1663.0,1297.5 1685.0,1292.7 1706.6,1290.0Z"/>
<path fill="#240000" d="M1697.1,1294.0 1725.0,1292.4 1753.0,1294.5 1777.0,1299.7 1801.0,1308.7 1821.0,1320.1 1840.4,1336.0 1856.2,1354.0 1870.2,1376.0 1881.8,1402.0 1889.6,1428.0 1894.4,1456.0 1896.3,1488.0 1894.7,1520.0 1890.1,1552.0 1882.0,1586.0 1871.4,1618.0 1857.9,1650.0 1842.2,1680.0 1824.6,1708.0 1803.7,1736.0 1781.0,1761.7 1757.0,1785.0 1731.0,1806.4 1703.0,1825.9 1673.0,1843.0 1645.0,1855.8 1617.0,1865.4 1587.0,1872.4 1559.0,1875.4 1533.0,1875.2 1507.0,1871.5 1483.0,1864.5 1465.0,1856.4 1449.0,1846.4 1434.0,1834.0 1421.0,1820.2 1409.2,1804.0 1399.0,1786.0 1390.3,1766.0 1384.1,1746.0 1379.4,1724.0 1376.7,1702.0 1375.8,1678.0 1376.9,1654.0 1379.7,1630.0 1384.7,1604.0 1391.6,1578.0 1400.4,1552.0 1410.2,1528.0 1421.8,1504.0 1435.4,1480.0 1449.7,1458.0 1466.0,1436.0 1482.9,1416.0 1501.0,1396.9 1521.0,1378.4 1543.0,1360.5 1563.0,1346.3 1585.0,1332.7 1607.0,1321.2 1631.0,1310.8 1653.0,1303.2 1675.0,1297.6 1697.1,1294.0Z"/>
<path fill="#260000" d="M1706.8,1296.0 1735.0,1295.8 1761.0,1299.1 1785.0,1305.6 1807.0,1315.4 1827.0,1328.6 1843.7,1344.0 1859.4,1364.0 1871.8,1386.0 1882.1,1412.0 1888.8,1438.0 1892.8,1468.0 1893.5,1498.0 1891.0,1530.0 1885.6,1562.0 1877.1,1594.0 1865.8,1626.0 1852.4,1656.0 1836.1,1686.0 1817.7,1714.0 1797.5,1740.0 1775.0,1764.7 1751.0,1787.2 1725.0,1807.9 1697.0,1826.7 1669.0,1842.2 1641.0,1854.5 1613.0,1863.7 1585.0,1869.8 1557.0,1872.6 1531.0,1872.0 1507.0,1868.3 1483.0,1861.1 1465.0,1852.7 1449.0,1842.4 1435.0,1830.5 1421.7,1816.0 1410.4,1800.0 1400.4,1782.0 1392.1,1762.0 1385.6,1740.0 1381.3,1718.0 1378.9,1694.0 1378.6,1670.0 1380.2,1646.0 1383.9,1620.0 1389.6,1594.0 1396.6,1570.0 1405.9,1544.0 1417.4,1518.0 1429.8,1494.0 1444.3,1470.0 1458.1,1450.0 1473.7,1430.0 1491.4,1410.0 1511.0,1390.5 1531.0,1373.0 1551.0,1357.6 1573.0,1342.8 1595.0,1330.1 1617.0,1319.4 1639.0,1310.6 1663.0,1303.3 1685.0,1298.6 1706.8,1296.0Z"/>
<path fill="#280000" d="M1694.7,1300.0 1723.0,1298.3 1749.0,1300.1 1773.0,1305.0 1797.0,1313.9 1817.0,1325.1 1835.0,1339.6 1851.0,1357.5 1864.4,1378.0 1875.5,1402.0 1884.2,1430.0 1889.1,1458.0 1891.0,1488.0 1889.9,1518.0 1885.5,1550.0 1877.7,1584.0 1867.3,1616.0 1853.9,1648.0 1839.4,1676.0 1822.1,1704.0 1801.3,1732.0 1779.0,1757.5 1755.0,1780.7 1729.0,1802.1 1703.0,1820.2 1675.0,1836.4 1647.0,1849.4 1619.0,1859.3 1591.0,1866.0 1563.0,1869.4 1537.0,1869.5 1511.0,1866.1 1487.0,1859.3 1469.0,1851.3 1453.0,1841.4 1439.0,1830.0 1425.7,1816.0 1414.0,1800.0 1403.7,1782.0 1395.9,1764.0 1389.5,1744.0 1384.7,1722.0 1382.0,1700.0 1381.1,1678.0 1382.0,1654.0 1384.7,1630.0 1389.6,1604.0 1395.9,1580.0 1404.5,1554.0 1414.2,1530.0 1425.8,1506.0 1439.3,1482.0 1453.6,1460.0 1468.4,1440.0 1485.2,1420.0 1503.0,1401.2 1523.0,1382.6 1543.0,1366.3 1565.0,1350.7 1587.0,1337.2 1607.0,1326.7 1629.0,1317.1 1651.0,1309.4 1673.0,1303.7 1694.7,1300.0Z"/>
<path fill="#2a0000" d="M1700.7,1302.0 1727.0,1301.1 1753.0,1303.6 1777.0,1309.3 1801.0,1319.1 1821.0,1331.7 1837.2,1346.0 1852.2,1364.0 1865.4,1386.0 1876.2,1412.0 1883.3,1438.0 1887.5,1466.0 1888.6,1496.0 1886.5,1528.0 1881.7,1558.0 1873.7,1590.0 1862.8,1622.0 1849.7,1652.0 1833.6,1682.0 1815.4,1710.0 1795.4,1736.0 1773.0,1760.7 1749.0,1783.2 1725.0,1802.4 1697.0,1821.4 1669.0,1836.9 1641.0,1849.2 1613.0,1858.4 1585.0,1864.4 1559.0,1867.0 1533.0,1866.4 1509.0,1862.7 1485.0,1855.4 1467.0,1846.8 1453.0,1837.7 1439.0,1825.9 1425.0,1810.4 1413.6,1794.0 1404.0,1776.0 1396.0,1756.0 1390.2,1736.0 1386.1,1714.0 1383.9,1692.0 1383.6,1668.0 1385.3,1644.0 1388.3,1622.0 1393.8,1596.0 1400.6,1572.0 1409.8,1546.0 1420.2,1522.0 1431.4,1500.0 1444.2,1478.0 1459.0,1456.0 1474.3,1436.0 1491.6,1416.0 1509.3,1398.0 1529.0,1380.3 1549.0,1364.5 1569.0,1350.7 1591.0,1337.6 1613.0,1326.5 1635.0,1317.4 1657.0,1310.2 1679.0,1305.1 1700.7,1302.0Z"/>
<path fill="#2c0000" d="M1706.6,1304.0 1733.0,1303.9 1757.0,1307.0 1781.0,1313.5 1803.0,1323.4 1822.0,1336.0 1839.0,1351.9 1853.0,1370.0 1865.4,1392.0 1875.6,1418.0 1882.0,1444.0 1885.6,1472.0 1886.2,1502.0 1883.9,1532.0 1878.3,1564.0 1869.8,1596.0 1858.2,1628.0 1845.5,1656.0 1830.1,1684.0 1811.6,1712.0 1791.1,1738.0 1769.0,1761.9 1745.0,1784.0 1721.0,1802.9 1693.0,1821.4 1665.0,1836.5 1637.0,1848.4 1609.0,1857.1 1583.0,1862.3 1557.0,1864.5 1531.0,1863.6 1507.0,1859.5 1485.0,1852.4 1469.0,1844.7 1453.0,1834.2 1439.0,1822.0 1426.6,1808.0 1415.5,1792.0 1405.9,1774.0 1397.9,1754.0 1392.2,1734.0 1388.2,1712.0 1386.1,1690.0 1385.9,1666.0 1387.6,1642.0 1391.2,1618.0 1396.4,1594.0 1404.0,1568.0 1413.6,1542.0 1424.3,1518.0 1435.8,1496.0 1450.4,1472.0 1464.3,1452.0 1480.1,1432.0 1498.1,1412.0 1516.5,1394.0 1535.0,1378.0 1557.0,1361.3 1579.0,1346.9 1601.0,1334.7 1621.0,1325.3 1643.0,1316.9 1663.0,1311.0 1685.0,1306.4 1706.6,1304.0Z"/>
<path fill="#2e0000" d="M1714.3,1306.0 1741.0,1307.1 1765.0,1311.3 1787.0,1318.6 1807.0,1328.7 1825.0,1341.9 1841.0,1358.2 1855.1,1378.0 1866.4,1400.0 1874.9,1424.0 1880.8,1450.0 1883.8,1478.0 1883.9,1508.0 1881.3,1536.0 1875.4,1568.0 1866.5,1600.0 1854.5,1632.0 1840.4,1662.0 1824.2,1690.0 1806.4,1716.0 1787.0,1740.0 1765.0,1763.3 1741.0,1784.9 1715.0,1804.8 1689.0,1821.5 1663.0,1835.2 1635.0,1846.9 1607.0,1855.3 1581.0,1860.3 1555.0,1862.2 1531.0,1861.1 1507.0,1856.9 1485.0,1849.6 1469.0,1841.7 1453.0,1830.9 1439.0,1818.3 1426.7,1804.0 1416.0,1788.0 1405.9,1768.0 1398.5,1748.0 1393.3,1728.0 1389.7,1706.0 1388.0,1684.0 1388.3,1660.0 1390.4,1636.0 1394.3,1612.0 1400.5,1586.0 1408.0,1562.0 1418.1,1536.0 1428.3,1514.0 1440.2,1492.0 1453.9,1470.0 1469.6,1448.0 1486.0,1428.0 1504.6,1408.0 1523.0,1390.6 1543.0,1374.0 1563.0,1359.5 1583.0,1346.8 1605.0,1334.9 1627.0,1325.1 1649.0,1317.2 1671.0,1311.4 1693.0,1307.6 1714.3,1306.0Z"/>
<path fill="#300000" d="M1691.6,1310.0 1717.0,1308.2 1743.0,1309.7 1769.0,1314.9 1791.0,1323.0 1811.0,1334.3 1828.0,1348.0 1843.0,1364.6 1855.8,1384.0 1867.1,1408.0 1875.3,1434.0 1880.3,1462.0 1882.2,1490.0 1881.1,1520.0 1876.8,1552.0 1870.0,1582.0 1859.8,1614.0 1846.4,1646.0 1831.8,1674.0 1815.6,1700.0 1796.5,1726.0 1775.6,1750.0 1753.0,1772.1 1727.0,1793.8 1701.0,1811.9 1673.0,1828.1 1645.0,1840.9 1617.0,1850.5 1591.0,1856.5 1565.0,1859.6 1539.0,1859.5 1515.0,1856.3 1491.0,1849.3 1475.0,1842.1 1459.0,1832.3 1445.0,1820.7 1433.0,1808.0 1421.3,1792.0 1412.2,1776.0 1404.4,1758.0 1397.9,1738.0 1393.6,1718.0 1390.8,1696.0 1389.9,1674.0 1390.8,1652.0 1393.5,1628.0 1397.9,1604.0 1404.2,1580.0 1412.1,1556.0 1421.8,1532.0 1432.3,1510.0 1444.6,1488.0 1458.7,1466.0 1473.3,1446.0 1490.0,1426.0 1507.0,1408.1 1525.0,1391.2 1545.0,1374.7 1565.0,1360.3 1587.0,1346.7 1607.0,1336.1 1627.0,1327.2 1649.0,1319.4 1671.0,1313.6 1691.6,1310.0Z"/>
<path fill="#320000" d="M1692.9,1312.0 1719.0,1310.5 1745.0,1312.3 1769.0,1317.4 1791.0,1325.7 1811.0,1337.2 1827.0,1350.3 1842.6,1368.0 1855.4,1388.0 1865.5,1410.0 1873.5,1436.0 1878.5,1464.0 1880.2,1492.0 1879.0,1522.0 1874.9,1552.0 1868.1,1582.0 1857.9,1614.0 1846.4,1642.0 1832.2,1670.0 1815.0,1698.0 1795.9,1724.0 1775.0,1748.2 1751.0,1771.7 1727.0,1791.6 1701.0,1809.8 1675.0,1824.9 1647.0,1838.0 1621.0,1847.2 1593.0,1854.0 1567.0,1857.3 1541.0,1857.4 1517.0,1854.3 1493.0,1847.5 1477.0,1840.5 1461.0,1830.7 1447.0,1819.3 1435.0,1806.6 1424.1,1792.0 1413.8,1774.0 1406.0,1756.0 1399.7,1736.0 1395.4,1716.0 1392.7,1694.0 1391.9,1672.0 1392.8,1650.0 1395.7,1626.0 1400.3,1602.0 1406.6,1578.0 1414.7,1554.0 1423.7,1532.0 1434.2,1510.0 1446.5,1488.0 1460.7,1466.0 1475.5,1446.0 1492.3,1426.0 1509.0,1408.4 1527.0,1391.7 1547.0,1375.4 1567.0,1361.2 1587.0,1348.8 1609.0,1337.2 1629.0,1328.5 1651.0,1320.9 1673.0,1315.3 1692.9,1312.0Z"/>
<path fill="#340000" d="M1694.2,1314.0 1721.0,1312.7 1745.0,1314.6 1769.0,1319.8 1791.0,1328.3 1810.8,1340.0 1827.4,1354.0 1842.7,1372.0 1855.0,1392.0 1865.0,1415.0 1872.3,1440.0 1876.9,1468.0 1878.3,1496.0 1876.8,1526.0 1872.4,1556.0 1864.7,1588.0 1854.6,1618.0 1842.7,1646.0 1828.1,1674.0 1811.7,1700.0 1792.3,1726.0 1771.0,1750.0 1749.0,1771.3 1725.0,1791.0 1699.0,1809.0 1671.0,1825.0 1645.0,1836.8 1617.0,1846.3 1591.0,1852.3 1565.0,1855.2 1539.0,1855.0 1515.0,1851.5 1493.0,1845.1 1477.0,1837.8 1461.3,1828.0 1447.0,1816.0 1435.9,1804.0 1425.0,1789.1 1415.4,1772.0 1407.6,1754.0 1401.4,1734.0 1397.2,1714.0 1394.6,1692.0 1393.9,1670.0 1395.1,1646.0 1397.8,1624.0 1402.5,1600.0 1409.0,1576.0 1417.2,1552.0 1426.4,1530.0 1438.2,1506.0 1450.8,1484.0 1464.1,1464.0 1479.1,1444.0 1495.0,1425.4 1513.0,1406.8 1531.0,1390.5 1551.0,1374.5 1571.0,1360.6 1591.0,1348.6 1611.0,1338.4 1633.0,1329.1 1653.0,1322.4 1673.0,1317.4 1694.2,1314.0Z"/>
<path fill="#360000" d="M1695.4,1316.0 1721.0,1314.9 1747.0,1317.1 1769.0,1322.2 1791.0,1330.9 1809.6,1342.0 1827.0,1356.9 1841.3,1374.0 1853.5,1394.0 1863.0,1416.0 1870.6,1442.0 1875.0,1470.0 1876.4,1498.0 1874.7,1528.0 1870.2,1558.0 1862.3,1590.0 1852.1,1620.0 1840.0,1648.0 1825.1,1676.0 1808.4,1702.0 1790.3,1726.0 1769.0,1749.8 1747.0,1770.9 1723.0,1790.4 1697.0,1808.2 1671.0,1822.9 1645.0,1834.7 1617.0,1844.3 1591.0,1850.2 1565.0,1853.1 1539.0,1852.8 1515.0,1849.2 1493.0,1842.6 1477.0,1835.1 1462.6,1826.0 1449.0,1814.7 1437.0,1801.7 1425.8,1786.0 1416.9,1770.0 1409.2,1752.0 1403.0,1731.7 1399.0,1712.0 1396.5,1690.0 1395.8,1668.0 1397.1,1644.0 1400.0,1622.0 1404.8,1598.0 1411.4,1574.0 1419.8,1550.0 1429.1,1528.0 1440.0,1506.0 1452.7,1484.0 1466.0,1464.0 1481.0,1444.2 1497.0,1425.6 1515.0,1407.2 1533.0,1391.0 1553.0,1375.2 1572.1,1362.0 1593.0,1349.6 1613.0,1339.5 1633.0,1331.1 1655.0,1323.9 1675.0,1319.1 1695.4,1316.0Z"/>
<path fill="#380000" d="M1696.8,1318.0 1723.0,1317.1 1747.0,1319.4 1771.0,1325.3 1791.0,1333.5 1809.0,1344.5 1825.0,1358.2 1839.9,1376.0 1852.0,1396.0 1861.4,1418.0 1868.8,1444.0 1873.2,1472.0 1874.4,1500.0 1872.7,1530.0 1868.0,1560.0 1860.6,1590.0 1850.4,1620.0 1838.2,1648.0 1823.3,1676.0 1806.6,1702.0 1788.2,1726.0 1767.0,1749.6 1745.0,1770.5 1721.0,1789.8 1697.0,1806.2 1671.0,1820.9 1645.0,1832.7 1617.7,1842.0 1591.0,1848.1 1565.0,1850.9 1541.0,1850.7 1517.0,1847.3 1495.0,1840.9 1479.0,1833.6 1463.8,1824.0 1451.0,1813.4 1438.6,1800.0 1427.2,1784.0 1418.4,1768.0 1410.9,1750.0 1404.8,1730.0 1400.7,1710.0 1398.3,1688.0 1397.8,1666.0 1399.0,1644.0 1402.2,1620.0 1407.0,1596.4 1413.2,1574.0 1421.5,1550.0 1430.8,1528.0 1441.8,1506.0 1454.6,1484.0 1467.9,1464.0 1483.0,1444.2 1499.0,1425.8 1516.5,1408.0 1534.3,1392.0 1553.0,1377.3 1573.0,1363.5 1593.0,1351.6 1615.0,1340.6 1635.0,1332.4 1655.0,1325.9 1677.0,1320.8 1696.8,1318.0Z"/>
<path fill="#3a0000" d="M1698.9,1320.0 1725.0,1319.5 1748.3,1322.0 1771.0,1327.7 1791.0,1336.1 1809.0,1347.4 1825.4,1362.0 1839.0,1378.7 1851.0,1399.1 1860.5,1422.0 1867.1,1446.0 1871.3,1474.0 1872.4,1502.0 1870.6,1532.0 1865.8,1562.0 1858.2,1592.0 1847.9,1622.0 1835.5,1650.0 1821.5,1676.0 1804.7,1702.0 1786.2,1726.0 1765.0,1749.4 1743.1,1770.0 1719.0,1789.2 1695.0,1805.3 1669.0,1819.8 1643.0,1831.4 1617.0,1840.1 1591.0,1845.9 1565.0,1848.7 1541.0,1848.4 1517.0,1845.0 1495.0,1838.4 1479.0,1830.9 1465.0,1822.0 1451.0,1810.1 1440.0,1798.0 1429.0,1782.5 1420.0,1766.0 1412.5,1748.0 1406.5,1728.0 1402.6,1708.0 1400.3,1686.0 1399.8,1664.0 1401.1,1642.0 1404.4,1618.0 1409.0,1595.7 1415.6,1572.0 1424.1,1548.0 1433.5,1526.0 1444.7,1504.0 1457.0,1483.1 1471.0,1462.4 1485.2,1444.0 1501.0,1425.9 1518.8,1408.0 1537.0,1391.9 1555.0,1377.9 1575.5,1364.0 1596.2,1352.0 1617.0,1341.8 1637.0,1333.8 1659.0,1327.0 1679.0,1322.6 1698.9,1320.0Z"/>
<path fill="#3c0000" d="M1702.1,1322.0 1727.0,1321.9 1751.0,1324.9 1773.0,1330.9 1793.0,1339.9 1811.0,1351.9 1825.9,1366.0 1839.7,1384.0 1850.8,1404.0 1860.1,1428.0 1866.1,1452.0 1869.8,1480.0 1870.3,1508.0 1868.2,1536.0 1863.1,1566.0 1855.2,1596.0 1845.0,1624.8 1832.8,1652.0 1818.5,1678.0 1801.4,1704.0 1783.0,1727.5 1763.0,1749.2 1741.0,1769.7 1717.0,1788.6 1693.0,1804.5 1667.0,1818.7 1641.0,1830.0 1615.0,1838.5 1589.0,1844.1 1563.0,1846.6 1539.0,1846.0 1515.0,1842.1 1495.0,1835.8 1479.0,1828.2 1465.0,1819.0 1452.3,1808.0 1439.9,1794.0 1429.0,1778.0 1420.7,1762.0 1413.5,1744.0 1407.9,1724.0 1404.2,1704.0 1402.1,1682.0 1401.9,1660.0 1403.5,1638.0 1406.9,1614.0 1411.7,1592.0 1418.7,1568.0 1427.0,1545.2 1437.0,1522.5 1448.7,1500.0 1461.0,1479.7 1474.7,1460.0 1489.0,1441.9 1505.0,1424.0 1523.0,1406.3 1541.0,1390.8 1560.7,1376.0 1579.0,1364.0 1599.0,1352.6 1621.0,1342.2 1641.0,1334.5 1661.0,1328.6 1681.0,1324.4 1702.1,1322.0Z"/>
<path fill="#3e0000" d="M1706.2,1324.0 1731.0,1324.5 1755.0,1328.2 1777.0,1335.0 1795.0,1343.8 1812.1,1356.0 1827.0,1370.9 1840.7,1390.0 1851.0,1410.0 1859.6,1434.0 1865.3,1460.0 1868.1,1486.0 1868.1,1514.0 1865.5,1542.0 1859.9,1572.0 1852.2,1600.0 1841.1,1630.0 1829.0,1656.0 1814.3,1682.0 1797.0,1707.4 1779.0,1729.7 1759.0,1751.0 1737.0,1770.9 1713.0,1789.3 1689.0,1804.8 1665.0,1817.6 1639.0,1828.7 1613.0,1836.9 1587.0,1842.2 1563.0,1844.4 1539.0,1843.7 1517.0,1840.2 1495.0,1833.2 1479.0,1825.4 1465.1,1816.0 1453.0,1805.3 1441.4,1792.0 1431.0,1776.7 1422.3,1760.0 1415.3,1742.0 1409.7,1722.0 1406.0,1702.0 1404.1,1680.0 1404.0,1658.0 1405.6,1636.0 1408.8,1614.0 1414.1,1590.0 1421.2,1566.0 1430.1,1542.0 1440.0,1520.0 1451.0,1499.3 1463.0,1479.6 1477.0,1459.6 1492.7,1440.0 1509.0,1422.2 1527.0,1405.0 1545.0,1389.8 1565.0,1375.2 1585.0,1362.5 1605.0,1351.7 1625.0,1342.6 1647.0,1334.7 1667.0,1329.3 1687.0,1325.7 1706.2,1324.0Z"/>
<path fill="#400000" d="M1686.3,1328.0 1711.0,1326.1 1735.0,1327.1 1757.0,1331.0 1779.0,1338.4 1799.0,1349.2 1815.0,1361.8 1829.7,1378.0 1841.6,1396.0 1851.9,1418.0 1859.5,1442.0 1864.4,1468.0 1866.4,1496.0 1865.6,1524.0 1861.8,1554.0 1855.1,1584.0 1845.6,1614.0 1834.0,1642.0 1820.7,1668.0 1804.6,1694.0 1787.0,1717.7 1767.5,1740.0 1747.0,1760.0 1723.0,1779.9 1699.0,1796.6 1673.0,1811.5 1647.0,1823.5 1621.0,1832.6 1595.0,1838.7 1569.0,1841.9 1545.0,1841.9 1523.0,1839.1 1501.0,1833.0 1485.0,1826.0 1471.0,1817.4 1459.0,1807.7 1447.0,1795.2 1435.8,1780.0 1427.0,1764.5 1419.0,1746.0 1413.4,1728.0 1409.1,1708.0 1406.6,1688.0 1405.8,1668.0 1406.6,1646.0 1409.1,1624.0 1413.5,1600.0 1419.2,1578.0 1426.5,1556.0 1435.4,1534.0 1444.9,1514.0 1455.9,1494.0 1468.7,1474.0 1481.8,1456.0 1497.0,1437.6 1513.5,1420.0 1531.0,1403.7 1549.0,1388.9 1569.0,1374.6 1587.0,1363.4 1607.0,1352.8 1627.0,1343.9 1647.0,1336.8 1667.0,1331.5 1686.3,1328.0Z"/>
<path fill="#420000" d="M1687.5,1330.0 1713.0,1328.3 1737.0,1329.7 1761.0,1334.5 1781.0,1341.9 1799.0,1352.0 1815.0,1365.0 1829.0,1380.9 1841.0,1399.7 1851.0,1422.0 1858.2,1446.0 1862.8,1472.0 1864.5,1500.0 1863.4,1528.0 1859.2,1558.0 1852.2,1588.0 1843.1,1616.0 1831.3,1644.0 1817.8,1670.0 1802.7,1694.0 1784.8,1718.0 1765.0,1740.3 1743.0,1761.4 1721.0,1779.3 1697.0,1795.8 1673.0,1809.5 1647.0,1821.4 1621.0,1830.5 1595.0,1836.6 1569.0,1839.7 1545.0,1839.6 1523.0,1836.8 1501.0,1830.5 1485.0,1823.3 1471.0,1814.4 1458.5,1804.0 1447.4,1792.0 1437.3,1778.0 1428.3,1762.0 1420.7,1744.0 1415.1,1726.0 1410.9,1706.0 1408.5,1686.0 1407.8,1666.0 1408.7,1644.0 1411.2,1622.0 1415.8,1598.0 1421.6,1576.0 1429.0,1554.0 1438.1,1532.0 1447.8,1512.0 1459.0,1492.0 1472.0,1472.0 1485.4,1454.0 1500.5,1436.0 1517.0,1418.9 1533.0,1404.1 1551.0,1389.5 1569.0,1376.7 1589.0,1364.4 1609.0,1353.9 1629.0,1345.2 1649.0,1338.3 1669.0,1333.2 1687.5,1330.0Z"/>
<path fill="#440000" d="M1688.7,1332.0 1713.0,1330.5 1737.0,1332.0 1759.0,1336.4 1780.0,1344.0 1799.0,1354.9 1814.7,1368.0 1828.4,1384.0 1839.7,1402.0 1849.4,1424.0 1856.5,1448.0 1861.0,1474.0 1862.6,1502.0 1861.3,1530.0 1857.1,1560.0 1849.9,1590.0 1840.6,1618.0 1829.6,1644.0 1816.0,1670.0 1800.8,1694.0 1782.8,1718.0 1763.1,1740.0 1742.1,1760.0 1719.0,1778.7 1695.0,1795.0 1671.0,1808.5 1645.0,1820.2 1619.0,1829.0 1593.0,1834.8 1569.0,1837.5 1545.0,1837.4 1523.0,1834.4 1501.0,1828.0 1487.0,1821.7 1473.0,1813.0 1459.8,1802.0 1448.8,1790.0 1438.8,1776.0 1429.9,1760.0 1422.3,1742.0 1416.8,1724.0 1412.7,1704.0 1410.4,1684.0 1409.8,1664.0 1410.7,1642.0 1413.4,1620.0 1417.6,1598.0 1424.0,1574.0 1431.6,1552.0 1440.7,1530.0 1450.6,1510.0 1462.1,1490.0 1473.9,1472.0 1487.4,1454.0 1502.7,1436.0 1518.2,1420.0 1535.0,1404.6 1553.0,1390.1 1571.0,1377.5 1591.0,1365.3 1611.0,1355.0 1631.0,1346.5 1651.0,1339.8 1669.0,1335.3 1688.7,1332.0Z"/>
<path fill="#460000" d="M1690.1,1334.0 1715.0,1332.7 1737.0,1334.3 1759.0,1338.8 1779.0,1346.1 1797.0,1356.4 1813.0,1369.6 1827.0,1385.9 1838.2,1404.0 1847.8,1426.0 1854.8,1450.0 1859.1,1476.0 1860.6,1504.0 1859.3,1532.0 1855.3,1560.0 1848.2,1590.0 1838.9,1618.0 1827.8,1644.0 1814.2,1670.0 1799.0,1694.0 1781.0,1717.7 1761.0,1740.0 1741.0,1758.9 1719.0,1776.6 1695.0,1792.9 1671.0,1806.4 1645.0,1818.1 1619.0,1826.9 1595.0,1832.4 1571.0,1835.3 1547.0,1835.3 1525.0,1832.5 1503.0,1826.3 1488.9,1820.0 1475.0,1811.5 1461.1,1800.0 1450.2,1788.0 1440.2,1774.0 1431.4,1758.0 1424.0,1740.0 1418.6,1722.0 1414.5,1702.0 1412.3,1682.0 1411.8,1662.0 1412.8,1640.0 1415.6,1618.0 1419.9,1596.0 1425.8,1574.0 1433.3,1552.0 1442.5,1530.0 1452.4,1510.0 1463.9,1490.0 1475.8,1472.0 1489.4,1454.0 1504.8,1436.0 1520.5,1420.0 1537.0,1405.0 1555.0,1390.7 1573.4,1378.0 1593.0,1366.3 1613.0,1356.2 1632.7,1348.0 1651.0,1341.9 1671.0,1337.0 1690.1,1334.0Z"/>
<path fill="#480000" d="M1691.8,1336.0 1715.0,1334.9 1739.0,1336.9 1761.0,1341.8 1781.0,1349.7 1798.0,1360.0 1813.0,1372.9 1825.6,1388.0 1837.0,1406.7 1846.2,1428.0 1853.0,1452.0 1857.3,1478.0 1858.7,1506.0 1857.2,1534.0 1853.1,1562.0 1845.8,1592.0 1836.4,1620.0 1825.1,1646.0 1811.2,1672.0 1795.7,1696.0 1779.0,1717.7 1759.0,1739.8 1739.0,1758.5 1717.0,1776.0 1693.0,1792.1 1669.0,1805.4 1643.0,1816.8 1617.0,1825.4 1593.0,1830.6 1569.0,1833.2 1545.0,1832.9 1523.0,1829.7 1503.0,1823.8 1489.0,1817.4 1475.0,1808.6 1462.5,1798.0 1451.6,1786.0 1441.7,1772.0 1433.0,1756.0 1425.7,1738.0 1420.3,1720.0 1416.4,1700.0 1414.3,1680.0 1413.7,1660.0 1414.9,1638.0 1417.7,1616.0 1422.2,1594.0 1428.2,1572.0 1435.9,1550.0 1444.3,1530.0 1454.2,1510.0 1465.8,1490.0 1477.7,1472.0 1491.4,1454.0 1507.0,1436.0 1522.8,1420.0 1539.0,1405.5 1557.0,1391.4 1575.0,1379.0 1593.6,1368.0 1613.5,1358.0 1633.0,1350.0 1653.0,1343.5 1673.0,1338.8 1691.8,1336.0Z"/>
<path fill="#4a0000" d="M1693.9,1338.0 1719.0,1337.3 1741.0,1339.5 1761.0,1344.2 1781.0,1352.4 1797.0,1362.2 1812.7,1376.0 1825.6,1392.0 1836.1,1410.0 1845.2,1432.0 1851.7,1456.0 1855.6,1482.0 1856.7,1510.0 1854.9,1538.0 1850.5,1566.0 1843.5,1594.0 1833.9,1622.0 1822.5,1648.0 1809.5,1672.0 1793.9,1696.0 1776.8,1718.0 1757.0,1739.6 1737.0,1758.1 1715.0,1775.4 1691.0,1791.3 1667.0,1804.3 1643.0,1814.8 1617.0,1823.2 1593.0,1828.4 1569.0,1831.0 1545.0,1830.7 1523.0,1827.4 1503.0,1821.3 1489.0,1814.7 1475.0,1805.6 1463.0,1795.2 1451.4,1782.0 1442.0,1768.0 1433.7,1752.0 1427.0,1735.0 1421.6,1716.0 1418.0,1696.0 1416.1,1676.0 1415.8,1656.0 1417.2,1634.0 1420.3,1612.0 1425.0,1590.0 1431.0,1568.8 1438.4,1548.0 1447.0,1528.0 1457.1,1508.0 1468.9,1488.0 1481.1,1470.0 1495.0,1452.1 1509.2,1436.0 1525.1,1420.0 1543.0,1404.3 1561.0,1390.6 1579.0,1378.6 1597.5,1368.0 1617.0,1358.5 1635.0,1351.3 1655.0,1345.0 1675.0,1340.6 1693.9,1338.0Z"/>
<path fill="#4c0000" d="M1696.9,1340.0 1721.0,1339.7 1743.0,1342.2 1764.8,1348.0 1782.8,1356.0 1799.0,1366.7 1813.0,1379.8 1825.5,1396.0 1835.5,1414.0 1844.2,1436.0 1850.3,1460.0 1853.9,1486.0 1854.6,1514.0 1852.6,1542.0 1847.9,1570.0 1840.6,1598.0 1830.6,1626.0 1818.7,1652.0 1805.3,1676.0 1790.6,1698.0 1773.1,1720.0 1754.4,1740.0 1733.0,1759.4 1711.0,1776.2 1689.0,1790.4 1665.0,1803.2 1639.4,1814.0 1615.0,1821.6 1591.0,1826.6 1567.0,1828.9 1543.0,1828.2 1523.0,1825.0 1503.0,1818.7 1489.0,1812.0 1475.0,1802.6 1463.2,1792.0 1452.9,1780.0 1443.0,1765.0 1435.0,1749.2 1428.4,1732.0 1423.0,1712.0 1419.6,1692.0 1418.0,1672.0 1417.9,1652.0 1419.6,1630.0 1422.9,1608.0 1427.3,1588.0 1433.7,1566.0 1441.8,1544.0 1450.7,1524.0 1461.1,1504.0 1473.0,1484.5 1485.0,1467.3 1498.8,1450.0 1513.2,1434.0 1529.7,1418.0 1547.0,1403.3 1565.0,1389.9 1583.0,1378.3 1601.5,1368.0 1621.0,1358.9 1639.2,1352.0 1659.0,1346.2 1679.0,1342.1 1696.9,1340.0Z"/>
<path fill="#4f0000" d="M1701.8,1342.0 1725.0,1342.3 1747.0,1345.5 1767.0,1351.4 1785.0,1360.0 1801.0,1371.5 1813.5,1384.0 1825.3,1400.0 1835.7,1420.0 1843.7,1442.0 1849.2,1466.0 1852.2,1492.0 1852.5,1520.0 1849.9,1548.0 1844.7,1576.0 1836.9,1604.0 1827.2,1630.0 1816.0,1654.0 1802.3,1678.0 1787.0,1700.3 1769.3,1722.0 1751.0,1741.1 1731.0,1758.9 1709.0,1775.5 1686.1,1790.0 1663.0,1802.1 1639.0,1812.0 1613.0,1820.0 1589.0,1824.6 1565.0,1826.6 1543.0,1825.9 1521.0,1822.1 1503.0,1816.2 1489.0,1809.2 1475.6,1800.0 1463.0,1788.3 1453.0,1776.1 1444.0,1762.0 1436.2,1746.0 1429.6,1728.0 1424.9,1710.0 1421.6,1690.0 1420.0,1670.0 1420.0,1650.0 1421.7,1628.0 1425.1,1606.0 1430.2,1584.0 1436.9,1562.0 1445.2,1540.0 1454.4,1520.0 1465.0,1500.4 1476.5,1482.0 1489.0,1464.6 1503.0,1447.5 1517.4,1432.0 1533.0,1417.2 1551.0,1402.3 1569.0,1389.3 1587.0,1378.0 1605.8,1368.0 1625.0,1359.4 1645.0,1352.3 1663.0,1347.4 1683.0,1343.7 1701.8,1342.0Z"/>
<path fill="#510000" d="M1683.3,1346.0 1707.0,1344.2 1731.0,1345.3 1751.0,1348.9 1771.0,1355.7 1787.0,1364.1 1803.0,1376.5 1815.3,1390.0 1827.2,1408.0 1836.5,1428.0 1844.0,1452.0 1848.7,1478.0 1850.6,1504.0 1849.7,1532.0 1846.1,1560.0 1839.9,1588.0 1831.0,1616.0 1820.1,1642.0 1807.7,1666.0 1793.0,1689.3 1777.0,1710.6 1759.0,1730.9 1739.0,1750.0 1717.0,1767.7 1695.0,1782.6 1671.0,1796.1 1647.0,1806.8 1621.0,1815.6 1597.0,1821.1 1573.0,1824.0 1551.0,1824.1 1529.0,1821.4 1509.0,1815.9 1495.0,1809.7 1481.0,1801.0 1469.0,1790.9 1459.1,1780.0 1449.2,1766.0 1441.5,1752.0 1434.8,1736.0 1429.2,1718.0 1425.3,1700.0 1422.8,1680.0 1421.9,1660.0 1422.8,1638.0 1425.0,1618.0 1429.1,1596.0 1434.8,1574.0 1441.5,1554.0 1449.6,1534.0 1459.0,1514.6 1469.5,1496.0 1481.0,1478.3 1493.1,1462.0 1507.0,1445.4 1521.0,1430.7 1537.0,1415.9 1553.0,1402.9 1571.0,1390.1 1590.8,1378.0 1609.0,1368.6 1627.0,1360.8 1647.0,1353.9 1665.0,1349.2 1683.3,1346.0Z"/>
<path fill="#530000" d="M1685.7,1348.0 1709.0,1346.5 1731.0,1347.7 1751.0,1351.4 1771.0,1358.4 1788.4,1368.0 1803.0,1379.9 1815.3,1394.0 1826.6,1412.0 1836.2,1434.0 1843.1,1458.0 1847.2,1484.0 1848.6,1510.0 1847.2,1538.0 1843.2,1566.0 1837.0,1592.1 1827.7,1620.0 1817.4,1644.0 1804.7,1668.0 1790.7,1690.0 1773.9,1712.0 1755.7,1732.0 1736.5,1750.0 1715.0,1767.1 1693.0,1781.7 1669.0,1794.9 1645.0,1805.4 1621.0,1813.4 1597.0,1818.9 1573.0,1821.7 1549.0,1821.6 1529.0,1819.0 1509.0,1813.3 1495.0,1806.9 1483.0,1799.4 1471.0,1789.4 1460.7,1778.0 1451.0,1764.2 1443.0,1749.4 1435.9,1732.0 1430.5,1714.0 1426.9,1696.0 1424.7,1676.0 1424.0,1656.0 1425.1,1634.0 1427.6,1614.0 1431.9,1592.0 1437.9,1570.0 1444.9,1550.0 1453.3,1530.0 1462.2,1512.0 1473.0,1493.4 1484.6,1476.0 1497.0,1459.6 1511.0,1443.4 1525.0,1429.2 1541.0,1414.8 1557.0,1402.1 1575.0,1389.7 1593.0,1379.0 1611.0,1369.9 1629.0,1362.3 1649.0,1355.6 1667.0,1351.1 1685.7,1348.0Z"/>
<path fill="#550000" d="M1688.5,1350.0 1713.0,1348.9 1735.0,1350.7 1755.0,1355.1 1773.0,1362.0 1789.0,1371.5 1803.0,1383.4 1815.2,1398.0 1826.0,1416.0 1835.0,1437.6 1841.2,1460.0 1845.3,1486.0 1846.5,1512.0 1845.1,1540.0 1840.9,1568.0 1834.0,1596.0 1825.2,1622.0 1814.7,1646.0 1801.7,1670.0 1787.3,1692.0 1771.0,1713.0 1753.0,1732.5 1734.0,1750.0 1713.0,1766.4 1691.0,1780.8 1667.0,1793.7 1643.0,1804.0 1619.0,1811.8 1595.0,1817.0 1571.0,1819.5 1549.0,1819.3 1529.0,1816.5 1509.0,1810.6 1495.0,1804.1 1482.6,1796.0 1471.0,1785.8 1460.7,1774.0 1451.3,1760.0 1443.2,1744.0 1437.0,1728.0 1432.0,1710.0 1428.6,1692.0 1426.6,1672.0 1426.2,1652.0 1427.3,1632.0 1429.9,1612.0 1434.3,1590.0 1440.4,1568.0 1447.5,1548.0 1456.1,1528.0 1465.2,1510.0 1475.8,1492.0 1488.0,1474.0 1501.0,1457.3 1514.6,1442.0 1529.0,1427.7 1545.0,1413.7 1561.0,1401.4 1579.0,1389.4 1597.0,1379.0 1615.0,1370.3 1633.0,1363.0 1651.0,1357.3 1669.0,1353.0 1688.5,1350.0Z"/>
<path fill="#570000" d="M1692.0,1352.0 1715.0,1351.3 1737.0,1353.5 1757.0,1358.3 1775.0,1365.8 1790.9,1376.0 1804.0,1388.0 1815.0,1402.0 1825.3,1420.0 1834.0,1442.0 1840.1,1466.0 1843.6,1492.0 1844.4,1518.0 1842.7,1544.0 1838.2,1572.0 1831.0,1600.0 1821.8,1626.0 1810.9,1650.0 1798.7,1672.0 1784.0,1694.0 1767.0,1715.2 1749.0,1734.1 1729.0,1752.0 1709.0,1767.1 1687.0,1781.0 1665.0,1792.6 1641.0,1802.6 1617.0,1810.1 1593.0,1815.0 1569.0,1817.3 1547.0,1816.7 1527.0,1813.6 1509.0,1808.0 1495.0,1801.2 1483.0,1793.1 1472.7,1784.0 1462.3,1772.0 1453.0,1758.0 1445.0,1742.1 1438.9,1726.0 1433.9,1708.0 1430.6,1690.0 1428.6,1670.0 1428.3,1650.0 1429.5,1630.0 1432.5,1608.0 1436.7,1588.0 1442.9,1566.0 1450.1,1546.0 1458.9,1526.0 1468.2,1508.0 1479.0,1490.0 1491.0,1472.7 1504.3,1456.0 1518.8,1440.0 1533.0,1426.3 1549.0,1412.7 1565.0,1400.8 1583.0,1389.1 1601.0,1379.1 1619.0,1370.7 1637.0,1363.8 1655.0,1358.4 1673.0,1354.5 1692.0,1352.0Z"/>
<path fill="#590000" d="M1697.0,1354.0 1719.0,1353.9 1741.0,1356.7 1760.1,1362.0 1777.0,1369.8 1791.0,1379.3 1804.2,1392.0 1815.0,1406.4 1825.0,1425.0 1832.8,1446.0 1838.6,1470.0 1841.8,1496.0 1842.3,1522.0 1840.3,1548.0 1835.5,1576.0 1828.6,1602.0 1819.2,1628.0 1808.1,1652.0 1795.6,1674.0 1781.0,1695.4 1765.0,1715.1 1747.0,1733.8 1727.0,1751.4 1707.0,1766.3 1685.0,1780.0 1663.0,1791.3 1639.0,1801.1 1615.0,1808.3 1591.0,1813.0 1569.0,1814.9 1547.0,1814.3 1527.0,1811.1 1509.0,1805.3 1495.0,1798.3 1483.1,1790.0 1472.3,1780.0 1462.4,1768.0 1453.6,1754.0 1445.9,1738.0 1440.1,1722.0 1435.4,1704.0 1432.4,1686.0 1430.6,1666.0 1430.5,1646.0 1432.2,1624.0 1435.2,1604.0 1440.1,1582.0 1446.1,1562.0 1453.6,1542.0 1462.7,1522.0 1472.3,1504.0 1483.0,1486.9 1495.0,1470.1 1508.2,1454.0 1523.0,1438.1 1537.0,1425.0 1553.0,1411.8 1569.0,1400.2 1587.0,1388.9 1605.0,1379.3 1623.0,1371.3 1643.0,1364.1 1661.0,1359.3 1679.0,1355.9 1697.0,1354.0Z"/>
<path fill="#5b0000" d="M1680.6,1358.0 1705.0,1356.1 1727.0,1357.1 1747.0,1360.6 1765.0,1366.6 1781.0,1375.1 1795.0,1386.1 1807.6,1400.0 1817.9,1416.0 1827.0,1436.1 1834.2,1460.0 1838.4,1484.0 1840.3,1510.0 1839.5,1536.0 1836.0,1564.0 1829.7,1592.0 1821.4,1618.0 1811.3,1642.0 1799.8,1664.0 1785.8,1686.0 1770.7,1706.0 1753.0,1725.6 1735.0,1742.6 1715.0,1758.5 1693.0,1773.2 1671.0,1785.3 1647.0,1795.9 1623.0,1804.0 1599.0,1809.4 1575.0,1812.3 1553.0,1812.4 1533.0,1809.9 1513.0,1804.2 1499.0,1797.7 1487.2,1790.0 1477.0,1781.2 1467.1,1770.0 1457.6,1756.0 1450.3,1742.0 1444.0,1726.0 1439.0,1709.0 1435.2,1690.0 1433.2,1672.0 1432.6,1652.0 1433.4,1632.0 1435.8,1612.0 1439.6,1592.0 1444.8,1572.0 1451.5,1552.0 1458.9,1534.0 1467.6,1516.0 1477.8,1498.0 1489.0,1481.0 1501.0,1465.1 1513.9,1450.0 1527.6,1436.0 1543.0,1422.1 1559.0,1409.5 1575.0,1398.4 1591.0,1388.9 1609.0,1379.6 1627.0,1372.0 1645.0,1365.8 1663.0,1361.1 1680.6,1358.0Z"/>
<path fill="#5d0000" d="M1683.9,1360.0 1707.0,1358.5 1729.0,1359.8 1749.0,1363.8 1766.3,1370.0 1781.0,1378.2 1795.4,1390.0 1807.4,1404.0 1817.2,1420.0 1825.9,1440.0 1832.7,1464.0 1836.6,1488.0 1838.2,1514.0 1837.0,1542.0 1833.4,1568.0 1827.4,1594.0 1818.8,1620.0 1808.5,1644.0 1797.0,1665.6 1783.9,1686.0 1768.6,1706.0 1751.0,1725.4 1733.0,1742.1 1713.0,1757.8 1691.0,1772.3 1669.0,1784.2 1645.0,1794.5 1621.0,1802.2 1597.0,1807.4 1575.0,1809.9 1553.0,1809.9 1533.0,1807.3 1514.3,1802.0 1501.0,1795.9 1489.0,1788.1 1479.0,1779.5 1468.7,1768.0 1459.3,1754.0 1452.2,1740.0 1445.9,1724.0 1441.0,1706.9 1437.3,1688.0 1435.4,1670.0 1434.8,1650.0 1435.7,1630.0 1438.1,1610.0 1442.0,1590.0 1447.3,1570.0 1454.1,1550.0 1461.6,1532.0 1470.6,1514.0 1481.0,1496.0 1491.7,1480.0 1504.0,1464.0 1517.0,1449.1 1531.0,1435.1 1545.8,1422.0 1561.3,1410.0 1579.0,1398.1 1596.7,1388.0 1613.0,1380.1 1631.0,1372.8 1649.0,1367.0 1667.0,1362.7 1683.9,1360.0Z"/>
<path fill="#5f0000" d="M1688.3,1362.0 1711.0,1361.1 1733.0,1363.0 1751.0,1367.0 1768.7,1374.0 1783.0,1382.8 1797.0,1395.3 1808.5,1410.0 1817.4,1426.0 1825.3,1446.0 1831.5,1470.0 1835.1,1496.0 1836.0,1522.0 1834.4,1548.0 1830.3,1574.0 1823.8,1600.0 1814.7,1626.0 1804.8,1648.0 1792.5,1670.0 1779.0,1690.2 1763.1,1710.0 1746.0,1728.0 1727.0,1744.9 1707.0,1759.9 1687.0,1772.5 1665.0,1783.9 1641.0,1793.7 1619.0,1800.4 1595.0,1805.4 1573.0,1807.6 1551.0,1807.3 1531.0,1804.3 1513.0,1798.7 1501.0,1792.9 1489.0,1784.9 1479.0,1775.9 1469.0,1764.0 1460.0,1750.0 1453.0,1735.5 1446.6,1718.0 1442.0,1700.0 1438.9,1682.0 1437.2,1662.0 1437.1,1642.0 1438.6,1622.0 1441.5,1602.0 1445.9,1582.0 1451.1,1564.0 1458.4,1544.0 1466.3,1526.0 1475.0,1509.4 1485.5,1492.0 1496.7,1476.0 1509.0,1460.6 1522.3,1446.0 1536.9,1432.0 1551.0,1420.1 1567.0,1408.2 1583.0,1397.9 1601.0,1388.0 1618.5,1380.0 1635.0,1373.7 1653.0,1368.3 1671.0,1364.4 1688.3,1362.0Z"/>
<path fill="#610000" d="M1695.4,1364.0 1717.0,1363.9 1737.0,1366.3 1755.0,1371.1 1771.0,1378.2 1785.0,1387.6 1797.7,1400.0 1809.0,1415.6 1817.4,1432.0 1825.2,1454.0 1830.5,1478.0 1833.3,1502.0 1833.7,1528.0 1831.7,1554.0 1827.2,1580.0 1820.1,1606.0 1811.3,1630.0 1800.9,1652.0 1789.0,1672.7 1775.0,1692.9 1759.2,1712.0 1741.6,1730.0 1723.0,1746.0 1703.6,1760.0 1683.9,1772.0 1661.0,1783.4 1639.0,1792.1 1617.0,1798.5 1593.0,1803.2 1571.0,1805.2 1549.0,1804.6 1531.0,1801.7 1513.0,1795.9 1501.0,1789.9 1489.0,1781.5 1479.0,1772.0 1469.3,1760.0 1461.0,1746.3 1454.4,1732.0 1448.1,1714.0 1443.7,1696.0 1440.9,1678.0 1439.4,1658.0 1439.5,1638.0 1441.2,1618.0 1444.3,1598.0 1448.9,1578.0 1455.0,1558.1 1461.9,1540.0 1470.2,1522.0 1479.0,1505.7 1489.0,1489.7 1501.0,1473.1 1513.5,1458.0 1527.0,1443.7 1541.0,1430.7 1557.0,1417.7 1573.0,1406.5 1590.3,1396.0 1607.0,1387.4 1624.3,1380.0 1641.0,1374.2 1659.0,1369.3 1677.0,1365.9 1695.4,1364.0Z"/>
<path fill="#630000" d="M1680.6,1368.0 1703.0,1366.3 1725.0,1367.2 1743.0,1370.3 1761.0,1376.3 1775.5,1384.0 1789.0,1394.7 1800.8,1408.0 1810.7,1424.0 1819.3,1444.0 1826.1,1468.0 1830.0,1492.0 1831.6,1518.0 1830.7,1544.0 1827.2,1570.0 1821.3,1596.0 1812.7,1622.0 1803.1,1644.0 1791.2,1666.0 1778.1,1686.0 1763.0,1705.3 1747.0,1722.5 1729.0,1738.9 1709.0,1754.2 1689.0,1766.9 1667.0,1778.4 1645.0,1787.6 1621.0,1795.1 1597.0,1800.1 1575.0,1802.5 1553.0,1802.3 1535.0,1799.9 1517.0,1794.6 1505.0,1789.0 1493.0,1781.2 1482.7,1772.0 1473.0,1760.5 1465.0,1748.0 1458.1,1734.0 1452.1,1718.0 1447.2,1700.0 1443.9,1682.0 1442.0,1662.0 1441.6,1644.0 1442.7,1624.0 1445.0,1605.8 1448.9,1586.0 1454.3,1566.0 1460.6,1548.0 1468.3,1530.0 1477.0,1512.7 1497.0,1481.2 1508.8,1466.0 1521.0,1452.3 1535.0,1438.4 1549.0,1426.3 1579.0,1405.0 1611.0,1388.0 1627.0,1381.4 1645.0,1375.5 1663.0,1371.0 1680.6,1368.0Z"/>
<path fill="#650000" d="M1685.3,1370.0 1707.0,1368.9 1727.0,1370.1 1746.3,1374.0 1763.0,1380.2 1777.0,1388.4 1790.5,1400.0 1801.7,1414.0 1810.8,1430.0 1818.7,1450.0 1824.8,1474.0 1828.3,1498.0 1829.4,1524.0 1828.0,1550.0 1824.1,1576.0 1817.7,1602.0 1809.3,1626.0 1799.3,1648.0 1788.2,1668.0 1775.0,1687.6 1760.2,1706.0 1745.0,1722.1 1727.0,1738.3 1707.0,1753.3 1687.0,1765.8 1665.0,1777.0 1643.0,1785.9 1619.0,1793.2 1597.0,1797.7 1575.0,1799.9 1553.0,1799.7 1535.0,1797.2 1517.0,1791.7 1505.0,1785.9 1493.4,1778.0 1483.0,1768.3 1474.6,1758.0 1465.9,1744.0 1459.3,1730.0 1453.6,1714.0 1448.9,1696.0 1445.9,1678.0 1444.2,1658.0 1444.0,1640.0 1445.3,1620.0 1448.1,1600.0 1451.9,1582.0 1457.0,1563.9 1464.2,1544.0 1471.2,1528.0 1480.5,1510.0 1490.2,1494.0 1501.0,1478.6 1525.0,1450.6 1539.0,1437.2 1553.0,1425.5 1583.0,1404.9 1599.0,1396.1 1617.0,1387.8 1635.0,1381.0 1651.0,1376.3 1669.0,1372.3 1685.3,1370.0Z"/>
<path fill="#670000" d="M1691.5,1372.0 1711.0,1371.6 1731.0,1373.4 1749.0,1377.6 1765.0,1384.3 1779.0,1393.3 1791.0,1404.5 1801.2,1418.0 1810.7,1436.0 1817.9,1456.0 1823.5,1480.0 1826.5,1504.0 1827.1,1530.0 1825.2,1556.0 1820.9,1582.0 1814.5,1606.0 1805.8,1630.0 1796.4,1650.0 1785.0,1670.0 1771.2,1690.0 1757.0,1707.2 1741.0,1723.6 1723.0,1739.3 1705.0,1752.4 1685.0,1764.6 1663.0,1775.6 1641.0,1784.3 1617.0,1791.3 1595.0,1795.5 1573.0,1797.5 1553.0,1797.1 1535.0,1794.4 1517.0,1788.8 1505.0,1782.7 1493.0,1774.1 1483.0,1764.2 1475.1,1754.0 1467.0,1740.4 1460.5,1726.0 1455.1,1710.0 1450.7,1692.0 1447.9,1674.0 1446.4,1654.0 1446.4,1636.0 1447.9,1616.0 1450.6,1598.0 1455.0,1578.0 1461.0,1558.0 1467.8,1540.0 1475.1,1524.0 1484.8,1506.0 1505.2,1476.0 1517.0,1461.8 1530.2,1448.0 1543.2,1436.0 1558.1,1424.0 1573.0,1413.5 1589.0,1403.8 1605.0,1395.6 1623.0,1387.8 1639.0,1382.2 1657.0,1377.3 1675.0,1373.8 1691.5,1372.0Z"/>
<path fill="#690000" d="M1677.5,1376.0 1699.0,1374.2 1719.0,1374.6 1737.0,1377.2 1755.0,1382.7 1769.5,1390.0 1783.0,1400.3 1795.0,1413.7 1804.0,1428.0 1812.7,1448.0 1819.1,1470.0 1823.2,1494.0 1824.9,1520.0 1824.2,1546.0 1820.8,1572.0 1815.0,1598.0 1807.1,1622.0 1797.5,1644.0 1787.0,1663.6 1775.0,1682.0 1761.0,1700.1 1745.0,1717.4 1727.0,1733.7 1709.0,1747.4 1689.0,1760.1 1667.0,1771.5 1645.0,1780.5 1623.0,1787.4 1599.0,1792.5 1577.0,1794.9 1557.0,1794.9 1539.0,1792.6 1521.0,1787.5 1509.0,1781.8 1497.3,1774.0 1487.0,1764.5 1479.0,1754.8 1470.9,1742.0 1464.1,1728.0 1458.4,1712.0 1454.1,1696.0 1450.9,1678.0 1449.0,1660.0 1448.5,1642.0 1449.5,1622.0 1452.0,1602.0 1455.6,1584.0 1460.4,1566.0 1466.6,1548.0 1481.2,1516.0 1499.9,1486.0 1511.0,1471.6 1523.0,1457.9 1549.0,1433.6 1563.0,1422.8 1579.0,1412.1 1595.0,1402.9 1611.0,1395.2 1643.0,1383.4 1661.0,1378.9 1677.5,1376.0Z"/>
<path fill="#6b0000" d="M1681.6,1378.0 1703.0,1376.6 1723.0,1377.6 1741.0,1380.9 1757.0,1386.4 1771.0,1394.2 1785.0,1406.0 1795.0,1418.2 1804.2,1434.0 1812.1,1454.0 1817.9,1476.0 1821.5,1500.0 1822.8,1526.0 1821.5,1552.0 1818.1,1576.0 1811.9,1602.0 1803.6,1626.0 1794.7,1646.0 1783.6,1666.0 1771.0,1684.7 1757.0,1702.1 1741.9,1718.0 1725.0,1733.0 1707.0,1746.5 1687.0,1759.0 1665.0,1770.1 1643.0,1778.9 1621.0,1785.5 1599.0,1790.0 1577.0,1792.4 1557.0,1792.3 1539.0,1789.9 1521.0,1784.6 1509.0,1778.7 1499.0,1771.9 1489.0,1762.7 1480.3,1752.0 1472.8,1740.0 1466.2,1726.0 1460.4,1710.0 1456.3,1694.0 1453.1,1676.0 1451.3,1658.0 1450.8,1640.0 1451.9,1620.0 1454.4,1600.0 1458.1,1582.0 1463.0,1564.0 1469.4,1546.0 1484.4,1514.0 1503.6,1484.0 1514.6,1470.0 1527.0,1456.3 1553.0,1432.7 1567.0,1422.3 1583.0,1412.0 1599.0,1403.2 1615.0,1395.8 1631.0,1389.7 1649.0,1384.2 1681.6,1378.0Z"/>
<path fill="#6d0000" d="M1686.9,1380.0 1707.0,1379.2 1727.0,1380.8 1743.0,1384.2 1759.0,1390.4 1773.0,1399.0 1785.0,1409.9 1795.0,1422.9 1803.2,1438.0 1810.8,1458.0 1816.6,1482.0 1819.7,1506.0 1820.6,1532.0 1818.9,1558.0 1815.0,1582.0 1808.8,1606.0 1800.1,1630.0 1790.7,1650.0 1780.4,1668.0 1767.9,1686.0 1753.0,1704.1 1737.3,1720.0 1721.0,1733.9 1703.0,1747.0 1683.0,1759.0 1661.0,1769.6 1639.0,1777.9 1617.0,1784.1 1595.0,1788.2 1575.0,1790.0 1555.0,1789.6 1537.0,1786.8 1521.0,1781.7 1509.0,1775.5 1499.0,1768.4 1489.0,1758.7 1480.8,1748.0 1473.7,1736.0 1467.0,1721.1 1461.9,1706.0 1457.6,1688.0 1454.8,1670.0 1453.4,1652.0 1453.2,1634.0 1454.6,1614.0 1457.2,1596.0 1461.1,1578.0 1466.3,1560.0 1473.0,1542.0 1488.7,1510.0 1498.7,1494.0 1508.8,1480.0 1531.8,1454.0 1545.0,1441.8 1559.0,1430.5 1573.0,1420.6 1589.0,1410.9 1605.0,1402.6 1621.0,1395.7 1653.0,1385.6 1671.0,1382.0 1686.9,1380.0Z"/>
<path fill="#6f0000" d="M1695.6,1382.0 1715.0,1382.2 1733.0,1384.5 1749.0,1389.0 1763.0,1395.6 1775.0,1404.0 1786.7,1416.0 1796.2,1430.0 1803.9,1446.0 1810.5,1466.0 1815.5,1490.0 1818.0,1514.0 1818.2,1540.0 1816.1,1564.0 1811.7,1588.0 1805.0,1612.0 1796.5,1634.0 1786.6,1654.0 1775.8,1672.0 1763.0,1689.7 1749.0,1705.9 1733.0,1721.6 1717.0,1734.8 1699.0,1747.3 1681.0,1757.8 1659.0,1768.2 1637.0,1776.2 1615.0,1782.2 1593.1,1786.0 1573.0,1787.6 1553.0,1786.8 1536.6,1784.0 1521.0,1778.7 1509.0,1772.3 1499.0,1764.8 1489.0,1754.5 1481.4,1744.0 1473.7,1730.0 1467.9,1716.0 1463.0,1700.0 1459.1,1682.0 1456.6,1664.0 1455.5,1646.0 1455.7,1628.0 1457.5,1608.0 1460.4,1590.0 1464.7,1572.0 1470.3,1554.0 1477.5,1536.0 1485.2,1520.0 1494.3,1504.0 1514.2,1476.0 1526.5,1462.0 1538.6,1450.0 1565.6,1428.0 1595.0,1410.0 1611.0,1402.3 1627.0,1395.9 1645.0,1390.2 1661.0,1386.4 1679.0,1383.4 1695.6,1382.0Z"/>
<path fill="#710000" d="M1679.0,1386.0 1699.0,1384.5 1719.0,1385.2 1737.0,1388.2 1753.0,1393.6 1767.0,1401.3 1777.6,1410.0 1788.0,1422.0 1797.0,1436.9 1804.9,1456.0 1810.9,1478.0 1814.7,1502.0 1816.3,1528.0 1815.4,1552.0 1812.2,1576.0 1806.8,1600.0 1798.8,1624.0 1789.9,1644.0 1780.1,1662.0 1768.2,1680.0 1753.9,1698.0 1739.0,1713.6 1723.0,1727.8 1705.0,1741.2 1687.0,1752.3 1667.0,1762.4 1645.0,1771.2 1623.0,1777.9 1601.0,1782.4 1579.0,1784.8 1559.0,1784.8 1541.0,1782.3 1525.0,1777.5 1513.0,1771.6 1503.0,1764.6 1494.0,1756.0 1486.0,1746.0 1478.7,1734.0 1472.3,1720.0 1467.0,1704.6 1463.0,1688.8 1459.8,1670.0 1458.2,1652.0 1457.8,1634.0 1458.8,1616.0 1461.0,1598.0 1464.6,1580.0 1469.6,1562.0 1475.3,1546.0 1482.2,1530.0 1490.4,1514.0 1508.6,1486.0 1530.9,1460.0 1555.3,1438.0 1583.0,1419.0 1613.0,1403.8 1645.0,1392.7 1663.0,1388.5 1679.0,1386.0Z"/>
<path fill="#730000" d="M1684.9,1388.0 1705.0,1387.1 1723.0,1388.3 1740.7,1392.0 1755.0,1397.5 1767.0,1404.7 1779.0,1415.3 1788.9,1428.0 1797.0,1442.9 1804.2,1462.0 1809.6,1484.0 1813.0,1508.0 1814.1,1534.0 1812.8,1558.0 1809.2,1582.0 1803.1,1606.0 1795.3,1628.0 1786.0,1648.0 1775.7,1666.0 1763.2,1684.0 1749.9,1700.0 1735.0,1715.1 1719.0,1728.8 1701.0,1741.6 1683.0,1752.3 1663.0,1761.9 1641.0,1770.3 1619.0,1776.4 1597.0,1780.5 1577.0,1782.4 1557.0,1782.0 1541.0,1779.6 1525.0,1774.5 1515.0,1769.5 1504.3,1762.0 1495.0,1753.0 1487.0,1742.6 1479.7,1730.0 1473.6,1716.0 1468.5,1700.0 1464.7,1684.0 1461.9,1666.0 1460.4,1648.0 1460.2,1630.0 1461.4,1612.0 1463.8,1594.0 1467.7,1576.0 1472.9,1558.0 1478.9,1542.0 1493.6,1512.0 1513.0,1483.1 1535.0,1458.4 1561.0,1436.0 1589.0,1417.9 1619.0,1403.8 1651.0,1393.7 1669.0,1390.1 1684.9,1388.0Z"/>
<path fill="#750000" d="M1695.1,1390.0 1713.0,1390.1 1731.0,1392.4 1747.0,1397.1 1761.0,1404.0 1773.0,1413.2 1782.8,1424.0 1791.0,1436.8 1798.0,1452.0 1804.4,1472.0 1809.1,1496.0 1811.5,1520.0 1811.6,1544.0 1809.5,1568.0 1805.5,1590.0 1799.4,1612.0 1790.9,1634.0 1782.0,1652.0 1771.1,1670.0 1759.0,1686.7 1745.0,1702.8 1731.0,1716.4 1714.4,1730.0 1697.0,1742.0 1679.0,1752.1 1659.0,1761.3 1639.0,1768.5 1617.0,1774.4 1595.0,1778.2 1575.0,1779.9 1557.0,1779.3 1539.0,1776.3 1525.0,1771.5 1514.6,1766.0 1503.9,1758.0 1495.0,1748.7 1487.3,1738.0 1480.8,1726.0 1475.0,1711.7 1470.2,1696.0 1466.3,1678.0 1463.8,1660.0 1462.7,1642.0 1462.8,1624.0 1464.2,1606.0 1467.1,1588.0 1471.3,1570.0 1477.0,1552.0 1483.4,1536.0 1499.2,1506.0 1519.0,1478.5 1531.0,1465.0 1543.0,1453.3 1569.0,1432.7 1597.1,1416.0 1613.0,1408.7 1629.0,1402.6 1661.8,1394.0 1679.0,1391.3 1695.1,1390.0Z"/>
<path fill="#770000" d="M1679.8,1394.0 1701.0,1392.6 1719.0,1393.4 1735.0,1396.2 1749.0,1400.9 1761.9,1408.0 1773.9,1418.0 1783.7,1430.0 1791.7,1444.0 1799.0,1462.6 1804.9,1486.0 1808.4,1510.0 1809.6,1534.0 1808.6,1558.0 1805.3,1582.0 1800.0,1604.0 1792.4,1626.0 1784.3,1644.0 1774.3,1662.0 1762.1,1680.0 1749.0,1696.0 1735.0,1710.4 1719.0,1724.3 1703.0,1735.9 1685.0,1746.7 1665.0,1756.5 1645.0,1764.1 1623.0,1770.5 1601.0,1774.8 1581.0,1777.0 1561.0,1777.0 1545.0,1774.9 1529.0,1770.2 1519.0,1765.3 1508.3,1758.0 1499.9,1750.0 1492.0,1740.0 1485.0,1728.0 1479.0,1714.4 1474.2,1700.0 1470.3,1684.0 1467.2,1666.0 1465.5,1648.0 1465.0,1630.0 1465.9,1612.0 1468.1,1594.0 1471.3,1578.0 1476.3,1560.0 1482.1,1544.0 1496.5,1514.0 1515.0,1486.3 1536.5,1462.0 1561.0,1440.8 1587.0,1423.8 1617.0,1409.6 1647.0,1400.0 1679.8,1394.0Z"/>
<path fill="#790000" d="M1689.1,1396.0 1709.0,1395.6 1725.0,1397.1 1739.0,1400.3 1753.0,1406.0 1765.0,1413.8 1775.6,1424.0 1785.0,1437.3 1792.3,1452.0 1799.0,1472.0 1803.7,1494.0 1806.7,1520.0 1807.2,1544.0 1805.5,1568.0 1801.6,1590.0 1795.6,1612.0 1788.0,1632.0 1779.3,1650.0 1769.0,1667.3 1757.0,1683.9 1744.9,1698.0 1731.0,1711.8 1715.0,1725.1 1699.0,1736.2 1681.0,1746.6 1661.0,1755.8 1641.0,1763.0 1619.0,1768.8 1597.0,1772.7 1577.0,1774.5 1559.0,1774.1 1543.0,1771.6 1529.0,1767.0 1519.0,1762.0 1509.0,1754.7 1500.3,1746.0 1492.9,1736.0 1486.2,1724.0 1481.0,1711.5 1476.1,1696.0 1472.1,1678.0 1469.3,1660.0 1467.8,1642.0 1467.6,1624.0 1468.8,1606.0 1471.0,1590.0 1474.9,1572.0 1480.4,1554.0 1486.6,1538.0 1501.0,1509.9 1510.1,1496.0 1520.7,1482.0 1543.0,1458.3 1567.0,1438.9 1594.9,1422.0 1623.0,1409.9 1655.0,1400.9 1689.1,1396.0Z"/>
<path fill="#7b0000" d="M1678.3,1400.0 1699.0,1398.5 1717.0,1399.1 1733.0,1401.7 1745.9,1406.0 1759.0,1413.1 1769.0,1421.3 1778.2,1432.0 1786.5,1446.0 1793.8,1464.0 1799.5,1486.0 1803.3,1510.0 1805.0,1536.0 1804.2,1560.0 1801.3,1582.0 1796.1,1604.0 1788.6,1626.0 1780.5,1644.0 1770.4,1662.0 1759.4,1678.0 1747.0,1693.2 1733.0,1707.6 1718.6,1720.0 1703.0,1731.4 1685.0,1742.2 1665.0,1751.7 1645.0,1759.2 1623.0,1765.3 1601.0,1769.4 1579.0,1771.6 1561.0,1771.4 1545.0,1769.1 1531.0,1764.7 1521.0,1759.7 1511.0,1752.5 1503.0,1744.5 1496.5,1736.0 1489.6,1724.0 1484.4,1712.0 1479.8,1698.0 1475.4,1680.0 1472.5,1662.0 1470.7,1644.0 1470.2,1626.0 1471.0,1608.0 1473.0,1591.6 1476.6,1574.0 1481.1,1558.0 1487.0,1542.0 1500.7,1514.0 1518.2,1488.0 1539.0,1464.7 1563.0,1444.2 1588.4,1428.0 1615.0,1415.6 1645.0,1406.1 1678.3,1400.0Z"/>
<path fill="#7d0000" d="M1687.5,1402.0 1707.0,1401.5 1723.0,1402.9 1737.0,1406.0 1751.0,1411.8 1761.0,1418.3 1771.2,1428.0 1779.9,1440.0 1787.0,1454.0 1793.8,1474.0 1798.6,1496.0 1801.8,1522.0 1802.6,1546.0 1801.2,1568.0 1797.7,1590.0 1791.8,1612.0 1784.2,1632.0 1775.4,1650.0 1765.8,1666.0 1755.0,1681.0 1742.1,1696.0 1727.8,1710.0 1713.0,1722.0 1697.0,1732.9 1681.0,1741.9 1663.0,1750.1 1641.0,1757.8 1619.0,1763.4 1597.0,1767.2 1579.0,1768.8 1561.0,1768.4 1545.0,1766.0 1531.0,1761.4 1520.9,1756.0 1511.0,1748.3 1503.3,1740.0 1496.4,1730.0 1490.2,1718.0 1484.8,1704.0 1480.2,1688.0 1476.9,1672.0 1474.3,1654.0 1473.0,1636.0 1474.0,1602.0 1476.3,1586.0 1479.8,1570.0 1484.6,1554.0 1491.0,1537.4 1505.2,1510.0 1523.0,1484.9 1545.0,1461.6 1569.0,1442.5 1595.0,1427.1 1623.0,1415.4 1655.0,1406.7 1687.5,1402.0Z"/>
<path fill="#800000" d="M1676.0,1406.0 1695.0,1404.4 1713.0,1404.8 1729.0,1407.1 1743.0,1411.5 1755.0,1417.9 1765.0,1426.0 1773.6,1436.0 1782.0,1450.0 1789.1,1468.0 1794.8,1490.0 1798.5,1514.0 1800.2,1540.0 1799.6,1562.0 1796.8,1584.0 1791.7,1606.0 1784.8,1626.0 1777.0,1643.3 1767.7,1660.0 1757.0,1675.7 1745.0,1690.4 1731.0,1704.7 1717.0,1716.6 1701.0,1728.1 1685.0,1737.4 1667.0,1746.0 1647.0,1753.3 1625.0,1759.4 1603.0,1763.7 1583.0,1765.8 1565.0,1765.8 1549.0,1763.8 1535.0,1759.6 1525.0,1754.7 1515.5,1748.0 1507.4,1740.0 1501.0,1731.5 1494.5,1720.0 1489.3,1708.0 1484.7,1694.0 1480.9,1678.0 1477.8,1660.0 1476.0,1642.0 1476.0,1608.0 1478.0,1590.0 1481.1,1574.0 1485.4,1558.0 1491.0,1542.5 1503.9,1516.0 1521.0,1490.4 1541.0,1468.1 1563.0,1449.3 1587.0,1434.0 1615.0,1421.1 1645.0,1411.7 1676.0,1406.0Z"/>
<path fill="#820200" d="M1683.4,1408.0 1701.0,1407.2 1717.0,1408.1 1731.0,1410.7 1745.0,1415.8 1757.0,1423.2 1766.5,1432.0 1775.0,1443.4 1781.6,1456.0 1788.7,1476.0 1793.7,1498.0 1796.8,1522.0 1797.8,1546.0 1796.8,1568.0 1793.5,1590.0 1788.5,1610.0 1781.0,1630.5 1772.6,1648.0 1763.1,1664.0 1753.0,1678.1 1741.0,1692.2 1729.0,1704.1 1714.8,1716.0 1699.0,1727.0 1683.0,1736.1 1665.0,1744.3 1645.0,1751.4 1623.0,1757.3 1601.0,1761.3 1581.0,1763.1 1563.0,1762.8 1549.0,1760.7 1535.0,1756.2 1525.0,1751.0 1517.0,1745.1 1509.0,1737.0 1502.4,1728.0 1495.8,1716.0 1490.9,1704.0 1486.1,1688.0 1482.5,1672.0 1479.8,1654.0 1478.3,1636.0 1478.0,1618.0 1479.0,1602.0 1481.1,1586.0 1484.4,1570.0 1489.0,1554.0 1495.0,1538.2 1508.5,1512.0 1525.4,1488.0 1546.1,1466.0 1569.0,1447.7 1593.0,1433.5 1621.0,1421.6 1651.0,1413.1 1683.4,1408.0Z"/>
<path fill="#840400" d="M1672.4,1412.0 1691.0,1410.2 1709.0,1410.3 1725.0,1412.4 1739.0,1416.6 1751.0,1422.8 1761.0,1430.7 1769.1,1440.0 1777.0,1452.9 1784.1,1470.0 1789.9,1492.0 1793.7,1516.0 1795.4,1540.0 1795.0,1562.0 1792.5,1584.0 1787.6,1606.0 1781.0,1625.7 1773.7,1642.0 1764.8,1658.0 1755.0,1672.6 1743.0,1687.3 1731.0,1699.7 1717.0,1711.9 1703.0,1722.0 1687.0,1731.5 1669.0,1740.1 1649.0,1747.6 1629.0,1753.3 1607.0,1757.8 1587.0,1760.1 1569.0,1760.4 1553.0,1758.5 1539.0,1754.6 1529.4,1750.0 1521.0,1744.3 1513.0,1736.9 1506.0,1728.0 1500.1,1718.0 1494.7,1706.0 1490.1,1692.0 1486.1,1676.0 1483.0,1658.0 1481.1,1640.0 1480.5,1622.0 1481.1,1606.0 1482.8,1590.0 1485.7,1574.0 1494.9,1544.0 1507.3,1518.0 1523.0,1494.2 1541.0,1473.7 1563.0,1454.8 1587.0,1439.3 1613.0,1427.2 1641.0,1418.2 1672.4,1412.0Z"/>
<path fill="#860600" d="M1678.5,1414.0 1697.0,1412.8 1713.0,1413.5 1727.6,1416.0 1741.0,1420.7 1753.0,1427.9 1762.0,1436.0 1769.7,1446.0 1777.0,1459.3 1783.8,1478.0 1788.9,1500.0 1792.1,1524.0 1793.2,1548.0 1792.1,1570.0 1789.2,1590.0 1784.4,1610.0 1777.2,1630.0 1769.6,1646.0 1761.0,1660.8 1751.0,1674.9 1739.0,1689.1 1727.0,1700.9 1713.0,1712.5 1699.0,1722.0 1683.0,1731.1 1665.0,1739.3 1645.0,1746.4 1625.0,1751.8 1603.0,1755.8 1583.0,1757.7 1567.0,1757.5 1553.0,1755.6 1539.0,1751.3 1529.0,1746.2 1521.0,1740.3 1513.0,1732.2 1507.0,1724.0 1501.0,1713.3 1495.6,1700.0 1487.7,1670.0 1483.5,1636.0 1483.0,1618.0 1483.8,1602.0 1485.8,1586.0 1489.0,1570.0 1493.6,1554.0 1498.8,1540.0 1512.0,1514.0 1527.3,1492.0 1547.0,1470.9 1569.0,1453.1 1593.0,1438.7 1619.0,1427.5 1649.0,1418.9 1678.5,1414.0Z"/>
<path fill="#880800" d="M1686.9,1416.0 1703.0,1415.7 1719.0,1417.2 1731.0,1420.0 1743.0,1425.1 1753.4,1432.0 1763.0,1441.7 1770.1,1452.0 1776.9,1466.0 1782.8,1484.0 1787.4,1506.0 1790.2,1530.0 1790.8,1554.0 1789.3,1576.0 1785.9,1596.0 1780.4,1616.0 1773.4,1634.0 1765.4,1650.0 1756.7,1664.0 1746.2,1678.0 1735.0,1690.6 1723.0,1701.9 1709.0,1712.9 1695.0,1722.1 1679.0,1730.7 1661.0,1738.5 1641.0,1745.2 1621.0,1750.1 1601.0,1753.5 1583.0,1755.0 1567.0,1754.7 1553.0,1752.6 1539.0,1748.1 1529.0,1742.6 1521.0,1736.2 1513.5,1728.0 1507.0,1718.4 1501.0,1706.2 1496.5,1694.0 1489.4,1664.0 1486.9,1646.0 1485.6,1628.0 1486.7,1596.0 1492.3,1566.0 1497.2,1550.0 1502.8,1536.0 1515.6,1512.0 1533.0,1488.4 1553.0,1468.3 1575.0,1451.7 1599.0,1438.4 1627.0,1427.5 1657.0,1419.9 1686.9,1416.0Z"/>
<path fill="#8a0a00" d="M1673.8,1420.0 1693.0,1418.4 1709.0,1418.8 1723.0,1420.9 1735.0,1424.6 1745.4,1430.0 1755.6,1438.0 1764.1,1448.0 1771.2,1460.0 1778.3,1478.0 1783.4,1498.0 1787.1,1522.0 1788.6,1546.0 1787.9,1568.0 1785.4,1588.0 1780.8,1608.0 1773.9,1628.0 1766.5,1644.0 1758.4,1658.0 1748.6,1672.0 1737.0,1685.7 1725.0,1697.5 1712.3,1708.0 1699.0,1717.2 1683.0,1726.3 1665.0,1734.5 1647.0,1741.0 1627.0,1746.3 1605.0,1750.4 1587.0,1752.2 1571.0,1752.3 1557.0,1750.6 1543.0,1746.5 1533.8,1742.0 1525.3,1736.0 1517.3,1728.0 1511.4,1720.0 1505.8,1710.0 1500.8,1698.0 1493.3,1670.0 1488.6,1636.0 1488.4,1604.0 1492.6,1574.0 1496.8,1558.0 1501.7,1544.0 1513.2,1520.0 1527.8,1498.0 1545.5,1478.0 1567.0,1459.8 1589.0,1446.0 1615.0,1434.2 1643.0,1425.7 1673.8,1420.0Z"/>
<path fill="#8c0c00" d="M1680.4,1422.0 1697.0,1421.1 1713.0,1422.1 1725.0,1424.4 1737.0,1428.8 1747.0,1434.7 1757.0,1443.7 1764.7,1454.0 1771.0,1466.0 1777.5,1484.0 1782.4,1506.0 1785.5,1530.0 1786.4,1552.0 1785.4,1572.0 1782.5,1592.0 1777.5,1612.0 1770.9,1630.0 1763.2,1646.0 1755.0,1659.8 1746.2,1672.0 1735.0,1685.1 1723.0,1696.7 1711.0,1706.5 1697.0,1716.1 1681.0,1725.0 1663.0,1733.0 1645.0,1739.2 1625.0,1744.3 1603.0,1748.2 1585.0,1749.7 1569.0,1749.4 1555.0,1747.2 1543.0,1743.3 1533.1,1738.0 1525.4,1732.0 1519.0,1725.3 1512.4,1716.0 1507.2,1706.0 1502.4,1694.0 1494.9,1664.0 1490.8,1630.0 1491.3,1598.0 1496.2,1568.0 1505.6,1540.0 1517.9,1516.0 1533.6,1494.0 1552.8,1474.0 1573.0,1458.2 1595.0,1445.4 1621.0,1434.6 1651.0,1426.5 1680.4,1422.0Z"/>
<path fill="#8e0e00" d="M1692.4,1424.0 1707.0,1424.3 1721.0,1426.4 1733.0,1430.3 1743.6,1436.0 1753.0,1443.8 1761.0,1453.5 1767.1,1464.0 1772.9,1478.0 1777.9,1496.0 1781.8,1518.0 1783.9,1540.0 1784.0,1562.0 1782.1,1582.0 1778.7,1600.0 1773.5,1618.0 1766.2,1636.0 1758.9,1650.0 1749.9,1664.0 1740.6,1676.0 1729.0,1688.5 1717.0,1699.3 1703.0,1709.8 1689.0,1718.4 1675.0,1725.5 1657.0,1732.9 1639.0,1738.5 1619.0,1743.1 1599.0,1746.1 1581.0,1747.1 1567.0,1746.4 1555.0,1744.2 1543.0,1740.0 1533.0,1734.2 1525.6,1728.0 1518.7,1720.0 1513.0,1711.2 1507.7,1700.0 1503.5,1688.0 1496.3,1656.0 1493.1,1622.0 1494.2,1592.0 1496.7,1576.0 1500.1,1562.0 1504.7,1548.0 1510.5,1534.0 1523.0,1511.7 1539.7,1490.0 1559.0,1471.4 1581.0,1455.7 1605.0,1443.3 1631.0,1434.1 1663.0,1427.0 1692.4,1424.0Z"/>
<path fill="#901000" d="M1675.8,1428.0 1693.0,1426.8 1709.0,1427.4 1721.0,1429.4 1733.0,1433.5 1743.0,1439.2 1751.1,1446.0 1759.2,1456.0 1766.0,1468.0 1772.7,1486.0 1777.4,1506.0 1780.8,1530.0 1782.0,1552.0 1781.2,1572.0 1778.4,1592.0 1774.1,1610.0 1767.7,1628.0 1761.2,1642.0 1753.0,1656.0 1743.1,1670.0 1733.0,1681.7 1721.0,1693.4 1709.0,1703.1 1695.0,1712.6 1681.0,1720.3 1665.0,1727.5 1647.0,1733.8 1627.0,1739.0 1607.0,1742.5 1589.0,1744.3 1573.0,1744.2 1559.0,1742.2 1547.0,1738.5 1538.2,1734.0 1530.1,1728.0 1523.0,1720.7 1517.0,1712.1 1507.8,1692.0 1500.5,1664.0 1496.1,1630.0 1496.0,1598.0 1500.3,1570.0 1504.1,1556.0 1509.2,1542.0 1521.0,1518.7 1535.5,1498.0 1553.0,1479.3 1573.0,1463.4 1595.0,1450.5 1619.0,1440.6 1647.0,1432.8 1675.8,1428.0Z"/>
<path fill="#921200" d="M1684.5,1430.0 1701.0,1429.7 1715.0,1431.2 1727.0,1434.3 1737.0,1439.0 1746.7,1446.0 1754.2,1454.0 1760.8,1464.0 1766.5,1476.0 1772.2,1494.0 1776.3,1514.0 1779.0,1536.0 1779.7,1558.0 1778.5,1578.0 1775.6,1596.0 1770.8,1614.0 1763.9,1632.0 1756.9,1646.0 1749.0,1658.8 1739.1,1672.0 1729.0,1683.3 1717.0,1694.4 1705.0,1703.7 1691.0,1712.6 1677.0,1720.0 1661.0,1726.7 1643.0,1732.5 1623.0,1737.3 1603.0,1740.5 1585.0,1741.8 1571.0,1741.2 1559.0,1739.3 1547.0,1735.2 1539.0,1730.9 1531.0,1724.7 1524.8,1718.0 1519.0,1709.6 1514.0,1700.0 1509.5,1688.0 1502.3,1658.0 1498.3,1624.0 1498.7,1594.0 1503.5,1566.0 1507.7,1552.0 1513.2,1538.0 1525.0,1516.0 1541.0,1494.5 1559.0,1476.8 1579.0,1462.1 1601.0,1450.3 1625.0,1441.3 1655.0,1434.0 1684.5,1430.0Z"/>
<path fill="#941400" d="M1672.0,1434.0 1689.0,1432.6 1703.0,1432.7 1717.0,1434.6 1728.0,1438.0 1739.0,1443.8 1747.0,1450.4 1755.0,1460.0 1761.0,1470.4 1767.2,1486.0 1772.3,1506.0 1776.1,1530.0 1777.5,1552.0 1777.0,1572.0 1774.7,1590.0 1770.6,1608.0 1764.5,1626.0 1758.1,1640.0 1750.0,1654.0 1741.0,1666.8 1731.0,1678.5 1719.2,1690.0 1707.0,1699.9 1695.0,1707.9 1681.0,1715.7 1665.0,1722.8 1647.0,1729.0 1629.0,1733.6 1609.0,1737.1 1591.0,1738.9 1577.0,1738.9 1563.0,1737.1 1551.0,1733.6 1543.0,1729.7 1535.0,1724.0 1528.8,1718.0 1522.8,1710.0 1517.3,1700.0 1513.2,1690.0 1506.2,1664.0 1501.4,1630.0 1500.9,1598.0 1504.8,1570.0 1512.9,1544.0 1523.7,1522.0 1537.4,1502.0 1554.0,1484.0 1573.0,1468.6 1594.4,1456.0 1617.0,1446.6 1643.0,1439.2 1672.0,1434.0Z"/>
<path fill="#961600" d="M1678.2,1436.0 1695.0,1435.2 1709.0,1436.2 1721.0,1438.8 1731.0,1442.7 1739.5,1448.0 1748.1,1456.0 1755.0,1465.4 1761.0,1477.2 1766.8,1494.0 1771.3,1514.0 1774.3,1536.0 1775.3,1558.0 1774.3,1578.0 1771.6,1596.0 1766.8,1614.0 1760.8,1630.0 1753.9,1644.0 1746.6,1656.0 1737.7,1668.0 1727.1,1680.0 1717.0,1689.5 1705.0,1699.0 1693.0,1706.9 1679.0,1714.4 1663.0,1721.3 1645.0,1727.1 1627.0,1731.5 1607.0,1734.8 1589.0,1736.3 1575.0,1735.9 1562.5,1734.0 1551.0,1730.2 1543.0,1726.0 1535.2,1720.0 1529.0,1713.3 1523.9,1706.0 1514.8,1686.0 1507.7,1658.0 1503.6,1624.0 1503.6,1594.0 1505.2,1580.0 1508.0,1566.0 1516.8,1540.0 1527.2,1520.0 1541.6,1500.0 1559.0,1482.3 1577.9,1468.0 1599.0,1456.4 1623.0,1447.3 1651.0,1440.1 1678.2,1436.0Z"/>
<path fill="#981800" d="M1688.2,1438.0 1703.0,1438.4 1715.0,1440.3 1725.0,1443.4 1735.0,1448.7 1743.0,1455.1 1750.5,1464.0 1756.5,1474.0 1761.5,1486.0 1766.7,1504.0 1770.4,1524.0 1772.7,1546.0 1773.0,1566.0 1771.5,1584.0 1768.2,1602.0 1763.5,1618.0 1757.0,1634.0 1749.5,1648.0 1741.6,1660.0 1733.0,1670.9 1723.0,1681.5 1713.0,1690.4 1701.0,1699.4 1689.0,1706.9 1675.0,1714.0 1659.0,1720.3 1641.0,1725.8 1621.0,1730.2 1603.0,1732.7 1587.0,1733.6 1573.0,1732.9 1561.0,1730.5 1551.0,1726.8 1543.0,1722.2 1535.6,1716.0 1529.0,1708.2 1523.9,1700.0 1519.2,1690.0 1515.1,1678.0 1508.9,1650.0 1505.7,1618.0 1506.6,1588.0 1511.4,1562.0 1515.9,1548.0 1520.9,1536.0 1533.0,1514.8 1547.9,1496.0 1565.0,1480.0 1585.0,1466.3 1607.0,1455.6 1633.0,1446.9 1661.0,1440.8 1688.2,1438.0Z"/>
<path fill="#9c1c00" d="M1669.4,1442.0 1685.0,1440.7 1699.0,1440.8 1711.0,1442.4 1723.0,1445.9 1733.0,1451.0 1741.0,1457.4 1748.4,1466.0 1755.0,1477.2 1760.9,1492.0 1765.6,1510.0 1769.1,1532.0 1770.8,1554.0 1770.6,1572.0 1768.6,1590.0 1764.7,1608.0 1759.3,1624.0 1753.0,1638.0 1746.2,1650.0 1737.9,1662.0 1729.0,1672.7 1719.0,1682.8 1707.0,1692.8 1695.0,1701.0 1683.0,1707.8 1667.0,1715.0 1651.0,1720.6 1633.0,1725.3 1613.0,1729.1 1597.0,1730.8 1581.0,1730.9 1569.0,1729.5 1557.0,1726.1 1549.0,1722.3 1541.0,1716.8 1535.0,1710.9 1529.7,1704.0 1520.5,1686.0 1513.6,1662.0 1508.9,1630.0 1508.1,1600.0 1511.4,1572.0 1518.9,1546.0 1529.0,1525.0 1542.0,1506.0 1557.0,1489.8 1575.0,1475.3 1595.0,1463.6 1617.0,1454.4 1643.0,1446.8 1669.4,1442.0Z"/>
<path fill="#a12100" d="M1668.2,1448.0 1683.0,1446.8 1697.0,1447.1 1709.0,1448.8 1719.2,1452.0 1729.0,1457.1 1737.0,1463.5 1744.2,1472.0 1750.1,1482.0 1755.8,1496.0 1760.6,1514.0 1763.8,1534.0 1765.4,1556.0 1765.1,1574.0 1763.2,1592.0 1759.7,1608.0 1754.3,1624.0 1748.9,1636.0 1742.2,1648.0 1733.8,1660.0 1725.0,1670.4 1715.0,1680.2 1705.0,1688.3 1693.0,1696.4 1681.0,1703.0 1667.0,1709.2 1649.0,1715.5 1633.0,1719.7 1615.0,1723.1 1599.0,1724.7 1585.0,1724.8 1573.0,1723.4 1561.0,1720.1 1553.0,1716.3 1546.7,1712.0 1540.2,1706.0 1533.9,1698.0 1525.0,1680.0 1518.3,1656.0 1514.2,1626.0 1513.9,1596.0 1517.5,1570.0 1524.8,1546.0 1533.4,1528.0 1545.5,1510.0 1560.3,1494.0 1577.0,1480.6 1597.0,1468.8 1619.0,1459.6 1643.0,1452.6 1668.2,1448.0Z"/>
<path fill="#a62600" d="M1663.7,1454.0 1679.0,1452.6 1693.0,1452.7 1705.0,1454.4 1715.0,1457.4 1724.2,1462.0 1732.0,1468.0 1739.2,1476.0 1745.4,1486.0 1751.2,1500.0 1755.6,1516.0 1758.7,1534.0 1760.3,1554.0 1760.3,1572.0 1758.5,1590.0 1755.2,1606.0 1750.1,1622.0 1744.9,1634.0 1738.1,1646.0 1722.9,1666.0 1713.0,1675.8 1703.0,1683.9 1691.0,1691.9 1679.0,1698.5 1665.0,1704.7 1649.0,1710.2 1617.0,1717.5 1601.0,1719.1 1587.0,1719.0 1575.0,1717.5 1565.0,1714.6 1551.0,1706.8 1545.0,1701.4 1539.0,1694.0 1530.5,1678.0 1523.8,1656.0 1519.5,1628.0 1518.9,1600.0 1521.9,1574.0 1528.7,1550.0 1538.1,1530.0 1548.8,1514.0 1563.0,1498.4 1579.0,1485.4 1597.0,1474.5 1617.0,1465.7 1639.0,1458.9 1663.7,1454.0Z"/>
<path fill="#ab2b00" d="M1675.0,1458.0 1687.0,1457.9 1699.0,1459.2 1709.0,1461.7 1719.0,1466.2 1727.0,1471.9 1733.0,1478.0 1739.0,1486.4 1744.7,1498.0 1749.4,1512.0 1752.9,1528.0 1755.2,1546.0 1755.9,1564.0 1754.9,1582.0 1752.5,1598.0 1748.9,1612.0 1743.7,1626.0 1731.5,1648.0 1724.0,1658.0 1715.0,1667.8 1705.0,1676.7 1695.0,1684.0 1673.0,1696.3 1657.0,1702.8 1643.0,1707.1 1613.0,1713.0 1599.0,1713.9 1587.0,1713.5 1575.0,1711.4 1565.3,1708.0 1558.0,1704.0 1551.0,1698.5 1540.9,1686.0 1532.5,1668.0 1526.5,1644.0 1523.6,1616.0 1524.3,1590.0 1528.5,1566.0 1536.2,1544.0 1546.0,1526.0 1558.2,1510.0 1572.8,1496.0 1589.0,1484.4 1607.0,1474.9 1629.0,1466.6 1653.0,1460.7 1675.0,1458.0Z"/>
<path fill="#b03000" d="M1662.1,1464.0 1677.0,1462.8 1689.0,1463.2 1699.0,1464.8 1709.0,1467.9 1717.1,1472.0 1725.0,1478.0 1731.0,1484.6 1737.1,1494.0 1742.4,1506.0 1747.0,1522.0 1749.9,1538.0 1751.5,1556.0 1751.4,1572.0 1750.0,1588.0 1746.8,1604.0 1742.5,1618.0 1731.8,1640.0 1718.6,1658.0 1701.0,1674.6 1679.0,1688.7 1665.0,1695.2 1651.0,1700.2 1635.0,1704.6 1621.0,1707.3 1607.0,1708.7 1595.0,1708.9 1583.0,1707.5 1573.0,1704.9 1559.0,1697.5 1553.0,1692.2 1547.7,1686.0 1539.0,1670.5 1533.0,1652.0 1528.7,1626.0 1527.9,1600.0 1530.6,1576.0 1536.7,1554.0 1544.9,1536.0 1555.4,1520.0 1568.0,1506.0 1583.0,1493.5 1601.0,1482.6 1619.0,1474.7 1639.0,1468.4 1662.1,1464.0Z"/>
<path fill="#b53600" d="M1666.7,1468.0 1679.0,1467.6 1691.0,1468.5 1701.0,1470.8 1709.0,1473.9 1717.0,1478.7 1725.0,1485.9 1731.0,1493.9 1735.5,1502.0 1740.2,1514.0 1744.3,1530.0 1746.7,1546.0 1747.6,1562.0 1747.2,1578.0 1745.5,1592.0 1742.4,1606.0 1737.6,1620.0 1732.0,1632.0 1726.1,1642.0 1711.6,1660.0 1693.0,1675.8 1673.0,1687.4 1647.0,1697.3 1631.0,1701.2 1617.0,1703.4 1605.0,1704.2 1593.0,1703.8 1583.0,1702.2 1573.0,1699.0 1561.0,1691.9 1555.0,1686.3 1550.0,1680.0 1541.6,1664.0 1535.7,1644.0 1532.4,1620.0 1532.1,1596.0 1535.5,1572.0 1541.6,1552.0 1549.4,1536.0 1560.4,1520.0 1573.7,1506.0 1589.0,1494.2 1605.0,1485.0 1625.0,1476.8 1647.0,1470.9 1666.7,1468.0Z"/>
<path fill="#ba3b00" d="M1652.0,1474.0 1677.0,1472.0 1689.0,1473.1 1699.0,1475.5 1707.0,1478.7 1715.0,1483.8 1721.7,1490.0 1727.8,1498.0 1734.0,1510.0 1738.1,1522.0 1741.3,1536.0 1743.4,1552.0 1744.0,1568.0 1743.2,1582.0 1741.1,1596.0 1737.5,1610.0 1728.1,1632.0 1715.9,1650.0 1699.0,1666.9 1679.0,1680.3 1655.0,1690.8 1641.0,1695.0 1627.0,1697.9 1613.0,1699.6 1601.0,1699.8 1591.0,1698.8 1581.0,1696.5 1567.4,1690.0 1557.0,1680.8 1548.5,1668.0 1541.6,1650.0 1537.1,1628.0 1535.6,1604.0 1537.3,1582.0 1541.9,1562.0 1548.2,1546.0 1557.3,1530.0 1568.6,1516.0 1581.0,1504.4 1597.0,1493.4 1613.0,1485.4 1631.0,1478.9 1652.0,1474.0Z"/>
<path fill="#bf4000" d="M1651.0,1478.0 1665.0,1476.4 1677.0,1476.3 1687.0,1477.4 1697.0,1479.9 1705.0,1483.3 1713.0,1488.6 1719.0,1494.3 1724.8,1502.0 1730.1,1512.0 1734.5,1524.0 1737.9,1538.0 1739.8,1552.0 1740.6,1568.0 1739.9,1582.0 1737.8,1596.0 1734.8,1608.0 1730.4,1620.0 1725.6,1630.0 1713.5,1648.0 1697.5,1664.0 1679.0,1676.6 1657.0,1686.5 1631.0,1693.4 1617.0,1695.3 1605.0,1695.6 1595.0,1694.9 1585.0,1692.7 1571.0,1686.4 1561.0,1677.9 1552.6,1666.0 1545.9,1650.0 1540.9,1628.0 1539.1,1606.0 1540.4,1584.0 1544.7,1564.0 1550.8,1548.0 1559.9,1532.0 1571.0,1518.2 1583.0,1507.0 1597.0,1497.3 1613.0,1489.1 1631.0,1482.5 1651.0,1478.0Z"/>
<path fill="#c44500" d="M1648.3,1482.0 1661.0,1480.4 1673.0,1480.2 1683.0,1481.0 1693.0,1483.3 1701.0,1486.5 1709.0,1491.4 1715.0,1496.8 1721.0,1504.3 1726.5,1514.0 1731.0,1525.6 1734.2,1538.0 1736.5,1552.0 1737.4,1566.0 1737.0,1580.0 1735.5,1592.0 1732.3,1606.0 1724.4,1626.0 1712.9,1644.0 1697.6,1660.0 1679.0,1673.1 1657.0,1683.2 1631.0,1689.9 1607.0,1691.7 1597.0,1690.9 1587.0,1688.6 1575.0,1683.3 1563.8,1674.0 1555.3,1662.0 1548.7,1646.0 1544.1,1626.0 1542.3,1604.0 1543.5,1584.0 1547.9,1564.0 1554.2,1548.0 1562.2,1534.0 1571.6,1522.0 1584.2,1510.0 1597.0,1500.9 1613.0,1492.5 1629.0,1486.6 1648.3,1482.0Z"/>
<path fill="#c94a00" d="M1660.3,1484.0 1681.0,1484.8 1691.0,1487.1 1698.1,1490.0 1705.0,1494.0 1712.0,1500.0 1717.1,1506.0 1722.1,1514.0 1726.6,1524.0 1730.3,1536.0 1732.7,1548.0 1734.2,1562.0 1734.3,1576.0 1733.3,1588.0 1731.0,1600.0 1727.5,1612.0 1718.0,1632.0 1706.0,1648.0 1691.0,1661.9 1673.0,1673.2 1651.0,1682.0 1627.0,1687.2 1605.0,1687.8 1595.0,1686.4 1587.0,1684.1 1575.0,1678.0 1564.3,1668.0 1555.8,1654.0 1550.0,1638.0 1546.2,1618.0 1545.3,1598.0 1547.4,1578.0 1552.2,1560.0 1559.3,1544.0 1568.5,1530.0 1579.3,1518.0 1593.0,1506.8 1609.0,1497.5 1625.0,1491.0 1643.0,1486.3 1660.3,1484.0Z"/>
<path fill="#cf4f00" d="M1651.7,1488.0 1673.0,1487.5 1683.0,1489.0 1691.0,1491.4 1699.0,1495.2 1705.9,1500.0 1712.0,1506.0 1717.7,1514.0 1722.8,1524.0 1726.4,1534.0 1729.3,1546.0 1731.3,1560.0 1731.1,1584.0 1729.3,1596.0 1726.2,1608.0 1717.4,1628.0 1706.2,1644.0 1691.8,1658.0 1675.0,1669.2 1653.0,1678.5 1631.0,1683.5 1609.0,1684.6 1591.0,1681.3 1579.0,1675.6 1569.0,1667.2 1561.0,1656.0 1554.1,1640.0 1549.8,1622.0 1548.1,1602.0 1549.4,1582.0 1553.6,1564.0 1559.1,1550.0 1567.3,1536.0 1577.0,1524.0 1589.0,1513.0 1603.0,1503.7 1617.0,1496.9 1635.0,1491.0 1651.7,1488.0Z"/>
<path fill="#d45400" d="M1644.0,1492.0 1665.0,1490.4 1675.0,1491.2 1685.0,1493.3 1699.3,1500.0 1706.7,1506.0 1712.0,1512.0 1717.1,1520.0 1721.7,1530.0 1727.5,1552.0 1729.1,1576.0 1728.2,1588.0 1725.9,1600.0 1719.8,1618.0 1709.0,1636.7 1695.2,1652.0 1679.0,1664.1 1661.0,1673.0 1639.0,1679.4 1617.0,1681.6 1607.0,1681.0 1597.0,1679.2 1585.0,1674.6 1575.0,1667.7 1566.5,1658.0 1559.0,1644.0 1553.5,1626.0 1551.0,1608.0 1551.0,1590.0 1553.8,1572.0 1559.1,1556.0 1566.2,1542.0 1574.8,1530.0 1585.0,1519.5 1599.0,1508.9 1613.0,1501.4 1629.0,1495.4 1644.0,1492.0Z"/>
<path fill="#d95900" d="M1649.0,1494.0 1669.0,1493.7 1679.0,1495.3 1687.0,1497.7 1695.0,1501.6 1701.0,1505.8 1707.0,1511.5 1712.0,1518.0 1716.6,1526.0 1720.7,1536.0 1725.8,1558.0 1726.7,1570.0 1726.5,1582.0 1722.6,1604.0 1715.5,1622.0 1705.3,1638.0 1693.0,1651.0 1677.0,1662.7 1659.0,1671.2 1637.0,1677.1 1617.0,1678.6 1599.0,1676.2 1587.0,1671.6 1576.4,1664.0 1567.9,1654.0 1560.7,1640.0 1555.8,1624.0 1553.3,1606.0 1553.5,1588.0 1556.7,1570.0 1561.5,1556.0 1568.8,1542.0 1577.8,1530.0 1589.0,1519.0 1603.0,1509.1 1617.0,1502.2 1633.0,1496.9 1649.0,1494.0Z"/>
<path fill="#de5e00" d="M1639.2,1498.0 1661.0,1496.1 1679.0,1498.5 1687.0,1501.3 1695.0,1505.6 1706.5,1516.0 1712.1,1524.0 1716.2,1532.0 1722.3,1552.0 1724.5,1574.0 1722.4,1596.0 1716.9,1614.0 1708.5,1630.0 1697.0,1644.4 1681.0,1657.7 1663.0,1667.3 1643.0,1673.5 1623.0,1675.9 1605.0,1674.4 1593.0,1670.7 1581.0,1663.5 1571.9,1654.0 1565.0,1642.6 1559.5,1628.0 1556.0,1610.0 1555.5,1592.0 1557.5,1576.0 1561.4,1562.0 1567.7,1548.0 1575.5,1536.0 1585.0,1525.4 1597.0,1515.5 1609.0,1508.3 1623.0,1502.3 1639.2,1498.0Z"/>
<path fill="#e36300" d="M1641.1,1500.0 1661.0,1498.7 1679.0,1501.6 1693.0,1508.1 1699.0,1512.7 1705.0,1519.0 1714.1,1534.0 1720.4,1554.0 1722.4,1576.0 1720.3,1596.0 1714.8,1614.0 1706.2,1630.0 1695.0,1643.6 1681.0,1655.3 1663.0,1665.0 1645.0,1670.8 1625.0,1673.3 1607.0,1671.9 1593.0,1667.3 1583.0,1661.1 1574.1,1652.0 1567.0,1640.4 1561.5,1626.0 1558.3,1610.0 1557.6,1592.0 1559.5,1576.0 1563.5,1562.0 1569.9,1548.0 1578.0,1536.0 1587.2,1526.0 1599.0,1516.6 1611.0,1509.6 1627.0,1503.3 1641.1,1500.0Z"/>
<path fill="#e86900" d="M1642.4,1502.0 1661.0,1501.2 1671.0,1502.4 1679.0,1504.5 1693.0,1511.6 1703.8,1522.0 1709.0,1529.7 1713.0,1537.7 1718.5,1556.0 1720.4,1576.0 1718.4,1596.0 1712.8,1614.0 1704.0,1630.0 1693.0,1643.0 1679.0,1654.4 1663.0,1662.9 1645.0,1668.6 1627.0,1670.9 1609.0,1669.6 1595.0,1665.0 1585.0,1658.9 1576.1,1650.0 1569.0,1638.7 1563.3,1624.0 1560.2,1608.0 1559.6,1592.0 1561.5,1576.0 1565.5,1562.0 1572.1,1548.0 1580.4,1536.0 1589.0,1526.9 1601.0,1517.5 1613.0,1510.8 1627.0,1505.4 1642.4,1502.0Z"/>
<path fill="#ed6e00" d="M1643.1,1504.0 1661.0,1503.5 1677.0,1506.6 1691.0,1513.6 1702.1,1524.0 1710.6,1538.0 1716.4,1556.0 1718.6,1576.0 1716.6,1596.0 1711.7,1612.0 1703.2,1628.0 1693.0,1640.6 1679.0,1652.2 1663.0,1660.9 1645.0,1666.6 1627.0,1668.7 1611.0,1667.4 1597.0,1663.0 1587.0,1657.0 1577.9,1648.0 1571.4,1638.0 1565.6,1624.0 1562.2,1608.0 1561.4,1592.0 1563.3,1576.0 1567.4,1562.0 1573.0,1550.0 1581.0,1538.0 1591.0,1527.5 1603.0,1518.4 1615.0,1511.9 1629.0,1506.8 1643.1,1504.0Z"/>
<path fill="#f27300" d="M1642.9,1506.0 1661.0,1505.7 1677.0,1509.2 1690.0,1516.0 1700.5,1526.0 1709.0,1540.0 1714.4,1556.0 1716.7,1574.0 1715.2,1594.0 1710.7,1610.0 1702.6,1626.0 1691.2,1640.0 1679.0,1650.2 1663.0,1659.0 1647.0,1664.2 1629.0,1666.6 1613.0,1665.4 1601.0,1662.0 1591.0,1656.7 1581.1,1648.0 1574.0,1638.0 1567.8,1624.0 1564.4,1610.0 1563.2,1594.0 1564.7,1578.0 1568.4,1564.0 1573.8,1552.0 1581.6,1540.0 1591.0,1529.7 1603.0,1520.4 1615.0,1513.8 1629.0,1508.7 1642.9,1506.0Z"/>
<path fill="#f77800" d="M1641.9,1508.0 1659.0,1507.6 1673.0,1510.3 1687.0,1516.8 1697.5,1526.0 1706.7,1540.0 1712.5,1556.0 1715.0,1574.0 1713.9,1592.0 1709.8,1608.0 1702.0,1624.0 1691.0,1638.0 1679.3,1648.0 1663.0,1657.2 1647.0,1662.4 1631.0,1664.6 1615.0,1663.6 1603.0,1660.3 1591.3,1654.0 1582.5,1646.0 1575.4,1636.0 1569.9,1624.0 1565.9,1608.0 1564.9,1592.0 1566.4,1578.0 1570.1,1564.0 1575.6,1552.0 1583.6,1540.0 1593.0,1530.1 1603.0,1522.3 1615.0,1515.7 1629.0,1510.6 1641.9,1508.0Z"/>
<path fill="#fc7d00" d="M1640.2,1510.0 1657.0,1509.4 1673.0,1512.5 1685.0,1518.2 1696.4,1528.0 1704.5,1540.0 1710.6,1556.0 1713.3,1574.0 1712.3,1592.0 1708.2,1608.0 1701.4,1622.0 1691.0,1635.8 1679.0,1646.3 1665.0,1654.6 1649.0,1660.2 1633.0,1662.7 1617.0,1661.9 1605.0,1658.8 1595.0,1653.8 1585.5,1646.0 1577.7,1636.0 1571.9,1624.0 1568.0,1610.0 1566.5,1594.0 1567.6,1580.0 1571.1,1566.0 1576.2,1554.0 1582.5,1544.0 1591.1,1534.0 1601.0,1525.6 1613.0,1518.4 1627.0,1512.8 1640.2,1510.0Z"/>
<path fill="#ff8203" d="M1638.0,1512.0 1655.0,1511.1 1669.0,1513.4 1683.0,1519.4 1693.0,1527.4 1702.3,1540.0 1708.3,1554.0 1711.5,1570.0 1711.4,1588.0 1708.0,1604.0 1702.0,1618.0 1692.4,1632.0 1681.0,1643.0 1669.0,1650.9 1653.0,1657.5 1637.0,1660.6 1621.0,1660.5 1609.0,1658.0 1599.0,1653.7 1589.0,1646.6 1581.0,1637.4 1574.7,1626.0 1570.1,1612.0 1568.2,1598.0 1568.6,1584.0 1571.4,1570.0 1575.9,1558.0 1582.8,1546.0 1591.0,1536.2 1601.0,1527.4 1613.0,1520.1 1625.0,1515.1 1638.0,1512.0Z"/>
<path fill="#ff8708" d="M1635.7,1514.0 1651.0,1512.7 1667.0,1514.8 1680.1,1520.0 1691.0,1528.2 1700.2,1540.0 1706.5,1554.0 1709.9,1570.0 1710.1,1586.0 1707.1,1602.0 1701.5,1616.0 1693.9,1628.0 1683.0,1639.5 1669.0,1649.2 1655.0,1655.3 1639.0,1658.8 1625.0,1659.1 1613.0,1657.2 1601.0,1652.6 1591.4,1646.0 1583.8,1638.0 1577.0,1626.8 1572.3,1614.0 1569.9,1600.0 1569.9,1586.0 1572.3,1572.0 1576.5,1560.0 1583.2,1548.0 1591.0,1538.2 1601.0,1529.2 1611.0,1522.7 1623.0,1517.4 1635.7,1514.0Z"/>
<path fill="#ff8c0d" d="M1633.3,1516.0 1649.0,1514.3 1663.0,1515.7 1677.0,1520.5 1688.1,1528.0 1697.0,1538.2 1704.1,1552.0 1707.8,1566.0 1708.9,1582.0 1706.8,1598.0 1702.0,1612.0 1695.0,1624.2 1684.9,1636.0 1671.0,1646.5 1657.0,1653.1 1641.0,1657.0 1627.0,1657.6 1615.0,1655.9 1603.0,1651.5 1594.3,1646.0 1586.1,1638.0 1579.5,1628.0 1574.5,1616.0 1571.8,1604.0 1571.1,1590.0 1572.8,1576.0 1576.3,1564.0 1582.2,1552.0 1589.4,1542.0 1599.0,1532.5 1609.0,1525.5 1621.0,1519.6 1633.3,1516.0Z"/>
<path fill="#ff9112" d="M1643.8,1516.0 1659.0,1516.6 1673.0,1520.6 1685.0,1527.7 1693.2,1536.0 1700.7,1548.0 1705.5,1562.0 1707.6,1578.0 1706.3,1594.0 1702.2,1608.0 1695.0,1621.9 1685.1,1634.0 1675.0,1642.3 1661.0,1650.0 1647.0,1654.5 1633.0,1656.1 1619.0,1655.0 1607.0,1651.4 1597.3,1646.0 1589.0,1638.6 1582.5,1630.0 1576.8,1618.0 1573.6,1606.0 1572.4,1592.0 1573.7,1578.0 1576.3,1568.0 1581.4,1556.0 1587.9,1546.0 1597.0,1536.0 1607.0,1528.3 1619.0,1521.9 1631.0,1518.0 1643.8,1516.0Z"/>
<path fill="#ff9617" d="M1638.3,1518.0 1653.0,1517.5 1667.0,1520.1 1679.0,1525.6 1689.0,1533.7 1697.0,1544.3 1703.0,1558.0 1705.8,1572.0 1705.8,1588.0 1703.0,1602.0 1697.1,1616.0 1688.9,1628.0 1679.0,1637.7 1667.0,1645.7 1653.0,1651.5 1639.0,1654.3 1625.0,1654.3 1613.0,1651.9 1603.0,1647.6 1593.0,1640.3 1585.8,1632.0 1580.1,1622.0 1575.9,1610.0 1574.0,1598.0 1574.2,1584.0 1576.4,1572.0 1580.8,1560.0 1586.5,1550.0 1594.7,1540.0 1605.0,1531.2 1615.0,1525.2 1627.0,1520.5 1638.3,1518.0Z"/>
<path fill="#ff9c1c" d="M1634.5,1520.0 1649.0,1518.7 1663.0,1520.6 1675.0,1525.2 1685.0,1532.1 1693.7,1542.0 1700.0,1554.0 1703.9,1568.0 1704.9,1582.0 1703.3,1596.0 1698.7,1610.0 1692.0,1622.0 1683.0,1632.5 1671.0,1642.0 1659.0,1648.1 1645.0,1652.1 1631.0,1653.3 1619.0,1651.9 1609.0,1648.7 1599.0,1643.1 1591.0,1636.0 1583.8,1626.0 1579.2,1616.0 1576.0,1604.0 1575.1,1590.0 1576.3,1578.0 1579.6,1566.0 1585.4,1554.0 1592.7,1544.0 1601.0,1535.8 1611.0,1528.8 1623.0,1523.1 1634.5,1520.0Z"/>
<path fill="#ffa121" d="M1631.2,1522.0 1645.0,1520.1 1659.0,1521.2 1671.0,1524.9 1681.0,1530.8 1690.4,1540.0 1697.0,1550.6 1701.8,1564.0 1703.7,1578.0 1702.8,1592.0 1699.0,1606.0 1693.2,1618.0 1685.0,1628.8 1675.0,1637.8 1663.0,1645.0 1649.0,1649.9 1635.0,1651.8 1623.0,1651.1 1611.0,1647.9 1601.0,1642.6 1593.1,1636.0 1586.7,1628.0 1581.4,1618.0 1577.8,1606.0 1576.3,1594.0 1576.9,1582.0 1579.5,1570.0 1584.5,1558.0 1590.9,1548.0 1599.0,1539.2 1609.0,1531.4 1619.0,1526.1 1631.2,1522.0Z"/>
<path fill="#ffa626" d="M1638.2,1522.0 1651.0,1521.6 1665.0,1524.2 1675.0,1528.6 1685.0,1536.2 1692.9,1546.0 1698.6,1558.0 1701.9,1572.0 1702.3,1586.0 1699.8,1600.0 1695.2,1612.0 1687.6,1624.0 1679.0,1633.1 1667.0,1641.6 1655.0,1646.9 1643.0,1649.8 1629.0,1650.4 1617.0,1648.4 1607.0,1644.5 1599.0,1639.3 1591.0,1631.4 1584.8,1622.0 1580.1,1610.0 1577.8,1598.0 1577.7,1586.0 1579.6,1574.0 1583.8,1562.0 1589.5,1552.0 1597.0,1542.7 1605.0,1535.6 1615.0,1529.3 1627.0,1524.4 1638.2,1522.0Z"/>
<path fill="#ffab2b" d="M1633.6,1524.0 1647.0,1522.7 1659.0,1524.0 1671.0,1528.1 1681.0,1534.5 1689.9,1544.0 1696.5,1556.0 1700.1,1568.0 1701.3,1582.0 1699.7,1596.0 1695.8,1608.0 1689.1,1620.0 1681.0,1629.7 1671.0,1637.8 1659.0,1644.2 1647.0,1647.9 1633.0,1649.3 1621.0,1648.0 1611.0,1644.8 1601.0,1639.0 1593.3,1632.0 1586.3,1622.0 1582.0,1612.0 1579.6,1602.0 1578.7,1590.0 1579.9,1578.0 1582.6,1568.0 1587.1,1558.0 1593.8,1548.0 1601.5,1540.0 1611.0,1532.9 1623.0,1527.0 1633.6,1524.0Z"/>
<path fill="#ffb030" d="M1643.9,1524.0 1657.0,1524.9 1669.0,1528.7 1679.0,1534.7 1687.0,1542.5 1694.2,1554.0 1698.4,1566.0 1700.1,1578.0 1699.3,1592.0 1696.2,1604.0 1690.4,1616.0 1683.0,1626.0 1673.0,1635.0 1661.0,1642.1 1649.0,1646.2 1637.0,1648.0 1625.0,1647.4 1615.0,1644.9 1605.0,1640.1 1597.0,1633.8 1590.4,1626.0 1584.9,1616.0 1581.1,1604.0 1579.8,1592.0 1580.7,1580.0 1583.8,1568.0 1588.4,1558.0 1595.0,1548.3 1603.0,1540.1 1613.0,1533.0 1623.0,1528.2 1633.0,1525.3 1643.9,1524.0Z"/>
<path fill="#ffb536" d="M1635.7,1526.0 1649.0,1525.2 1661.0,1527.2 1671.0,1531.1 1680.9,1538.0 1689.0,1547.4 1694.6,1558.0 1698.0,1570.0 1699.0,1582.0 1697.8,1594.0 1694.3,1606.0 1687.9,1618.0 1679.6,1628.0 1669.0,1636.5 1657.0,1642.5 1645.0,1645.9 1633.0,1646.8 1621.0,1645.3 1611.4,1642.0 1603.0,1637.1 1595.2,1630.0 1589.3,1622.0 1584.6,1612.0 1581.9,1602.0 1581.0,1590.0 1582.2,1578.0 1584.9,1568.0 1589.6,1558.0 1596.6,1548.0 1605.0,1539.9 1615.0,1533.1 1625.0,1528.7 1635.7,1526.0Z"/>
<path fill="#ffba3b" d="M1631.4,1528.0 1643.0,1526.4 1655.0,1527.1 1667.0,1530.7 1677.0,1536.5 1685.0,1544.1 1691.5,1554.0 1696.0,1566.0 1697.8,1578.0 1697.4,1590.0 1694.6,1602.0 1689.2,1614.0 1681.9,1624.0 1673.0,1632.4 1661.0,1639.7 1649.0,1643.9 1637.0,1645.6 1627.0,1645.2 1617.0,1642.9 1607.0,1638.2 1599.0,1632.1 1592.1,1624.0 1587.5,1616.0 1584.0,1606.0 1582.1,1594.0 1582.6,1582.0 1584.7,1572.0 1588.6,1562.0 1594.8,1552.0 1601.9,1544.0 1611.0,1536.8 1621.0,1531.4 1631.4,1528.0Z"/>
<path fill="#ffbf40" d="M1637.5,1528.0 1649.0,1527.6 1661.0,1529.8 1671.0,1534.0 1681.0,1541.6 1687.8,1550.0 1692.9,1560.0 1696.1,1572.0 1696.8,1584.0 1695.2,1596.0 1691.1,1608.0 1685.4,1618.0 1677.0,1627.6 1667.0,1635.3 1657.0,1640.2 1645.0,1643.6 1633.0,1644.5 1623.0,1643.3 1613.0,1640.0 1605.0,1635.4 1596.7,1628.0 1591.0,1620.0 1586.4,1610.0 1583.9,1600.0 1583.2,1588.0 1584.7,1576.0 1588.0,1566.0 1593.2,1556.0 1599.4,1548.0 1607.0,1540.9 1617.0,1534.5 1627.0,1530.3 1637.5,1528.0Z"/>
<path fill="#ffc445" d="M1632.4,1530.0 1645.0,1528.6 1657.0,1529.9 1667.0,1533.3 1677.0,1539.7 1685.0,1548.0 1690.8,1558.0 1694.2,1568.0 1695.8,1580.0 1695.0,1592.0 1691.7,1604.0 1686.8,1614.0 1679.2,1624.0 1670.1,1632.0 1659.0,1638.3 1649.0,1641.7 1637.0,1643.4 1627.0,1642.8 1617.0,1640.3 1608.1,1636.0 1600.3,1630.0 1593.6,1622.0 1589.0,1613.6 1585.8,1604.0 1584.2,1592.0 1585.0,1580.0 1587.5,1570.0 1592.0,1560.0 1597.3,1552.0 1604.9,1544.0 1613.0,1537.9 1623.0,1532.9 1632.4,1530.0Z"/>
<path fill="#ffc94a" d="M1639.0,1530.0 1651.0,1530.1 1661.0,1532.2 1671.0,1536.8 1680.0,1544.0 1687.0,1553.1 1692.0,1564.0 1694.2,1574.0 1694.7,1586.0 1692.7,1598.0 1688.9,1608.0 1682.9,1618.0 1675.0,1626.8 1665.0,1634.1 1655.0,1638.8 1643.0,1641.8 1631.0,1642.1 1621.0,1640.4 1613.0,1637.3 1604.5,1632.0 1597.0,1624.6 1591.4,1616.0 1587.4,1606.0 1585.5,1596.0 1585.3,1586.0 1586.8,1576.0 1590.1,1566.0 1595.6,1556.0 1602.1,1548.0 1611.0,1540.4 1619.0,1535.7 1629.0,1531.9 1639.0,1530.0Z"/>
<path fill="#ffcf4f" d="M1632.9,1532.0 1645.0,1530.8 1655.0,1531.8 1665.0,1535.0 1675.0,1541.1 1683.0,1549.2 1688.4,1558.0 1692.0,1568.0 1693.7,1580.0 1693.0,1592.0 1690.4,1602.0 1685.7,1612.0 1678.4,1622.0 1669.0,1630.3 1659.0,1636.1 1649.0,1639.5 1637.0,1641.2 1627.0,1640.5 1617.0,1637.8 1609.0,1633.8 1601.6,1628.0 1595.0,1620.0 1590.7,1612.0 1587.5,1602.0 1586.2,1592.0 1586.7,1582.0 1588.9,1572.0 1593.1,1562.0 1598.2,1554.0 1605.0,1546.5 1613.0,1540.3 1623.0,1535.0 1632.9,1532.0Z"/>
<path fill="#ffd454" d="M1640.1,1532.0 1651.0,1532.2 1661.0,1534.6 1671.0,1539.6 1679.0,1546.3 1686.1,1556.0 1690.4,1566.0 1692.4,1576.0 1692.5,1588.0 1690.6,1598.0 1686.8,1608.0 1680.5,1618.0 1672.9,1626.0 1663.0,1633.0 1653.0,1637.4 1643.0,1639.7 1631.0,1640.0 1621.0,1638.0 1613.0,1634.8 1605.0,1629.5 1597.8,1622.0 1592.8,1614.0 1589.0,1604.0 1587.4,1594.0 1587.5,1584.0 1589.3,1574.0 1593.2,1564.0 1598.0,1556.0 1604.9,1548.0 1613.0,1541.4 1621.0,1537.0 1631.0,1533.5 1640.1,1532.0Z"/>
<path fill="#ffd959" d="M1633.2,1534.0 1645.0,1532.9 1655.0,1534.0 1665.0,1537.4 1673.0,1542.3 1680.8,1550.0 1686.0,1558.0 1689.9,1568.0 1691.8,1580.0 1691.0,1592.0 1688.4,1602.0 1683.5,1612.0 1677.6,1620.0 1669.0,1628.0 1661.0,1633.0 1651.0,1637.0 1639.0,1639.0 1629.0,1638.7 1619.0,1636.2 1611.0,1632.4 1603.0,1626.2 1597.0,1619.0 1592.1,1610.0 1589.6,1602.0 1588.2,1592.0 1588.7,1582.0 1590.9,1572.0 1595.3,1562.0 1600.6,1554.0 1607.0,1547.3 1615.0,1541.3 1623.0,1537.2 1633.2,1534.0Z"/>
<path fill="#ffde5e" d="M1640.4,1534.0 1651.0,1534.4 1661.0,1536.9 1670.7,1542.0 1677.6,1548.0 1683.7,1556.0 1688.2,1566.0 1690.5,1576.0 1690.6,1588.0 1688.7,1598.0 1684.7,1608.0 1679.0,1616.9 1671.0,1625.2 1663.0,1630.8 1653.0,1635.3 1643.0,1637.7 1631.0,1637.9 1621.0,1635.8 1613.0,1632.3 1605.0,1626.6 1599.0,1620.0 1594.2,1612.0 1591.1,1604.0 1589.3,1594.0 1589.4,1584.0 1591.3,1574.0 1594.3,1566.0 1599.0,1557.8 1605.5,1550.0 1613.0,1543.7 1621.0,1539.1 1631.0,1535.5 1640.4,1534.0Z"/>
<path fill="#ffe363" d="M1633.1,1536.0 1643.0,1534.9 1653.0,1535.7 1663.0,1538.9 1671.6,1544.0 1679.0,1551.1 1684.7,1560.0 1688.4,1570.0 1689.8,1580.0 1689.4,1590.0 1687.1,1600.0 1682.6,1610.0 1676.9,1618.0 1669.0,1625.6 1659.0,1631.9 1649.0,1635.5 1639.0,1637.1 1629.0,1636.6 1621.0,1634.7 1613.0,1631.1 1605.0,1625.1 1598.8,1618.0 1594.4,1610.0 1591.6,1602.0 1590.1,1592.0 1590.6,1582.0 1592.3,1574.0 1596.3,1564.0 1601.4,1556.0 1607.0,1549.8 1615.0,1543.5 1623.0,1539.2 1633.1,1536.0Z"/>
<path fill="#ffe869" d="M1639.9,1536.0 1649.0,1536.1 1659.0,1538.4 1667.0,1542.1 1675.0,1548.3 1681.3,1556.0 1686.1,1566.0 1688.5,1576.0 1688.9,1586.0 1687.3,1596.0 1683.7,1606.0 1677.4,1616.0 1671.0,1622.8 1663.0,1628.7 1653.0,1633.3 1643.0,1635.7 1633.0,1636.0 1623.0,1634.2 1615.0,1631.0 1607.5,1626.0 1601.6,1620.0 1596.4,1612.0 1593.2,1604.0 1591.5,1596.0 1591.1,1586.0 1592.7,1576.0 1595.4,1568.0 1599.7,1560.0 1606.1,1552.0 1613.0,1546.0 1621.0,1541.1 1631.0,1537.5 1639.9,1536.0Z"/>
<path fill="#ffed6e" d="M1632.8,1538.0 1641.0,1536.9 1651.0,1537.4 1661.0,1540.3 1669.0,1544.7 1675.2,1550.0 1681.3,1558.0 1685.8,1568.0 1687.8,1578.0 1687.8,1588.0 1685.8,1598.0 1681.7,1608.0 1676.3,1616.0 1669.0,1623.3 1661.0,1628.8 1651.0,1633.0 1641.0,1635.0 1631.0,1634.9 1623.0,1633.2 1615.0,1629.8 1609.0,1625.9 1602.9,1620.0 1597.5,1612.0 1594.2,1604.0 1592.2,1594.0 1592.2,1584.0 1593.6,1576.0 1597.3,1566.0 1602.1,1558.0 1607.3,1552.0 1615.0,1545.7 1623.0,1541.2 1632.8,1538.0Z"/>
<path fill="#fff273" d="M1638.8,1538.0 1649.0,1538.1 1657.4,1540.0 1666.1,1544.0 1673.8,1550.0 1680.2,1558.0 1684.1,1566.0 1686.6,1576.0 1687.1,1586.0 1685.5,1596.0 1682.7,1604.0 1678.2,1612.0 1671.0,1620.4 1663.0,1626.6 1655.0,1630.6 1645.0,1633.5 1635.0,1634.2 1625.0,1632.7 1617.6,1630.0 1610.9,1626.0 1604.3,1620.0 1598.6,1612.0 1595.2,1604.0 1593.4,1596.0 1592.9,1586.0 1594.5,1576.0 1597.3,1568.0 1601.8,1560.0 1607.0,1553.6 1613.3,1548.0 1621.0,1543.2 1629.0,1539.9 1638.8,1538.0Z"/>
<path fill="#fff778" d="M1632.3,1540.0 1641.0,1538.8 1651.0,1539.4 1659.0,1541.6 1667.4,1546.0 1674.4,1552.0 1680.2,1560.0 1683.8,1568.0 1686.0,1578.0 1686.0,1588.0 1684.0,1598.0 1680.7,1606.0 1675.0,1614.8 1667.8,1622.0 1659.0,1627.8 1651.0,1631.1 1641.0,1633.1 1631.0,1632.9 1623.0,1631.1 1615.0,1627.5 1609.0,1623.2 1603.0,1616.9 1598.7,1610.0 1595.6,1602.0 1594.0,1594.0 1594.0,1584.0 1595.4,1576.0 1598.3,1568.0 1602.9,1560.0 1609.0,1552.8 1615.0,1547.8 1623.0,1543.2 1632.3,1540.0Z"/>
<path fill="#fffc7d" d="M1637.5,1540.0 1647.0,1539.8 1655.0,1541.3 1663.0,1544.5 1671.0,1550.1 1677.9,1558.0 1682.1,1566.0 1684.4,1574.0 1685.3,1584.0 1684.2,1594.0 1681.6,1602.0 1677.4,1610.0 1670.9,1618.0 1663.0,1624.5 1655.0,1628.7 1647.0,1631.2 1637.0,1632.3 1629.0,1631.6 1621.0,1629.3 1613.0,1625.1 1607.0,1620.0 1602.1,1614.0 1597.9,1606.0 1595.6,1598.0 1594.7,1588.0 1595.8,1578.0 1598.4,1570.0 1602.6,1562.0 1607.1,1556.0 1613.5,1550.0 1621.0,1545.2 1629.0,1541.8 1637.5,1540.0Z"/>
<path fill="#ffff82" d="M1631.7,1542.0 1641.0,1540.6 1651.0,1541.3 1659.0,1543.7 1666.8,1548.0 1673.0,1553.4 1678.0,1560.0 1681.8,1568.0 1684.1,1578.0 1684.2,1588.0 1682.8,1596.0 1679.8,1604.0 1675.0,1612.0 1669.0,1618.7 1661.0,1624.7 1653.0,1628.5 1643.0,1631.0 1633.0,1631.2 1625.0,1629.7 1617.0,1626.4 1611.0,1622.4 1605.0,1616.3 1600.8,1610.0 1597.5,1602.0 1595.8,1594.0 1595.6,1586.0 1596.7,1578.0 1599.3,1570.0 1603.6,1562.0 1609.0,1555.3 1615.0,1550.0 1623.0,1545.1 1631.7,1542.0Z"/>
<path fill="#ffff87" d="M1636.3,1542.0 1645.0,1541.6 1653.0,1542.7 1661.0,1545.6 1669.0,1550.9 1675.0,1557.2 1679.1,1564.0 1682.1,1572.0 1683.5,1582.0 1682.8,1592.0 1680.6,1600.0 1676.6,1608.0 1671.0,1615.5 1665.0,1620.9 1657.0,1625.9 1649.0,1628.9 1639.0,1630.5 1631.0,1630.0 1623.0,1628.0 1615.0,1624.1 1609.0,1619.3 1604.4,1614.0 1599.9,1606.0 1597.4,1598.0 1596.4,1590.0 1596.9,1582.0 1599.0,1573.2 1602.2,1566.0 1607.7,1558.0 1613.8,1552.0 1621.0,1547.2 1629.0,1543.7 1636.3,1542.0Z"/>
<path fill="#ffff8c" d="M1631.1,1544.0 1641.0,1542.4 1649.0,1542.9 1657.0,1545.0 1665.0,1549.1 1671.0,1554.0 1677.0,1561.9 1680.6,1570.0 1682.4,1578.0 1682.5,1588.0 1681.0,1596.0 1677.9,1604.0 1673.0,1611.8 1667.0,1618.2 1659.0,1623.8 1651.0,1627.4 1643.0,1629.2 1635.0,1629.5 1627.0,1628.3 1619.0,1625.3 1613.0,1621.5 1607.2,1616.0 1603.0,1610.0 1599.4,1602.0 1597.6,1594.0 1597.4,1586.0 1598.5,1578.0 1601.2,1570.0 1605.0,1563.0 1610.7,1556.0 1617.0,1550.6 1623.0,1547.1 1631.1,1544.0Z"/>
<path fill="#ffff91" d="M1635.0,1544.0 1645.0,1543.4 1653.0,1544.7 1661.0,1547.8 1667.0,1551.7 1673.0,1557.7 1677.1,1564.0 1680.2,1572.0 1681.8,1582.0 1681.4,1590.0 1679.0,1599.3 1675.0,1607.4 1670.0,1614.0 1663.0,1620.3 1655.0,1624.9 1647.0,1627.6 1639.0,1628.7 1631.0,1628.2 1623.0,1626.0 1617.0,1623.1 1610.4,1618.0 1605.3,1612.0 1601.9,1606.0 1599.2,1598.0 1598.2,1590.0 1598.6,1582.0 1600.5,1574.0 1604.1,1566.0 1608.2,1560.0 1614.1,1554.0 1621.0,1549.1 1627.0,1546.3 1635.0,1544.0Z"/>
<path fill="#ffff96" d="M1630.5,1546.0 1639.0,1544.4 1647.0,1544.5 1655.0,1546.2 1663.0,1550.0 1669.0,1554.7 1674.9,1562.0 1677.9,1568.0 1680.3,1576.0 1681.0,1584.0 1679.7,1594.0 1677.0,1602.0 1673.0,1608.9 1667.0,1615.9 1661.0,1620.6 1653.0,1624.8 1645.0,1627.1 1637.0,1627.8 1629.0,1626.9 1621.0,1624.2 1615.0,1620.6 1609.7,1616.0 1605.1,1610.0 1602.1,1604.0 1599.7,1596.0 1599.0,1588.0 1599.8,1580.0 1602.2,1572.0 1605.1,1566.0 1609.3,1560.0 1615.4,1554.0 1623.0,1549.0 1630.5,1546.0Z"/>
<path fill="#ffff9c" d="M1634.0,1546.0 1643.0,1545.1 1651.0,1546.1 1659.0,1548.9 1665.0,1552.5 1670.8,1558.0 1675.0,1564.0 1678.4,1572.0 1679.9,1580.0 1679.6,1590.0 1677.7,1598.0 1673.9,1606.0 1669.6,1612.0 1663.2,1618.0 1657.0,1622.0 1649.0,1625.3 1641.0,1626.7 1633.0,1626.6 1627.0,1625.4 1619.0,1622.1 1613.2,1618.0 1607.6,1612.0 1603.9,1606.0 1601.6,1600.0 1600.1,1592.0 1600.1,1584.0 1601.7,1576.0 1604.9,1568.0 1608.8,1562.0 1614.3,1556.0 1619.6,1552.0 1627.0,1548.1 1634.0,1546.0Z"/>
<path fill="#ffffa1" d="M1629.9,1548.0 1637.0,1546.4 1645.0,1546.1 1653.0,1547.5 1661.0,1551.0 1667.7,1556.0 1672.7,1562.0 1676.0,1568.0 1678.5,1576.0 1679.2,1584.0 1678.4,1592.0 1676.0,1600.0 1671.6,1608.0 1666.5,1614.0 1659.0,1619.9 1653.0,1622.9 1645.0,1625.3 1637.0,1626.0 1631.0,1625.4 1623.0,1623.0 1617.0,1619.8 1611.0,1614.7 1607.0,1609.6 1604.0,1604.0 1601.5,1596.0 1600.8,1588.0 1601.6,1580.0 1604.0,1572.0 1607.0,1566.1 1611.5,1560.0 1617.0,1554.9 1623.0,1550.9 1629.9,1548.0Z"/>
<path fill="#ffffa6" d="M1633.0,1548.0 1641.0,1546.9 1649.0,1547.5 1657.0,1550.0 1663.0,1553.4 1668.4,1558.0 1672.9,1564.0 1675.8,1570.0 1677.9,1578.0 1678.3,1586.0 1677.1,1594.0 1674.2,1602.0 1670.6,1608.0 1665.3,1614.0 1659.0,1618.9 1651.0,1622.8 1643.0,1624.8 1635.0,1625.0 1629.0,1624.1 1622.9,1622.0 1616.1,1618.0 1611.0,1613.3 1607.0,1607.9 1604.2,1602.0 1602.1,1594.0 1601.7,1586.0 1602.9,1578.0 1605.0,1571.8 1609.0,1564.6 1613.0,1559.6 1619.0,1554.4 1625.0,1550.9 1633.0,1548.0Z"/>
<path fill="#ffffab" d="M1638.1,1548.0 1645.0,1547.9 1653.0,1549.4 1659.0,1552.0 1665.0,1556.1 1670.5,1562.0 1674.0,1568.0 1676.7,1576.0 1677.5,1584.0 1676.7,1592.0 1674.2,1600.0 1670.9,1606.0 1665.0,1613.2 1658.8,1618.0 1651.0,1621.9 1645.0,1623.5 1637.0,1624.2 1629.0,1623.1 1623.0,1621.0 1612.9,1614.0 1608.2,1608.0 1605.1,1602.0 1603.3,1596.0 1602.5,1588.0 1603.3,1580.0 1605.0,1574.0 1609.0,1566.1 1613.0,1560.9 1619.0,1555.5 1625.0,1551.8 1631.0,1549.4 1638.1,1548.0Z"/>
<path fill="#ffffb0" d="M1632.2,1550.0 1639.0,1548.8 1647.0,1549.0 1655.0,1551.1 1661.0,1554.2 1665.8,1558.0 1670.8,1564.0 1673.9,1570.0 1676.2,1578.0 1676.6,1586.0 1675.4,1594.0 1673.0,1600.6 1669.0,1607.3 1663.0,1613.9 1657.0,1618.1 1651.0,1621.0 1643.0,1623.0 1635.0,1623.2 1629.0,1622.2 1623.0,1620.0 1617.0,1616.4 1612.3,1612.0 1608.0,1606.0 1603.8,1594.0 1603.3,1588.0 1604.1,1580.0 1606.7,1572.0 1610.0,1566.0 1615.0,1560.0 1619.7,1556.0 1625.0,1552.8 1632.2,1550.0Z"/>
<path fill="#ffffb5" d="M1636.3,1550.0 1643.0,1549.6 1651.0,1550.7 1657.0,1553.0 1663.0,1556.8 1668.2,1562.0 1672.0,1568.0 1674.4,1574.0 1675.7,1582.0 1675.3,1590.0 1673.9,1596.0 1670.2,1604.0 1665.7,1610.0 1659.0,1615.9 1653.0,1619.2 1647.0,1621.3 1639.0,1622.4 1631.0,1621.7 1625.2,1620.0 1615.0,1613.5 1610.3,1608.0 1607.0,1602.0 1604.3,1590.0 1604.6,1582.0 1606.1,1576.0 1608.6,1570.0 1612.5,1564.0 1617.0,1559.3 1623.0,1554.8 1629.0,1551.9 1636.3,1550.0Z"/>
<path fill="#ffffba" d="M1631.5,1552.0 1639.0,1550.5 1645.0,1550.6 1653.0,1552.3 1659.0,1555.1 1665.0,1559.8 1669.0,1564.6 1672.8,1572.0 1674.4,1578.0 1674.9,1584.0 1674.1,1592.0 1671.4,1600.0 1667.9,1606.0 1663.0,1611.6 1657.3,1616.0 1645.0,1620.9 1637.0,1621.6 1631.0,1620.8 1625.0,1618.9 1619.0,1615.6 1614.8,1612.0 1610.1,1606.0 1607.2,1600.0 1605.6,1594.0 1605.1,1588.0 1605.9,1580.0 1610.7,1568.0 1615.0,1562.4 1619.8,1558.0 1631.5,1552.0Z"/>
<path fill="#ffffbf" d="M1635.0,1552.0 1643.0,1551.3 1649.0,1552.1 1655.0,1554.1 1661.0,1557.6 1665.8,1562.0 1670.0,1568.0 1672.5,1574.0 1674.0,1582.0 1673.6,1590.0 1672.1,1596.0 1669.4,1602.0 1665.3,1608.0 1655.0,1616.3 1649.0,1618.9 1641.0,1620.6 1629.0,1619.4 1623.0,1617.0 1617.0,1612.8 1612.5,1608.0 1609.0,1602.0 1606.0,1590.0 1607.3,1578.0 1609.5,1572.0 1613.1,1566.0 1617.0,1561.6 1623.0,1556.8 1635.0,1552.0Z"/>
<path fill="#ffffc4" d="M1630.9,1554.0 1637.0,1552.5 1645.0,1552.4 1651.0,1553.6 1657.0,1556.1 1662.5,1560.0 1667.0,1564.9 1670.9,1572.0 1672.6,1578.0 1673.2,1584.0 1672.4,1592.0 1667.2,1604.0 1663.0,1609.2 1657.2,1614.0 1651.0,1617.3 1645.0,1619.1 1633.0,1619.4 1627.0,1617.8 1621.0,1614.7 1617.0,1611.6 1612.2,1606.0 1609.1,1600.0 1607.4,1594.0 1607.2,1582.0 1611.5,1570.0 1615.0,1565.0 1620.1,1560.0 1630.9,1554.0Z"/>
<path fill="#ffffc9" d="M1634.1,1554.0 1641.0,1553.1 1647.0,1553.6 1653.0,1555.2 1659.0,1558.4 1663.3,1562.0 1667.9,1568.0 1670.7,1574.0 1672.0,1580.0 1672.1,1588.0 1671.0,1594.0 1668.6,1600.0 1665.0,1605.6 1661.0,1610.0 1655.0,1614.4 1649.0,1617.1 1643.0,1618.6 1631.0,1618.0 1625.0,1615.9 1619.0,1612.1 1612.1,1604.0 1609.3,1598.0 1608.0,1592.0 1608.5,1580.0 1610.5,1574.0 1613.8,1568.0 1623.0,1558.9 1634.1,1554.0Z"/>
<path fill="#ffffcf" d="M1630.5,1556.0 1637.0,1554.3 1643.0,1554.0 1649.0,1554.9 1655.0,1557.1 1661.0,1561.1 1665.0,1565.3 1670.3,1576.0 1671.3,1588.0 1670.1,1594.0 1667.0,1601.1 1659.0,1610.5 1653.0,1614.5 1647.0,1616.8 1635.0,1617.8 1629.0,1616.5 1623.4,1614.0 1615.0,1606.7 1609.7,1596.0 1608.7,1584.0 1612.4,1572.0 1620.3,1562.0 1630.5,1556.0Z"/>
<path fill="#ffffd4" d="M1633.4,1556.0 1645.0,1555.1 1651.0,1556.5 1657.0,1559.3 1662.7,1564.0 1665.8,1568.0 1668.7,1574.0 1670.2,1580.0 1669.7,1592.0 1667.6,1598.0 1664.1,1604.0 1655.0,1612.3 1649.0,1615.2 1643.0,1616.7 1637.0,1617.0 1631.0,1616.1 1621.0,1611.3 1617.0,1607.6 1613.0,1602.0 1609.8,1592.0 1610.3,1580.0 1614.5,1570.0 1623.0,1561.0 1633.4,1556.0Z"/>
<path fill="#ffffd9" d="M1638.3,1556.0 1645.0,1556.0 1651.0,1557.4 1656.3,1560.0 1661.0,1563.6 1667.0,1572.2 1669.0,1578.0 1669.7,1584.0 1669.2,1590.0 1667.5,1596.0 1661.0,1606.3 1651.0,1613.5 1645.0,1615.5 1639.0,1616.2 1633.0,1615.6 1627.6,1614.0 1619.0,1608.4 1613.0,1599.9 1611.0,1594.0 1610.3,1588.0 1610.8,1582.0 1612.5,1576.0 1618.7,1566.0 1627.0,1559.5 1638.3,1556.0Z"/>
<path fill="#ffffde" d="M1633.0,1558.0 1639.0,1556.9 1645.0,1557.0 1655.0,1560.3 1660.0,1564.0 1663.5,1568.0 1668.0,1578.0 1668.8,1584.0 1668.3,1590.0 1664.6,1600.0 1657.0,1608.8 1651.0,1612.5 1645.0,1614.5 1635.0,1615.0 1625.0,1611.7 1620.0,1608.0 1616.5,1604.0 1612.0,1594.0 1611.2,1588.0 1611.7,1582.0 1615.4,1572.0 1623.0,1563.2 1633.0,1558.0Z"/>
<path fill="#ffffe3" d="M1637.2,1558.0 1647.0,1558.3 1657.0,1562.8 1661.0,1566.4 1664.8,1572.0 1667.7,1582.0 1667.7,1588.0 1666.3,1594.0 1661.0,1603.6 1653.0,1610.4 1647.0,1613.0 1641.0,1614.2 1631.0,1613.2 1621.4,1608.0 1615.2,1600.0 1612.3,1590.0 1612.3,1584.0 1613.6,1578.0 1619.0,1568.4 1627.0,1561.6 1637.2,1558.0Z"/>
<path fill="#ffffe8" d="M1632.8,1560.0 1643.0,1558.7 1653.0,1561.4 1661.1,1568.0 1666.1,1578.0 1666.9,1584.0 1666.4,1590.0 1662.5,1600.0 1655.0,1608.0 1645.0,1612.6 1635.0,1613.1 1625.0,1609.4 1617.4,1602.0 1613.9,1594.0 1613.2,1584.0 1616.3,1574.0 1623.0,1565.6 1632.8,1560.0Z"/>
<path fill="#ffffed" d="M1636.7,1560.0 1647.0,1560.3 1655.4,1564.0 1662.6,1572.0 1665.8,1582.0 1665.0,1592.0 1659.9,1602.0 1656.1,1606.0 1651.0,1609.4 1641.0,1612.3 1631.0,1611.2 1623.0,1606.8 1617.0,1599.3 1614.2,1590.0 1615.0,1580.0 1620.0,1570.0 1627.0,1563.7 1636.7,1560.0Z"/>
<path fill="#fffff2" d="M1632.8,1562.0 1643.0,1560.6 1653.0,1563.7 1660.1,1570.0 1664.1,1578.0 1664.8,1588.0 1661.5,1598.0 1654.5,1606.0 1645.0,1610.6 1635.0,1611.1 1627.0,1608.3 1619.9,1602.0 1615.9,1594.0 1615.2,1584.0 1618.5,1574.0 1625.0,1566.3 1632.8,1562.0Z"/>
<path fill="#fffff7" d="M1636.6,1562.0 1647.0,1562.3 1654.7,1566.0 1661.0,1573.2 1663.9,1582.0 1663.0,1592.0 1659.0,1600.1 1651.0,1607.2 1641.0,1610.3 1633.0,1609.7 1625.0,1605.8 1619.0,1598.8 1616.1,1590.0 1617.0,1580.0 1620.9,1572.0 1627.1,1566.0 1636.6,1562.0Z"/>
<path fill="#fffffc" d="M1633.1,1564.0 1643.0,1562.7 1651.0,1565.0 1655.5,1568.0 1659.0,1571.9 1662.5,1580.0 1662.5,1590.0 1659.3,1598.0 1653.0,1604.7 1645.0,1608.6 1635.0,1609.0 1627.2,1606.0 1620.9,1600.0 1617.5,1592.0 1617.1,1584.0 1619.6,1576.0 1625.0,1568.9 1633.1,1564.0Z"/>
</g>
<line x1="1640.5" y1="1580.0" x2="1375.5" y2="1427.0" stroke="#f7941d" stroke-width="3.8" stroke-linecap="round"/>
<line x1="1640.5" y1="1580.0" x2="1487.5" y2="1845.0" stroke="#0c0c80" stroke-width="3.8" stroke-linecap="round"/>
<line x1="1640.5" y1="1580.0" x2="1344.9" y2="1659.2" stroke="#0a6b0a" stroke-width="3.8" stroke-linecap="round"/>
<line x1="1640.5" y1="1580.0" x2="1905.5" y2="1733.0" stroke="#f7941d" stroke-width="3.8" stroke-linecap="round" stroke-dasharray="17.9 23.4" stroke-dashoffset="24.1"/>
<line x1="1640.5" y1="1580.0" x2="1793.5" y2="1315.0" stroke="#0c0c80" stroke-width="3.8" stroke-linecap="round" stroke-dasharray="17.9 23.4" stroke-dashoffset="24.1"/>
<line x1="1640.5" y1="1580.0" x2="1936.1" y2="1500.8" stroke="#0a6b0a" stroke-width="3.8" stroke-linecap="round" stroke-dasharray="17.9 23.4" stroke-dashoffset="24.1"/>
<ellipse cx="1226.6" cy="1954.5" rx="16.8" ry="12.2" transform="rotate(35 1226.6 1954.5)" fill="#fff"/>
<rect x="1875.8" y="1921" width="166.4" height="5.8" fill="#fff"/>
<text x="1960.4" y="1957.3" font-size="24" fill="#fff" text-anchor="middle" textLength="60.9" lengthAdjust="spacingAndGlyphs">40 au</text>
<text x="1226" y="1164" font-size="33.5" font-weight="bold" fill="#fff">d</text>
<line x1="1203.6" y1="1107" x2="1203.6" y2="1118.3" stroke="#fff" stroke-width="2.6"/>
<line x1="1203.6" y1="1997" x2="1203.6" y2="1985.7" stroke="#fff" stroke-width="2.6"/>
<line x1="1261.8" y1="1107" x2="1261.8" y2="1114.2" stroke="#fff" stroke-width="2.6"/>
<line x1="1261.8" y1="1997" x2="1261.8" y2="1989.8" stroke="#fff" stroke-width="2.6"/>
<line x1="1320.1" y1="1107" x2="1320.1" y2="1114.2" stroke="#fff" stroke-width="2.6"/>
<line x1="1320.1" y1="1997" x2="1320.1" y2="1989.8" stroke="#fff" stroke-width="2.6"/>
<line x1="1378.3" y1="1107" x2="1378.3" y2="1114.2" stroke="#fff" stroke-width="2.6"/>
<line x1="1378.3" y1="1997" x2="1378.3" y2="1989.8" stroke="#fff" stroke-width="2.6"/>
<line x1="1436.6" y1="1107" x2="1436.6" y2="1118.3" stroke="#fff" stroke-width="2.6"/>
<line x1="1436.6" y1="1997" x2="1436.6" y2="1985.7" stroke="#fff" stroke-width="2.6"/>
<line x1="1494.8" y1="1107" x2="1494.8" y2="1114.2" stroke="#fff" stroke-width="2.6"/>
<line x1="1494.8" y1="1997" x2="1494.8" y2="1989.8" stroke="#fff" stroke-width="2.6"/>
<line x1="1553.0" y1="1107" x2="1553.0" y2="1114.2" stroke="#fff" stroke-width="2.6"/>
<line x1="1553.0" y1="1997" x2="1553.0" y2="1989.8" stroke="#fff" stroke-width="2.6"/>
<line x1="1611.3" y1="1107" x2="1611.3" y2="1114.2" stroke="#fff" stroke-width="2.6"/>
<line x1="1611.3" y1="1997" x2="1611.3" y2="1989.8" stroke="#fff" stroke-width="2.6"/>
<line x1="1669.5" y1="1107" x2="1669.5" y2="1118.3" stroke="#fff" stroke-width="2.6"/>
<line x1="1669.5" y1="1997" x2="1669.5" y2="1985.7" stroke="#fff" stroke-width="2.6"/>
<line x1="1727.8" y1="1107" x2="1727.8" y2="1114.2" stroke="#fff" stroke-width="2.6"/>
<line x1="1727.8" y1="1997" x2="1727.8" y2="1989.8" stroke="#fff" stroke-width="2.6"/>
<line x1="1786.0" y1="1107" x2="1786.0" y2="1114.2" stroke="#fff" stroke-width="2.6"/>
<line x1="1786.0" y1="1997" x2="1786.0" y2="1989.8" stroke="#fff" stroke-width="2.6"/>
<line x1="1844.2" y1="1107" x2="1844.2" y2="1114.2" stroke="#fff" stroke-width="2.6"/>
<line x1="1844.2" y1="1997" x2="1844.2" y2="1989.8" stroke="#fff" stroke-width="2.6"/>
<line x1="1902.5" y1="1107" x2="1902.5" y2="1118.3" stroke="#fff" stroke-width="2.6"/>
<line x1="1902.5" y1="1997" x2="1902.5" y2="1985.7" stroke="#fff" stroke-width="2.6"/>
<line x1="1960.7" y1="1107" x2="1960.7" y2="1114.2" stroke="#fff" stroke-width="2.6"/>
<line x1="1960.7" y1="1997" x2="1960.7" y2="1989.8" stroke="#fff" stroke-width="2.6"/>
<line x1="2019.0" y1="1107" x2="2019.0" y2="1114.2" stroke="#fff" stroke-width="2.6"/>
<line x1="2019.0" y1="1997" x2="2019.0" y2="1989.8" stroke="#fff" stroke-width="2.6"/>
<line x1="2077.2" y1="1107" x2="2077.2" y2="1114.2" stroke="#fff" stroke-width="2.6"/>
<line x1="2077.2" y1="1997" x2="2077.2" y2="1989.8" stroke="#fff" stroke-width="2.6"/>
<line x1="1188" y1="1140.9" x2="1199.3" y2="1140.9" stroke="#fff" stroke-width="2.6"/>
<line x1="2078" y1="1140.9" x2="2066.7" y2="1140.9" stroke="#fff" stroke-width="2.6"/>
<line x1="1188" y1="1204.7" x2="1195.2" y2="1204.7" stroke="#fff" stroke-width="2.6"/>
<line x1="2078" y1="1204.7" x2="2070.8" y2="1204.7" stroke="#fff" stroke-width="2.6"/>
<line x1="1188" y1="1268.6" x2="1195.2" y2="1268.6" stroke="#fff" stroke-width="2.6"/>
<line x1="2078" y1="1268.6" x2="2070.8" y2="1268.6" stroke="#fff" stroke-width="2.6"/>
<line x1="1188" y1="1332.4" x2="1195.2" y2="1332.4" stroke="#fff" stroke-width="2.6"/>
<line x1="2078" y1="1332.4" x2="2070.8" y2="1332.4" stroke="#fff" stroke-width="2.6"/>
<line x1="1188" y1="1396.2" x2="1199.3" y2="1396.2" stroke="#fff" stroke-width="2.6"/>
<line x1="2078" y1="1396.2" x2="2066.7" y2="1396.2" stroke="#fff" stroke-width="2.6"/>
<line x1="1188" y1="1460.1" x2="1195.2" y2="1460.1" stroke="#fff" stroke-width="2.6"/>
<line x1="2078" y1="1460.1" x2="2070.8" y2="1460.1" stroke="#fff" stroke-width="2.6"/>
<line x1="1188" y1="1523.9" x2="1195.2" y2="1523.9" stroke="#fff" stroke-width="2.6"/>
<line x1="2078" y1="1523.9" x2="2070.8" y2="1523.9" stroke="#fff" stroke-width="2.6"/>
<line x1="1188" y1="1587.7" x2="1195.2" y2="1587.7" stroke="#fff" stroke-width="2.6"/>
<line x1="2078" y1="1587.7" x2="2070.8" y2="1587.7" stroke="#fff" stroke-width="2.6"/>
<line x1="1188" y1="1651.5" x2="1199.3" y2="1651.5" stroke="#fff" stroke-width="2.6"/>
<line x1="2078" y1="1651.5" x2="2066.7" y2="1651.5" stroke="#fff" stroke-width="2.6"/>
<line x1="1188" y1="1715.4" x2="1195.2" y2="1715.4" stroke="#fff" stroke-width="2.6"/>
<line x1="2078" y1="1715.4" x2="2070.8" y2="1715.4" stroke="#fff" stroke-width="2.6"/>
<line x1="1188" y1="1779.2" x2="1195.2" y2="1779.2" stroke="#fff" stroke-width="2.6"/>
<line x1="2078" y1="1779.2" x2="2070.8" y2="1779.2" stroke="#fff" stroke-width="2.6"/>
<line x1="1188" y1="1843.0" x2="1195.2" y2="1843.0" stroke="#fff" stroke-width="2.6"/>
<line x1="2078" y1="1843.0" x2="2070.8" y2="1843.0" stroke="#fff" stroke-width="2.6"/>
<line x1="1188" y1="1906.9" x2="1199.3" y2="1906.9" stroke="#fff" stroke-width="2.6"/>
<line x1="2078" y1="1906.9" x2="2066.7" y2="1906.9" stroke="#fff" stroke-width="2.6"/>
<line x1="1188" y1="1970.7" x2="1195.2" y2="1970.7" stroke="#fff" stroke-width="2.6"/>
<line x1="2078" y1="1970.7" x2="2070.8" y2="1970.7" stroke="#fff" stroke-width="2.6"/>
</g>
<text x="1171.3" y="1148.1" font-size="20.5" text-anchor="end">-24°01'29.2&quot;</text>
<text x="1171.3" y="1403.4" font-size="20.5" text-anchor="end">29.6&quot;</text>
<text x="1171.3" y="1658.7" font-size="20.5" text-anchor="end">30.0&quot;</text>
<text x="1171.3" y="1914.0" font-size="20.5" text-anchor="end">30.4&quot;</text>
<text x="1138.5" y="2030.3" font-size="20.5">16<tspan font-size="14" dx="0.5" dy="-14.8">h</tspan><tspan dx="1" dy="14.8">31</tspan><tspan font-size="14" dx="1" dy="-14.8">m</tspan><tspan dx="1.5" dy="14.8">35.71</tspan><tspan font-size="14" dx="2.5" dy="-14.8">s</tspan></text>
<text x="1404.7" y="2027.8" font-size="20.5">35.68<tspan font-size="14" dx="2" dy="-14.8">s</tspan></text>
<text x="1637.9" y="2027.8" font-size="20.5">35.65<tspan font-size="14" dx="2" dy="-14.8">s</tspan></text>
<text x="1871.1" y="2027.8" font-size="20.5">35.63<tspan font-size="14" dx="2" dy="-14.8">s</tspan></text>
<text x="1633.2" y="2056.2" font-size="24" text-anchor="middle" textLength="266.5" lengthAdjust="spacingAndGlyphs">Right ascension (J2000)</text>
<text transform="translate(1090.3,1546.6) rotate(-90)" font-size="24" text-anchor="middle" textLength="202.3" lengthAdjust="spacingAndGlyphs">Declination (J2000)</text>
</svg>
</body></html>
